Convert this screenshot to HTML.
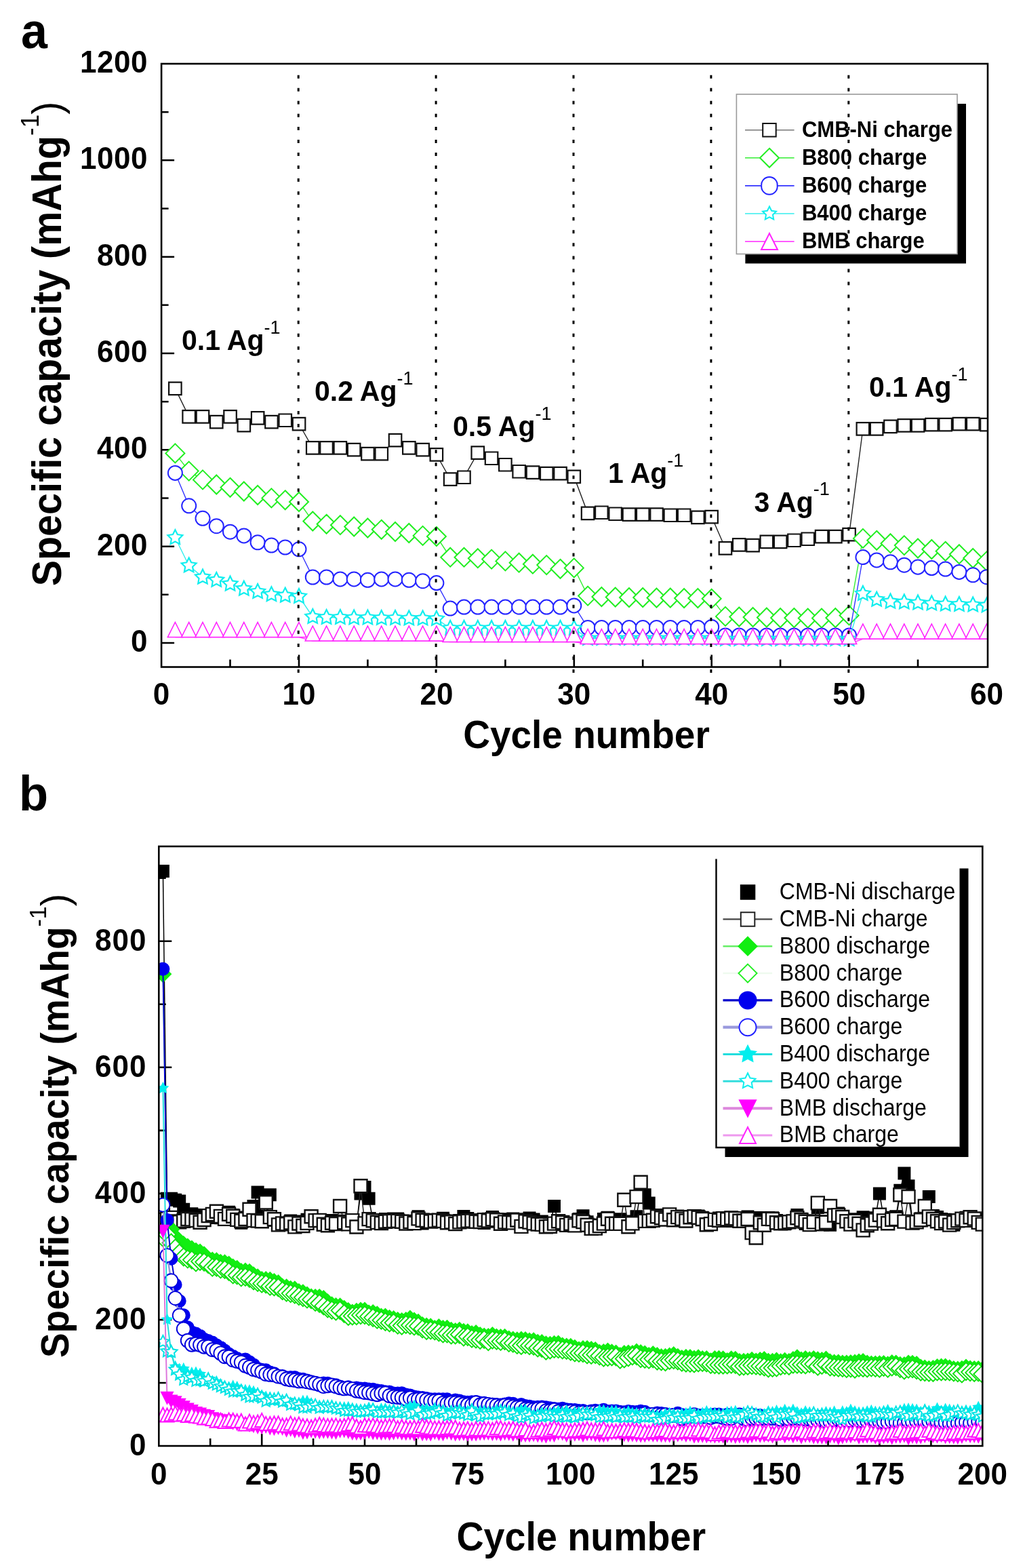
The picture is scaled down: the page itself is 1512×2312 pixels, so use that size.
<!DOCTYPE html>
<html><head><meta charset="utf-8"><title>Rate capability and cycling performance</title>
<style>html,body{margin:0;padding:0;background:#fff;width:1512px;height:2312px;overflow:hidden}svg{display:block}</style>
</head><body>
<svg width="1512" height="2312" viewBox="0 0 1512 2312">
<rect width="1512" height="2312" fill="#fff"/>
<text transform="translate(31 70.5) scale(1 1.05)" style="font-family:'Liberation Sans',Arial,Helvetica,sans-serif;font-weight:bold;font-size:70px">a</text>
<defs><clipPath id="ca"><rect x="238.1" y="94" width="1218.9" height="889.5"/></clipPath><clipPath id="cb"><rect x="234.3" y="1248" width="1215" height="884"/></clipPath></defs>
<path d="M238.1 948h19M238.1 876.8h10.5M238.1 805.7h19M238.1 734.5h10.5M238.1 663.3h19M238.1 592.2h10.5M238.1 521h19M238.1 449.8h10.5M238.1 378.7h19M238.1 307.5h10.5M238.1 236.3h19M238.1 165.2h10.5M339.5 983.5v-11M441 983.5v-18M542.4 983.5v-11M643.9 983.5v-18M745.4 983.5v-11M846.8 983.5v-18M948.2 983.5v-11M1049.7 983.5v-18M1151.1 983.5v-11M1252.6 983.5v-18M1354 983.5v-11" stroke="#000" stroke-width="2.6" fill="none"/>
<g clip-path="url(#ca)">
<path d="M258.4 572.9 278.7 614.4 299 614.4 319.3 622 339.5 614.4 359.8 627 380.1 616.4 400.4 622 420.7 619.8 441 625 461.3 660.5 481.6 660.5 501.9 660.5 522.2 663 542.4 669 562.7 669 583 649 603.3 660.5 623.6 663 643.9 670.5 664.2 706.6 684.5 703.7 704.8 667.6 725.1 675.8 745.4 685.2 765.6 695.2 785.9 696.6 806.2 698 826.5 698 846.8 702.9 867.1 756.9 887.4 755.8 907.7 757.8 928 758.6 948.2 758.6 968.5 758.6 988.8 759.7 1009.1 759.7 1029.4 762.9 1049.7 762 1070 808.5 1090.3 803.5 1110.6 804.1 1130.9 798.9 1151.1 798.9 1171.4 796.8 1191.7 794.8 1212 791 1232.3 791 1252.6 788.1 1272.9 632.4 1293.2 632.4 1313.5 628.9 1333.8 627.4 1354 627.4 1374.3 626 1394.6 626 1414.9 625.1 1435.2 625.1 1455.5 626" fill="none" stroke="#222" stroke-width="1.4"/>
<g fill="#fff" stroke="#111" stroke-width="2.2">
<path d="M249.1 563.6h18.5v18.5h-18.5z"/>
<path d="M269.4 605.1h18.5v18.5h-18.5z"/>
<path d="M289.7 605.1h18.5v18.5h-18.5z"/>
<path d="M310 612.8h18.5v18.5h-18.5z"/>
<path d="M330.3 605.1h18.5v18.5h-18.5z"/>
<path d="M350.6 617.8h18.5v18.5h-18.5z"/>
<path d="M370.9 607.1h18.5v18.5h-18.5z"/>
<path d="M391.2 612.8h18.5v18.5h-18.5z"/>
<path d="M411.5 610.5h18.5v18.5h-18.5z"/>
<path d="M431.8 615.8h18.5v18.5h-18.5z"/>
<path d="M452 651.2h18.5v18.5h-18.5z"/>
<path d="M472.3 651.2h18.5v18.5h-18.5z"/>
<path d="M492.6 651.2h18.5v18.5h-18.5z"/>
<path d="M512.9 653.8h18.5v18.5h-18.5z"/>
<path d="M533.2 659.8h18.5v18.5h-18.5z"/>
<path d="M553.5 659.8h18.5v18.5h-18.5z"/>
<path d="M573.8 639.8h18.5v18.5h-18.5z"/>
<path d="M594.1 651.2h18.5v18.5h-18.5z"/>
<path d="M614.4 653.8h18.5v18.5h-18.5z"/>
<path d="M634.6 661.2h18.5v18.5h-18.5z"/>
<path d="M654.9 697.4h18.5v18.5h-18.5z"/>
<path d="M675.2 694.5h18.5v18.5h-18.5z"/>
<path d="M695.5 658.4h18.5v18.5h-18.5z"/>
<path d="M715.8 666.5h18.5v18.5h-18.5z"/>
<path d="M736.1 676h18.5v18.5h-18.5z"/>
<path d="M756.4 686h18.5v18.5h-18.5z"/>
<path d="M776.7 687.4h18.5v18.5h-18.5z"/>
<path d="M797 688.8h18.5v18.5h-18.5z"/>
<path d="M817.3 688.8h18.5v18.5h-18.5z"/>
<path d="M837.5 693.6h18.5v18.5h-18.5z"/>
<path d="M857.8 747.6h18.5v18.5h-18.5z"/>
<path d="M878.1 746.5h18.5v18.5h-18.5z"/>
<path d="M898.4 748.5h18.5v18.5h-18.5z"/>
<path d="M918.7 749.4h18.5v18.5h-18.5z"/>
<path d="M939 749.4h18.5v18.5h-18.5z"/>
<path d="M959.3 749.4h18.5v18.5h-18.5z"/>
<path d="M979.6 750.5h18.5v18.5h-18.5z"/>
<path d="M999.9 750.5h18.5v18.5h-18.5z"/>
<path d="M1020.2 753.6h18.5v18.5h-18.5z"/>
<path d="M1040.4 752.8h18.5v18.5h-18.5z"/>
<path d="M1060.7 799.2h18.5v18.5h-18.5z"/>
<path d="M1081 794.2h18.5v18.5h-18.5z"/>
<path d="M1101.3 794.9h18.5v18.5h-18.5z"/>
<path d="M1121.6 789.6h18.5v18.5h-18.5z"/>
<path d="M1141.9 789.6h18.5v18.5h-18.5z"/>
<path d="M1162.2 787.5h18.5v18.5h-18.5z"/>
<path d="M1182.5 785.5h18.5v18.5h-18.5z"/>
<path d="M1202.8 781.8h18.5v18.5h-18.5z"/>
<path d="M1223.1 781.8h18.5v18.5h-18.5z"/>
<path d="M1243.3 778.9h18.5v18.5h-18.5z"/>
<path d="M1263.6 623.1h18.5v18.5h-18.5z"/>
<path d="M1283.9 623.1h18.5v18.5h-18.5z"/>
<path d="M1304.2 619.6h18.5v18.5h-18.5z"/>
<path d="M1324.5 618.1h18.5v18.5h-18.5z"/>
<path d="M1344.8 618.1h18.5v18.5h-18.5z"/>
<path d="M1365.1 616.8h18.5v18.5h-18.5z"/>
<path d="M1385.4 616.8h18.5v18.5h-18.5z"/>
<path d="M1405.7 615.9h18.5v18.5h-18.5z"/>
<path d="M1426 615.9h18.5v18.5h-18.5z"/>
<path d="M1446.2 616.8h18.5v18.5h-18.5z"/>
</g>
<path d="M258.4 668.4 278.7 694.6 299 707.4 319.3 714.5 339.5 718.8 359.8 724.5 380.1 730 400.4 734.4 420.7 737.3 441 740 461.3 768.5 481.6 772.8 501.9 774.2 522.2 776.5 542.4 778.5 562.7 780.8 583 784 603.3 786 623.6 789.9 643.9 791 664.2 821.7 684.5 821.7 704.8 823.2 725.1 824.6 745.4 827.4 765.6 829.7 785.9 831.7 806.2 833.1 826.5 838.8 846.8 837.4 867.1 878.6 887.4 880 907.7 880.5 928 881 948.2 881 968.5 881.5 988.8 881.5 1009.1 882 1029.4 882 1049.7 882.7 1070 908.9 1090.3 909.5 1110.6 910 1130.9 910.5 1151.1 911 1171.4 911 1191.7 911.5 1212 911.5 1232.3 911 1252.6 907.4 1272.9 793.9 1293.2 796.8 1313.5 801.2 1333.8 804.1 1354 808.5 1374.3 810 1394.6 812.8 1414.9 817.2 1435.2 823 1455.5 827.4" fill="none" stroke="#33ee33" stroke-width="1.4"/>
<g fill="#fff" stroke="#22ee22" stroke-width="2.0">
<path d="M258.4 654.4l14 14l-14 14l-14 -14z"/>
<path d="M278.7 680.6l14 14l-14 14l-14 -14z"/>
<path d="M299 693.4l14 14l-14 14l-14 -14z"/>
<path d="M319.3 700.5l14 14l-14 14l-14 -14z"/>
<path d="M339.5 704.8l14 14l-14 14l-14 -14z"/>
<path d="M359.8 710.5l14 14l-14 14l-14 -14z"/>
<path d="M380.1 716l14 14l-14 14l-14 -14z"/>
<path d="M400.4 720.4l14 14l-14 14l-14 -14z"/>
<path d="M420.7 723.3l14 14l-14 14l-14 -14z"/>
<path d="M441 726l14 14l-14 14l-14 -14z"/>
<path d="M461.3 754.5l14 14l-14 14l-14 -14z"/>
<path d="M481.6 758.8l14 14l-14 14l-14 -14z"/>
<path d="M501.9 760.2l14 14l-14 14l-14 -14z"/>
<path d="M522.2 762.5l14 14l-14 14l-14 -14z"/>
<path d="M542.4 764.5l14 14l-14 14l-14 -14z"/>
<path d="M562.7 766.8l14 14l-14 14l-14 -14z"/>
<path d="M583 770l14 14l-14 14l-14 -14z"/>
<path d="M603.3 772l14 14l-14 14l-14 -14z"/>
<path d="M623.6 775.9l14 14l-14 14l-14 -14z"/>
<path d="M643.9 777l14 14l-14 14l-14 -14z"/>
<path d="M664.2 807.7l14 14l-14 14l-14 -14z"/>
<path d="M684.5 807.7l14 14l-14 14l-14 -14z"/>
<path d="M704.8 809.2l14 14l-14 14l-14 -14z"/>
<path d="M725.1 810.6l14 14l-14 14l-14 -14z"/>
<path d="M745.4 813.4l14 14l-14 14l-14 -14z"/>
<path d="M765.6 815.7l14 14l-14 14l-14 -14z"/>
<path d="M785.9 817.7l14 14l-14 14l-14 -14z"/>
<path d="M806.2 819.1l14 14l-14 14l-14 -14z"/>
<path d="M826.5 824.8l14 14l-14 14l-14 -14z"/>
<path d="M846.8 823.4l14 14l-14 14l-14 -14z"/>
<path d="M867.1 864.6l14 14l-14 14l-14 -14z"/>
<path d="M887.4 866l14 14l-14 14l-14 -14z"/>
<path d="M907.7 866.5l14 14l-14 14l-14 -14z"/>
<path d="M928 867l14 14l-14 14l-14 -14z"/>
<path d="M948.2 867l14 14l-14 14l-14 -14z"/>
<path d="M968.5 867.5l14 14l-14 14l-14 -14z"/>
<path d="M988.8 867.5l14 14l-14 14l-14 -14z"/>
<path d="M1009.1 868l14 14l-14 14l-14 -14z"/>
<path d="M1029.4 868l14 14l-14 14l-14 -14z"/>
<path d="M1049.7 868.7l14 14l-14 14l-14 -14z"/>
<path d="M1070 894.9l14 14l-14 14l-14 -14z"/>
<path d="M1090.3 895.5l14 14l-14 14l-14 -14z"/>
<path d="M1110.6 896l14 14l-14 14l-14 -14z"/>
<path d="M1130.9 896.5l14 14l-14 14l-14 -14z"/>
<path d="M1151.1 897l14 14l-14 14l-14 -14z"/>
<path d="M1171.4 897l14 14l-14 14l-14 -14z"/>
<path d="M1191.7 897.5l14 14l-14 14l-14 -14z"/>
<path d="M1212 897.5l14 14l-14 14l-14 -14z"/>
<path d="M1232.3 897l14 14l-14 14l-14 -14z"/>
<path d="M1252.6 893.4l14 14l-14 14l-14 -14z"/>
<path d="M1272.9 779.9l14 14l-14 14l-14 -14z"/>
<path d="M1293.2 782.8l14 14l-14 14l-14 -14z"/>
<path d="M1313.5 787.2l14 14l-14 14l-14 -14z"/>
<path d="M1333.8 790.1l14 14l-14 14l-14 -14z"/>
<path d="M1354 794.5l14 14l-14 14l-14 -14z"/>
<path d="M1374.3 796l14 14l-14 14l-14 -14z"/>
<path d="M1394.6 798.8l14 14l-14 14l-14 -14z"/>
<path d="M1414.9 803.2l14 14l-14 14l-14 -14z"/>
<path d="M1435.2 809l14 14l-14 14l-14 -14z"/>
<path d="M1455.5 813.4l14 14l-14 14l-14 -14z"/>
</g>
<path d="M258.4 697.4 278.7 745.8 299 764.3 319.3 775.7 339.5 784.2 359.8 789.9 380.1 799.8 400.4 804 420.7 807 441 809.8 461.3 851 481.6 851 501.9 853.9 522.2 853.9 542.4 855.3 562.7 853.9 583 853.9 603.3 855.3 623.6 856.7 643.9 859.6 664.2 897.1 684.5 895.1 704.8 895.1 725.1 895.1 745.4 895.1 765.6 895.1 785.9 895.1 806.2 895.1 826.5 895.1 846.8 892.9 867.1 925.5 887.4 925.5 907.7 925.5 928 925.5 948.2 925.5 968.5 925.5 988.8 925.5 1009.1 925.5 1029.4 925.5 1049.7 924.5 1070 937 1090.3 937 1110.6 937 1130.9 937 1151.1 937 1171.4 937 1191.7 937 1212 937 1232.3 937 1252.6 937 1272.9 821.6 1293.2 825.9 1313.5 828.8 1333.8 833.2 1354 836.1 1374.3 837.6 1394.6 839 1414.9 843.4 1435.2 847.8 1455.5 850.7" fill="none" stroke="#3333ff" stroke-width="1.4"/>
<g fill="#fff" stroke="#2525ff" stroke-width="2.0">
<path d="M247.9 697.4a10.5 10.5 0 1 0 21 0a10.5 10.5 0 1 0 -21 0"/>
<path d="M268.2 745.8a10.5 10.5 0 1 0 21 0a10.5 10.5 0 1 0 -21 0"/>
<path d="M288.5 764.3a10.5 10.5 0 1 0 21 0a10.5 10.5 0 1 0 -21 0"/>
<path d="M308.8 775.7a10.5 10.5 0 1 0 21 0a10.5 10.5 0 1 0 -21 0"/>
<path d="M329 784.2a10.5 10.5 0 1 0 21 0a10.5 10.5 0 1 0 -21 0"/>
<path d="M349.3 789.9a10.5 10.5 0 1 0 21 0a10.5 10.5 0 1 0 -21 0"/>
<path d="M369.6 799.8a10.5 10.5 0 1 0 21 0a10.5 10.5 0 1 0 -21 0"/>
<path d="M389.9 804a10.5 10.5 0 1 0 21 0a10.5 10.5 0 1 0 -21 0"/>
<path d="M410.2 807a10.5 10.5 0 1 0 21 0a10.5 10.5 0 1 0 -21 0"/>
<path d="M430.5 809.8a10.5 10.5 0 1 0 21 0a10.5 10.5 0 1 0 -21 0"/>
<path d="M450.8 851a10.5 10.5 0 1 0 21 0a10.5 10.5 0 1 0 -21 0"/>
<path d="M471.1 851a10.5 10.5 0 1 0 21 0a10.5 10.5 0 1 0 -21 0"/>
<path d="M491.4 853.9a10.5 10.5 0 1 0 21 0a10.5 10.5 0 1 0 -21 0"/>
<path d="M511.7 853.9a10.5 10.5 0 1 0 21 0a10.5 10.5 0 1 0 -21 0"/>
<path d="M531.9 855.3a10.5 10.5 0 1 0 21 0a10.5 10.5 0 1 0 -21 0"/>
<path d="M552.2 853.9a10.5 10.5 0 1 0 21 0a10.5 10.5 0 1 0 -21 0"/>
<path d="M572.5 853.9a10.5 10.5 0 1 0 21 0a10.5 10.5 0 1 0 -21 0"/>
<path d="M592.8 855.3a10.5 10.5 0 1 0 21 0a10.5 10.5 0 1 0 -21 0"/>
<path d="M613.1 856.7a10.5 10.5 0 1 0 21 0a10.5 10.5 0 1 0 -21 0"/>
<path d="M633.4 859.6a10.5 10.5 0 1 0 21 0a10.5 10.5 0 1 0 -21 0"/>
<path d="M653.7 897.1a10.5 10.5 0 1 0 21 0a10.5 10.5 0 1 0 -21 0"/>
<path d="M674 895.1a10.5 10.5 0 1 0 21 0a10.5 10.5 0 1 0 -21 0"/>
<path d="M694.3 895.1a10.5 10.5 0 1 0 21 0a10.5 10.5 0 1 0 -21 0"/>
<path d="M714.6 895.1a10.5 10.5 0 1 0 21 0a10.5 10.5 0 1 0 -21 0"/>
<path d="M734.9 895.1a10.5 10.5 0 1 0 21 0a10.5 10.5 0 1 0 -21 0"/>
<path d="M755.1 895.1a10.5 10.5 0 1 0 21 0a10.5 10.5 0 1 0 -21 0"/>
<path d="M775.4 895.1a10.5 10.5 0 1 0 21 0a10.5 10.5 0 1 0 -21 0"/>
<path d="M795.7 895.1a10.5 10.5 0 1 0 21 0a10.5 10.5 0 1 0 -21 0"/>
<path d="M816 895.1a10.5 10.5 0 1 0 21 0a10.5 10.5 0 1 0 -21 0"/>
<path d="M836.3 892.9a10.5 10.5 0 1 0 21 0a10.5 10.5 0 1 0 -21 0"/>
<path d="M856.6 925.5a10.5 10.5 0 1 0 21 0a10.5 10.5 0 1 0 -21 0"/>
<path d="M876.9 925.5a10.5 10.5 0 1 0 21 0a10.5 10.5 0 1 0 -21 0"/>
<path d="M897.2 925.5a10.5 10.5 0 1 0 21 0a10.5 10.5 0 1 0 -21 0"/>
<path d="M917.5 925.5a10.5 10.5 0 1 0 21 0a10.5 10.5 0 1 0 -21 0"/>
<path d="M937.8 925.5a10.5 10.5 0 1 0 21 0a10.5 10.5 0 1 0 -21 0"/>
<path d="M958 925.5a10.5 10.5 0 1 0 21 0a10.5 10.5 0 1 0 -21 0"/>
<path d="M978.3 925.5a10.5 10.5 0 1 0 21 0a10.5 10.5 0 1 0 -21 0"/>
<path d="M998.6 925.5a10.5 10.5 0 1 0 21 0a10.5 10.5 0 1 0 -21 0"/>
<path d="M1018.9 925.5a10.5 10.5 0 1 0 21 0a10.5 10.5 0 1 0 -21 0"/>
<path d="M1039.2 924.5a10.5 10.5 0 1 0 21 0a10.5 10.5 0 1 0 -21 0"/>
<path d="M1059.5 937a10.5 10.5 0 1 0 21 0a10.5 10.5 0 1 0 -21 0"/>
<path d="M1079.8 937a10.5 10.5 0 1 0 21 0a10.5 10.5 0 1 0 -21 0"/>
<path d="M1100.1 937a10.5 10.5 0 1 0 21 0a10.5 10.5 0 1 0 -21 0"/>
<path d="M1120.4 937a10.5 10.5 0 1 0 21 0a10.5 10.5 0 1 0 -21 0"/>
<path d="M1140.6 937a10.5 10.5 0 1 0 21 0a10.5 10.5 0 1 0 -21 0"/>
<path d="M1160.9 937a10.5 10.5 0 1 0 21 0a10.5 10.5 0 1 0 -21 0"/>
<path d="M1181.2 937a10.5 10.5 0 1 0 21 0a10.5 10.5 0 1 0 -21 0"/>
<path d="M1201.5 937a10.5 10.5 0 1 0 21 0a10.5 10.5 0 1 0 -21 0"/>
<path d="M1221.8 937a10.5 10.5 0 1 0 21 0a10.5 10.5 0 1 0 -21 0"/>
<path d="M1242.1 937a10.5 10.5 0 1 0 21 0a10.5 10.5 0 1 0 -21 0"/>
<path d="M1262.4 821.6a10.5 10.5 0 1 0 21 0a10.5 10.5 0 1 0 -21 0"/>
<path d="M1282.7 825.9a10.5 10.5 0 1 0 21 0a10.5 10.5 0 1 0 -21 0"/>
<path d="M1303 828.8a10.5 10.5 0 1 0 21 0a10.5 10.5 0 1 0 -21 0"/>
<path d="M1323.3 833.2a10.5 10.5 0 1 0 21 0a10.5 10.5 0 1 0 -21 0"/>
<path d="M1343.5 836.1a10.5 10.5 0 1 0 21 0a10.5 10.5 0 1 0 -21 0"/>
<path d="M1363.8 837.6a10.5 10.5 0 1 0 21 0a10.5 10.5 0 1 0 -21 0"/>
<path d="M1384.1 839a10.5 10.5 0 1 0 21 0a10.5 10.5 0 1 0 -21 0"/>
<path d="M1404.4 843.4a10.5 10.5 0 1 0 21 0a10.5 10.5 0 1 0 -21 0"/>
<path d="M1424.7 847.8a10.5 10.5 0 1 0 21 0a10.5 10.5 0 1 0 -21 0"/>
<path d="M1445 850.7a10.5 10.5 0 1 0 21 0a10.5 10.5 0 1 0 -21 0"/>
</g>
<path d="M258.4 792.8 278.7 834 299 851.1 319.3 855.4 339.5 861.1 359.8 868.2 380.1 872.5 400.4 876.7 420.7 878.1 441 879.5 461.3 909.5 481.6 910.5 501.9 910.5 522.2 911 542.4 911 562.7 911.5 583 911.5 603.3 912 623.6 912 643.9 912.5 664.2 926.5 684.5 926.5 704.8 926.5 725.1 926.5 745.4 926.5 765.6 926.5 785.9 926.5 806.2 926.5 826.5 926.5 846.8 926.5 867.1 941.5 887.4 941.5 907.7 941.5 928 941.5 948.2 941.5 968.5 941.5 988.8 941.5 1009.1 941.5 1029.4 941.5 1049.7 941.5 1070 942.5 1090.3 942.5 1110.6 942.5 1130.9 942.5 1151.1 942.5 1171.4 942.5 1191.7 942.5 1212 942.5 1232.3 942.5 1252.6 942.5 1272.9 875.5 1293.2 884.2 1313.5 887.1 1333.8 888 1354 889 1374.3 890 1394.6 891 1414.9 891.5 1435.2 892 1455.5 892.9" fill="none" stroke="#33eeee" stroke-width="1.4"/>
<g fill="#fff" stroke="#11eeee" stroke-width="2.2">
<path d="M258.4 781.3L261.8 788.1L269.3 789.2L263.9 794.6L265.1 802.1L258.4 798.5L251.6 802.1L252.9 794.6L247.5 789.2L255 788.1z"/>
<path d="M278.7 822.5L282.1 829.3L289.6 830.4L284.1 835.8L285.4 843.3L278.7 839.8L271.9 843.3L273.2 835.8L267.7 830.4L275.3 829.3z"/>
<path d="M299 839.6L302.3 846.4L309.9 847.5L304.4 852.9L305.7 860.4L299 856.9L292.2 860.4L293.5 852.9L288 847.5L295.6 846.4z"/>
<path d="M319.3 843.9L322.6 850.7L330.2 851.8L324.7 857.2L326 864.7L319.3 861.1L312.5 864.7L313.8 857.2L308.3 851.8L315.9 850.7z"/>
<path d="M339.5 849.6L342.9 856.4L350.5 857.5L345 862.9L346.3 870.4L339.5 866.9L332.8 870.4L334.1 862.9L328.6 857.5L336.2 856.4z"/>
<path d="M359.8 856.7L363.2 863.5L370.8 864.6L365.3 870L366.6 877.5L359.8 874L353.1 877.5L354.4 870L348.9 864.6L356.5 863.5z"/>
<path d="M380.1 861L383.5 867.8L391.1 868.9L385.6 874.3L386.9 881.8L380.1 878.2L373.4 881.8L374.7 874.3L369.2 868.9L376.8 867.8z"/>
<path d="M400.4 865.2L403.8 872L411.4 873.1L405.9 878.5L407.2 886L400.4 882.5L393.7 886L395 878.5L389.5 873.1L397 872z"/>
<path d="M420.7 866.6L424.1 873.4L431.6 874.5L426.2 879.9L427.5 887.4L420.7 883.9L414 887.4L415.2 879.9L409.8 874.5L417.3 873.4z"/>
<path d="M441 868L444.4 874.8L451.9 875.9L446.5 881.3L447.8 888.8L441 885.2L434.2 888.8L435.5 881.3L430.1 875.9L437.6 874.8z"/>
<path d="M461.3 898L464.7 904.8L472.2 905.9L466.8 911.3L468 918.8L461.3 915.2L454.5 918.8L455.8 911.3L450.4 905.9L457.9 904.8z"/>
<path d="M481.6 899L485 905.8L492.5 906.9L487 912.3L488.3 919.8L481.6 916.2L474.8 919.8L476.1 912.3L470.6 906.9L478.2 905.8z"/>
<path d="M501.9 899L505.2 905.8L512.8 906.9L507.3 912.3L508.6 919.8L501.9 916.2L495.1 919.8L496.4 912.3L490.9 906.9L498.5 905.8z"/>
<path d="M522.2 899.5L525.5 906.3L533.1 907.4L527.6 912.8L528.9 920.3L522.2 916.8L515.4 920.3L516.7 912.8L511.2 907.4L518.8 906.3z"/>
<path d="M542.4 899.5L545.8 906.3L553.4 907.4L547.9 912.8L549.2 920.3L542.4 916.8L535.7 920.3L537 912.8L531.5 907.4L539.1 906.3z"/>
<path d="M562.7 900L566.1 906.8L573.7 907.9L568.2 913.3L569.5 920.8L562.7 917.2L556 920.8L557.3 913.3L551.8 907.9L559.4 906.8z"/>
<path d="M583 900L586.4 906.8L594 907.9L588.5 913.3L589.8 920.8L583 917.2L576.3 920.8L577.6 913.3L572.1 907.9L579.7 906.8z"/>
<path d="M603.3 900.5L606.7 907.3L614.3 908.4L608.8 913.8L610.1 921.3L603.3 917.8L596.6 921.3L597.9 913.8L592.4 908.4L599.9 907.3z"/>
<path d="M623.6 900.5L627 907.3L634.5 908.4L629.1 913.8L630.4 921.3L623.6 917.8L616.9 921.3L618.1 913.8L612.7 908.4L620.2 907.3z"/>
<path d="M643.9 901L647.3 907.8L654.8 908.9L649.4 914.3L650.7 921.8L643.9 918.2L637.1 921.8L638.4 914.3L633 908.9L640.5 907.8z"/>
<path d="M664.2 915L667.6 921.8L675.1 922.9L669.7 928.3L670.9 935.8L664.2 932.2L657.4 935.8L658.7 928.3L653.3 922.9L660.8 921.8z"/>
<path d="M684.5 915L687.9 921.8L695.4 922.9L689.9 928.3L691.2 935.8L684.5 932.2L677.7 935.8L679 928.3L673.5 922.9L681.1 921.8z"/>
<path d="M704.8 915L708.1 921.8L715.7 922.9L710.2 928.3L711.5 935.8L704.8 932.2L698 935.8L699.3 928.3L693.8 922.9L701.4 921.8z"/>
<path d="M725.1 915L728.4 921.8L736 922.9L730.5 928.3L731.8 935.8L725.1 932.2L718.3 935.8L719.6 928.3L714.1 922.9L721.7 921.8z"/>
<path d="M745.4 915L748.7 921.8L756.3 922.9L750.8 928.3L752.1 935.8L745.4 932.2L738.6 935.8L739.9 928.3L734.4 922.9L742 921.8z"/>
<path d="M765.6 915L769 921.8L776.6 922.9L771.1 928.3L772.4 935.8L765.6 932.2L758.9 935.8L760.2 928.3L754.7 922.9L762.3 921.8z"/>
<path d="M785.9 915L789.3 921.8L796.9 922.9L791.4 928.3L792.7 935.8L785.9 932.2L779.2 935.8L780.5 928.3L775 922.9L782.6 921.8z"/>
<path d="M806.2 915L809.6 921.8L817.2 922.9L811.7 928.3L813 935.8L806.2 932.2L799.5 935.8L800.8 928.3L795.3 922.9L802.8 921.8z"/>
<path d="M826.5 915L829.9 921.8L837.4 922.9L832 928.3L833.3 935.8L826.5 932.2L819.8 935.8L821 928.3L815.6 922.9L823.1 921.8z"/>
<path d="M846.8 915L850.2 921.8L857.7 922.9L852.3 928.3L853.6 935.8L846.8 932.2L840 935.8L841.3 928.3L835.9 922.9L843.4 921.8z"/>
<path d="M867.1 930L870.5 936.8L878 937.9L872.6 943.3L873.8 950.8L867.1 947.2L860.3 950.8L861.6 943.3L856.2 937.9L863.7 936.8z"/>
<path d="M887.4 930L890.8 936.8L898.3 937.9L892.8 943.3L894.1 950.8L887.4 947.2L880.6 950.8L881.9 943.3L876.4 937.9L884 936.8z"/>
<path d="M907.7 930L911 936.8L918.6 937.9L913.1 943.3L914.4 950.8L907.7 947.2L900.9 950.8L902.2 943.3L896.7 937.9L904.3 936.8z"/>
<path d="M928 930L931.3 936.8L938.9 937.9L933.4 943.3L934.7 950.8L928 947.2L921.2 950.8L922.5 943.3L917 937.9L924.6 936.8z"/>
<path d="M948.2 930L951.6 936.8L959.2 937.9L953.7 943.3L955 950.8L948.2 947.2L941.5 950.8L942.8 943.3L937.3 937.9L944.9 936.8z"/>
<path d="M968.5 930L971.9 936.8L979.5 937.9L974 943.3L975.3 950.8L968.5 947.2L961.8 950.8L963.1 943.3L957.6 937.9L965.2 936.8z"/>
<path d="M988.8 930L992.2 936.8L999.8 937.9L994.3 943.3L995.6 950.8L988.8 947.2L982.1 950.8L983.4 943.3L977.9 937.9L985.5 936.8z"/>
<path d="M1009.1 930L1012.5 936.8L1020.1 937.9L1014.6 943.3L1015.9 950.8L1009.1 947.2L1002.4 950.8L1003.7 943.3L998.2 937.9L1005.7 936.8z"/>
<path d="M1029.4 930L1032.8 936.8L1040.3 937.9L1034.9 943.3L1036.2 950.8L1029.4 947.2L1022.7 950.8L1023.9 943.3L1018.5 937.9L1026 936.8z"/>
<path d="M1049.7 930L1053.1 936.8L1060.6 937.9L1055.2 943.3L1056.5 950.8L1049.7 947.2L1042.9 950.8L1044.2 943.3L1038.8 937.9L1046.3 936.8z"/>
<path d="M1070 931L1073.4 937.8L1080.9 938.9L1075.5 944.3L1076.7 951.8L1070 948.2L1063.2 951.8L1064.5 944.3L1059.1 938.9L1066.6 937.8z"/>
<path d="M1090.3 931L1093.7 937.8L1101.2 938.9L1095.7 944.3L1097 951.8L1090.3 948.2L1083.5 951.8L1084.8 944.3L1079.3 938.9L1086.9 937.8z"/>
<path d="M1110.6 931L1113.9 937.8L1121.5 938.9L1116 944.3L1117.3 951.8L1110.6 948.2L1103.8 951.8L1105.1 944.3L1099.6 938.9L1107.2 937.8z"/>
<path d="M1130.9 931L1134.2 937.8L1141.8 938.9L1136.3 944.3L1137.6 951.8L1130.9 948.2L1124.1 951.8L1125.4 944.3L1119.9 938.9L1127.5 937.8z"/>
<path d="M1151.1 931L1154.5 937.8L1162.1 938.9L1156.6 944.3L1157.9 951.8L1151.1 948.2L1144.4 951.8L1145.7 944.3L1140.2 938.9L1147.8 937.8z"/>
<path d="M1171.4 931L1174.8 937.8L1182.4 938.9L1176.9 944.3L1178.2 951.8L1171.4 948.2L1164.7 951.8L1166 944.3L1160.5 938.9L1168.1 937.8z"/>
<path d="M1191.7 931L1195.1 937.8L1202.7 938.9L1197.2 944.3L1198.5 951.8L1191.7 948.2L1185 951.8L1186.3 944.3L1180.8 938.9L1188.4 937.8z"/>
<path d="M1212 931L1215.4 937.8L1223 938.9L1217.5 944.3L1218.8 951.8L1212 948.2L1205.3 951.8L1206.6 944.3L1201.1 938.9L1208.6 937.8z"/>
<path d="M1232.3 931L1235.7 937.8L1243.2 938.9L1237.8 944.3L1239.1 951.8L1232.3 948.2L1225.6 951.8L1226.8 944.3L1221.4 938.9L1228.9 937.8z"/>
<path d="M1252.6 931L1256 937.8L1263.5 938.9L1258.1 944.3L1259.4 951.8L1252.6 948.2L1245.8 951.8L1247.1 944.3L1241.7 938.9L1249.2 937.8z"/>
<path d="M1272.9 864L1276.3 870.8L1283.8 871.9L1278.4 877.3L1279.6 884.8L1272.9 881.2L1266.1 884.8L1267.4 877.3L1262 871.9L1269.5 870.8z"/>
<path d="M1293.2 872.7L1296.6 879.5L1304.1 880.6L1298.6 886L1299.9 893.5L1293.2 890L1286.4 893.5L1287.7 886L1282.2 880.6L1289.8 879.5z"/>
<path d="M1313.5 875.6L1316.8 882.4L1324.4 883.5L1318.9 888.9L1320.2 896.4L1313.5 892.9L1306.7 896.4L1308 888.9L1302.5 883.5L1310.1 882.4z"/>
<path d="M1333.8 876.5L1337.1 883.3L1344.7 884.4L1339.2 889.8L1340.5 897.3L1333.8 893.8L1327 897.3L1328.3 889.8L1322.8 884.4L1330.4 883.3z"/>
<path d="M1354 877.5L1357.4 884.3L1365 885.4L1359.5 890.8L1360.8 898.3L1354 894.8L1347.3 898.3L1348.6 890.8L1343.1 885.4L1350.7 884.3z"/>
<path d="M1374.3 878.5L1377.7 885.3L1385.3 886.4L1379.8 891.8L1381.1 899.3L1374.3 895.8L1367.6 899.3L1368.9 891.8L1363.4 886.4L1371 885.3z"/>
<path d="M1394.6 879.5L1398 886.3L1405.6 887.4L1400.1 892.8L1401.4 900.3L1394.6 896.8L1387.9 900.3L1389.2 892.8L1383.7 887.4L1391.3 886.3z"/>
<path d="M1414.9 880L1418.3 886.8L1425.9 887.9L1420.4 893.3L1421.7 900.8L1414.9 897.2L1408.2 900.8L1409.5 893.3L1404 887.9L1411.5 886.8z"/>
<path d="M1435.2 880.5L1438.6 887.3L1446.1 888.4L1440.7 893.8L1442 901.3L1435.2 897.8L1428.5 901.3L1429.7 893.8L1424.3 888.4L1431.8 887.3z"/>
<path d="M1455.5 881.4L1458.9 888.2L1466.4 889.3L1461 894.7L1462.3 902.2L1455.5 898.6L1448.7 902.2L1450 894.7L1444.6 889.3L1452.1 888.2z"/>
</g>
<path d="M258.4 939.5 278.7 939.5 299 939.5 319.3 939.5 339.5 939.5 359.8 939.5 380.1 939.5 400.4 939.5 420.7 939.5 441 939.5 461.3 945 481.6 945 501.9 945 522.2 945 542.4 945 562.7 945 583 945 603.3 945 623.6 945 643.9 945 664.2 946.5 684.5 946.5 704.8 946.5 725.1 946.5 745.4 946.5 765.6 946.5 785.9 946.5 806.2 946.5 826.5 946.5 846.8 946.5 867.1 949.5 887.4 949.5 907.7 949.5 928 949.5 948.2 949.5 968.5 949.5 988.8 949.5 1009.1 949.5 1029.4 949.5 1049.7 949.5 1070 949.5 1090.3 949.5 1110.6 949.5 1130.9 949.5 1151.1 949.5 1171.4 949.5 1191.7 949.5 1212 949.5 1232.3 949.5 1252.6 949.5 1272.9 942 1293.2 942 1313.5 942 1333.8 942 1354 942 1374.3 942 1394.6 942 1414.9 942 1435.2 942 1455.5 942" fill="none" stroke="#ff44ff" stroke-width="1.6"/>
<g fill="#fff" stroke="#ff22ff" stroke-width="1.6">
<path d="M258.4 917.5l11 22h-22z"/>
<path d="M278.7 917.5l11 22h-22z"/>
<path d="M299 917.5l11 22h-22z"/>
<path d="M319.3 917.5l11 22h-22z"/>
<path d="M339.5 917.5l11 22h-22z"/>
<path d="M359.8 917.5l11 22h-22z"/>
<path d="M380.1 917.5l11 22h-22z"/>
<path d="M400.4 917.5l11 22h-22z"/>
<path d="M420.7 917.5l11 22h-22z"/>
<path d="M441 917.5l11 22h-22z"/>
<path d="M461.3 923l11 22h-22z"/>
<path d="M481.6 923l11 22h-22z"/>
<path d="M501.9 923l11 22h-22z"/>
<path d="M522.2 923l11 22h-22z"/>
<path d="M542.4 923l11 22h-22z"/>
<path d="M562.7 923l11 22h-22z"/>
<path d="M583 923l11 22h-22z"/>
<path d="M603.3 923l11 22h-22z"/>
<path d="M623.6 923l11 22h-22z"/>
<path d="M643.9 923l11 22h-22z"/>
<path d="M664.2 924.5l11 22h-22z"/>
<path d="M684.5 924.5l11 22h-22z"/>
<path d="M704.8 924.5l11 22h-22z"/>
<path d="M725.1 924.5l11 22h-22z"/>
<path d="M745.4 924.5l11 22h-22z"/>
<path d="M765.6 924.5l11 22h-22z"/>
<path d="M785.9 924.5l11 22h-22z"/>
<path d="M806.2 924.5l11 22h-22z"/>
<path d="M826.5 924.5l11 22h-22z"/>
<path d="M846.8 924.5l11 22h-22z"/>
<path d="M867.1 927.5l11 22h-22z"/>
<path d="M887.4 927.5l11 22h-22z"/>
<path d="M907.7 927.5l11 22h-22z"/>
<path d="M928 927.5l11 22h-22z"/>
<path d="M948.2 927.5l11 22h-22z"/>
<path d="M968.5 927.5l11 22h-22z"/>
<path d="M988.8 927.5l11 22h-22z"/>
<path d="M1009.1 927.5l11 22h-22z"/>
<path d="M1029.4 927.5l11 22h-22z"/>
<path d="M1049.7 927.5l11 22h-22z"/>
<path d="M1070 927.5l11 22h-22z"/>
<path d="M1090.3 927.5l11 22h-22z"/>
<path d="M1110.6 927.5l11 22h-22z"/>
<path d="M1130.9 927.5l11 22h-22z"/>
<path d="M1151.1 927.5l11 22h-22z"/>
<path d="M1171.4 927.5l11 22h-22z"/>
<path d="M1191.7 927.5l11 22h-22z"/>
<path d="M1212 927.5l11 22h-22z"/>
<path d="M1232.3 927.5l11 22h-22z"/>
<path d="M1252.6 927.5l11 22h-22z"/>
<path d="M1272.9 920l11 22h-22z"/>
<path d="M1293.2 920l11 22h-22z"/>
<path d="M1313.5 920l11 22h-22z"/>
<path d="M1333.8 920l11 22h-22z"/>
<path d="M1354 920l11 22h-22z"/>
<path d="M1374.3 920l11 22h-22z"/>
<path d="M1394.6 920l11 22h-22z"/>
<path d="M1414.9 920l11 22h-22z"/>
<path d="M1435.2 920l11 22h-22z"/>
<path d="M1455.5 920l11 22h-22z"/>
</g>
</g>
<rect x="238.1" y="94" width="1218.9" height="889.5" fill="none" stroke="#000" stroke-width="2.6"/>
<text transform="translate(218 961) scale(1 1.05)" text-anchor="end" style="font-family:'Liberation Sans',Arial,Helvetica,sans-serif;font-weight:bold;font-size:44px;letter-spacing:0.5px">0</text>
<text transform="translate(218 818.7) scale(1 1.05)" text-anchor="end" style="font-family:'Liberation Sans',Arial,Helvetica,sans-serif;font-weight:bold;font-size:44px;letter-spacing:0.5px">200</text>
<text transform="translate(218 676.3) scale(1 1.05)" text-anchor="end" style="font-family:'Liberation Sans',Arial,Helvetica,sans-serif;font-weight:bold;font-size:44px;letter-spacing:0.5px">400</text>
<text transform="translate(218 534) scale(1 1.05)" text-anchor="end" style="font-family:'Liberation Sans',Arial,Helvetica,sans-serif;font-weight:bold;font-size:44px;letter-spacing:0.5px">600</text>
<text transform="translate(218 391.7) scale(1 1.05)" text-anchor="end" style="font-family:'Liberation Sans',Arial,Helvetica,sans-serif;font-weight:bold;font-size:44px;letter-spacing:0.5px">800</text>
<text transform="translate(218 249.3) scale(1 1.05)" text-anchor="end" style="font-family:'Liberation Sans',Arial,Helvetica,sans-serif;font-weight:bold;font-size:44px;letter-spacing:0.5px">1000</text>
<text transform="translate(218 107) scale(1 1.05)" text-anchor="end" style="font-family:'Liberation Sans',Arial,Helvetica,sans-serif;font-weight:bold;font-size:44px;letter-spacing:0.5px">1200</text>
<text transform="translate(238.1 1039.3) scale(1 1.05)" text-anchor="middle" style="font-family:'Liberation Sans',Arial,Helvetica,sans-serif;font-weight:bold;font-size:44px">0</text>
<text transform="translate(441 1039.3) scale(1 1.05)" text-anchor="middle" style="font-family:'Liberation Sans',Arial,Helvetica,sans-serif;font-weight:bold;font-size:44px">10</text>
<text transform="translate(643.9 1039.3) scale(1 1.05)" text-anchor="middle" style="font-family:'Liberation Sans',Arial,Helvetica,sans-serif;font-weight:bold;font-size:44px">20</text>
<text transform="translate(846.8 1039.3) scale(1 1.05)" text-anchor="middle" style="font-family:'Liberation Sans',Arial,Helvetica,sans-serif;font-weight:bold;font-size:44px">30</text>
<text transform="translate(1049.7 1039.3) scale(1 1.05)" text-anchor="middle" style="font-family:'Liberation Sans',Arial,Helvetica,sans-serif;font-weight:bold;font-size:44px">40</text>
<text transform="translate(1252.6 1039.3) scale(1 1.05)" text-anchor="middle" style="font-family:'Liberation Sans',Arial,Helvetica,sans-serif;font-weight:bold;font-size:44px">50</text>
<text transform="translate(1455.5 1039.3) scale(1 1.05)" text-anchor="middle" style="font-family:'Liberation Sans',Arial,Helvetica,sans-serif;font-weight:bold;font-size:44px">60</text>
<text transform="translate(865 1102.5) scale(1 1.05)" text-anchor="middle" style="font-family:'Liberation Sans',Arial,Helvetica,sans-serif;font-weight:bold;font-size:55px">Cycle number</text>
<text transform="translate(89.7 507) rotate(-90) scale(1 1.05)" text-anchor="middle" style="font-family:'Liberation Sans',Arial,Helvetica,sans-serif;font-weight:bold;font-size:57.5px">Specific capacity (mAhg<tspan dy="-31" style="font-size:35px;font-weight:normal">-1</tspan><tspan dy="31" style="font-weight:normal">)</tspan></text>
<text transform="translate(268 516) scale(1 1.05)" style="font-family:'Liberation Sans',Arial,Helvetica,sans-serif;font-weight:bold;font-size:41px">0.1 Ag<tspan dy="-23" style="font-size:27px;font-weight:normal">-1</tspan></text>
<text transform="translate(464 590.8) scale(1 1.05)" style="font-family:'Liberation Sans',Arial,Helvetica,sans-serif;font-weight:bold;font-size:41px">0.2 Ag<tspan dy="-23" style="font-size:27px;font-weight:normal">-1</tspan></text>
<text transform="translate(668 643.1) scale(1 1.05)" style="font-family:'Liberation Sans',Arial,Helvetica,sans-serif;font-weight:bold;font-size:41px">0.5 Ag<tspan dy="-23" style="font-size:27px;font-weight:normal">-1</tspan></text>
<text transform="translate(897 712.3) scale(1 1.05)" style="font-family:'Liberation Sans',Arial,Helvetica,sans-serif;font-weight:bold;font-size:41px">1 Ag<tspan dy="-23" style="font-size:27px;font-weight:normal">-1</tspan></text>
<text transform="translate(1112.5 754.6) scale(1 1.05)" style="font-family:'Liberation Sans',Arial,Helvetica,sans-serif;font-weight:bold;font-size:41px">3 Ag<tspan dy="-23" style="font-size:27px;font-weight:normal">-1</tspan></text>
<text transform="translate(1282 585.3) scale(1 1.05)" style="font-family:'Liberation Sans',Arial,Helvetica,sans-serif;font-weight:bold;font-size:41px">0.1 Ag<tspan dy="-23" style="font-size:27px;font-weight:normal">-1</tspan></text>
<rect x="1099.4" y="153" width="325.6" height="235.5" fill="#000"/>
<rect x="1086.4" y="139" width="325.6" height="235.5" fill="#fff" stroke="#999" stroke-width="1.6"/>
<path d="M1099 191.7H1171.6" stroke="#777" stroke-width="1.6"/>
<path d="M1125.2 181.9h19.5v19.5h-19.5z" fill="#fff" stroke="#111" stroke-width="2"/>
<text transform="translate(1183 201.7) scale(1 1.05)" style="font-family:'Liberation Sans',Arial,Helvetica,sans-serif;font-weight:bold;font-size:31px">CMB-Ni charge</text>
<path d="M1099 232.8H1171.6" stroke="#33ee33" stroke-width="1.6"/>
<path d="M1135 218.8l14 14l-14 14l-14 -14z" fill="#fff" stroke="#22ee22" stroke-width="2"/>
<text transform="translate(1183 242.8) scale(1 1.05)" style="font-family:'Liberation Sans',Arial,Helvetica,sans-serif;font-weight:bold;font-size:31px">B800 charge</text>
<path d="M1099 273.9H1171.6" stroke="#3333ff" stroke-width="1.6"/>
<path d="M1123.2 273.9a11.8 11.8 0 1 0 23.5 0a11.8 11.8 0 1 0 -23.5 0" fill="#fff" stroke="#2222ff" stroke-width="2"/>
<text transform="translate(1183 283.9) scale(1 1.05)" style="font-family:'Liberation Sans',Arial,Helvetica,sans-serif;font-weight:bold;font-size:31px">B600 charge</text>
<path d="M1099 315H1171.6" stroke="#33eeee" stroke-width="1.6"/>
<path d="M1135 304.5L1138.1 310.8L1145 311.8L1140 316.6L1141.2 323.5L1135 320.2L1128.8 323.5L1130 316.6L1125 311.8L1131.9 310.8z" fill="#fff" stroke="#11eeee" stroke-width="2"/>
<text transform="translate(1183 325) scale(1 1.05)" style="font-family:'Liberation Sans',Arial,Helvetica,sans-serif;font-weight:bold;font-size:31px">B400 charge</text>
<path d="M1099 356.1H1171.6" stroke="#ff44ff" stroke-width="1.6"/>
<path d="M1135 344.1l12 24h-24z" fill="#fff" stroke="#ff22ff" stroke-width="2"/>
<text transform="translate(1183 366.1) scale(1 1.05)" style="font-family:'Liberation Sans',Arial,Helvetica,sans-serif;font-weight:bold;font-size:31px">BMB charge</text>
<line x1="440.2" y1="110.7" x2="440.2" y2="994" stroke="#000" stroke-width="3" stroke-dasharray="5 14.05"/>
<line x1="643.1" y1="110.7" x2="643.1" y2="994" stroke="#000" stroke-width="3" stroke-dasharray="5 14.05"/>
<line x1="846" y1="110.7" x2="846" y2="994" stroke="#000" stroke-width="3" stroke-dasharray="5 14.05"/>
<line x1="1048.9" y1="110.7" x2="1048.9" y2="994" stroke="#000" stroke-width="3" stroke-dasharray="5 14.05"/>
<line x1="1251.8" y1="110.7" x2="1251.8" y2="994" stroke="#000" stroke-width="3" stroke-dasharray="5 14.05"/>
<text transform="translate(28 1194.5) scale(1 1.02)" style="font-family:'Liberation Sans',Arial,Helvetica,sans-serif;font-weight:bold;font-size:70.5px">b</text>
<path d="M234.3 2039h10.5M234.3 1946h19M234.3 1852.9h10.5M234.3 1759.9h19M234.3 1666.9h10.5M234.3 1573.8h19M234.3 1480.8h10.5M234.3 1387.8h19M234.3 1294.8h10.5M310.2 2132v-11M386.2 2132v-18M462.1 2132v-11M538 2132v-18M614 2132v-11M689.9 2132v-18M765.9 2132v-11M841.8 2132v-18M917.7 2132v-11M993.7 2132v-18M1069.6 2132v-11M1145.5 2132v-18M1221.5 2132v-11M1297.4 2132v-18M1373.4 2132v-11" stroke="#000" stroke-width="2.6" fill="none"/>
<g clip-path="url(#cb)">
<path d="M240.4 1284.5 246.5 1767.3 252.5 1767.3 258.6 1769.2 264.7 1771.1 270.8 1783.2 276.8 1796.2 282.9 1789.8 289 1796.7 295.1 1798 301.1 1791.6 307.2 1794.7 313.3 1795.4 319.4 1791 325.4 1795.8 331.5 1793.3 337.6 1787.2 343.7 1791.6 349.7 1794.9 355.8 1803.2 361.9 1796.4 368 1797.5 374 1778.5 380.1 1758 386.2 1795.2 392.2 1793 398.3 1761.8 404.4 1799.2 410.5 1804.7 416.6 1803.9 422.6 1804.5 428.7 1800.1 434.8 1805.4 440.9 1801.1 446.9 1802.1 453 1798.2 459.1 1793 465.1 1800.5 471.2 1800.4 477.3 1800.7 483.4 1799.6 489.5 1799.5 495.5 1800.7 501.6 1800.2 507.7 1800.5 513.8 1804.5 519.8 1801.8 525.9 1806.6 532 1759.9 538 1750.6 544.1 1767.3 550.2 1800 556.3 1798.7 562.4 1801.8 568.4 1797.6 574.5 1801.5 580.6 1797 586.7 1797.1 592.7 1800.5 598.8 1804 604.9 1801.3 611 1801.3 617 1793.8 623.1 1804.1 629.2 1800 635.2 1799.6 641.3 1800.1 647.4 1798.8 653.5 1796.2 659.5 1799.9 665.6 1802.6 671.7 1802.9 677.8 1799.4 683.9 1793.6 689.9 1796.4 696 1798.8 702.1 1800.6 708.2 1801.2 714.2 1803.5 720.3 1797.3 726.4 1794.6 732.5 1800.9 738.5 1800.2 744.6 1797.8 750.7 1798.7 756.8 1797.1 762.8 1802.3 768.9 1809.3 775 1800.7 781 1795.9 787.1 1798 793.2 1802.8 799.3 1801 805.4 1806.4 811.4 1806 817.5 1778.5 823.6 1802.2 829.7 1805.7 835.7 1806.7 841.8 1804 847.9 1804.9 854 1797.4 860 1792.7 866.1 1801.7 872.2 1811.3 878.2 1808.7 884.3 1805.9 890.4 1797.6 896.5 1795.3 902.5 1804 908.6 1800.1 914.7 1797.8 920.8 1803.8 926.9 1808.8 932.9 1801 939 1793.8 945.1 1755.2 951.2 1761.8 957.2 1773.9 963.3 1799.5 969.4 1793.8 975.5 1791.6 981.5 1794.7 987.6 1791.5 993.7 1799.2 999.8 1793.1 1005.8 1795.8 1011.9 1800.7 1018 1793.7 1024 1793 1030.1 1793 1036.2 1795.2 1042.3 1800.8 1048.4 1797.4 1054.4 1799.7 1060.5 1796 1066.6 1797.2 1072.7 1800.4 1078.7 1794.9 1084.8 1799.2 1090.9 1800.2 1097 1796.6 1103 1794.1 1109.1 1799 1115.2 1799.1 1121.2 1795.5 1127.3 1799.1 1133.4 1795.6 1139.5 1795.8 1145.5 1799.6 1151.6 1803.6 1157.7 1804.8 1163.8 1801.3 1169.9 1800.1 1175.9 1791.5 1182 1797.2 1188.1 1804.4 1194.2 1805.3 1200.2 1800 1206.3 1780.4 1212.4 1804.3 1218.5 1801.1 1224.5 1806.2 1230.6 1792.4 1236.7 1789 1242.8 1795.5 1248.8 1798.3 1254.9 1801.4 1261 1797.7 1267 1800.1 1273.1 1794.8 1279.2 1806.6 1285.3 1804.3 1291.3 1795.7 1297.4 1759.9 1303.5 1795.3 1309.6 1799.2 1315.7 1795.5 1321.7 1793.8 1327.8 1755.2 1333.9 1730.1 1340 1748.7 1346 1800.7 1352.1 1801.5 1358.2 1796.8 1364.2 1792.6 1370.3 1764.6 1376.4 1792.4 1382.5 1794.5 1388.5 1797.6 1394.6 1798.3 1400.7 1800.4 1406.8 1806.3 1412.8 1799.8 1418.9 1797.3 1425 1795.2 1431.1 1796.4 1437.2 1798.8 1443.2 1801.3 1449.3 1798" fill="none" stroke="#000" stroke-width="1.5"/>
<path d="M230.9 1275h19v19h-19zM237 1757.8h19v19h-19zM243 1757.8h19v19h-19zM249.1 1759.7h19v19h-19zM255.2 1761.6h19v19h-19zM261.2 1773.7h19v19h-19zM267.3 1786.7h19v19h-19zM273.4 1780.3h19v19h-19zM279.5 1787.2h19v19h-19zM285.6 1788.5h19v19h-19zM291.6 1782.1h19v19h-19zM297.7 1785.2h19v19h-19zM303.8 1785.9h19v19h-19zM309.9 1781.5h19v19h-19zM315.9 1786.3h19v19h-19zM322 1783.8h19v19h-19zM328.1 1777.7h19v19h-19zM334.2 1782.1h19v19h-19zM340.2 1785.4h19v19h-19zM346.3 1793.7h19v19h-19zM352.4 1786.9h19v19h-19zM358.5 1788h19v19h-19zM364.5 1769h19v19h-19zM370.6 1748.5h19v19h-19zM376.7 1785.7h19v19h-19zM382.8 1783.5h19v19h-19zM388.8 1752.3h19v19h-19zM394.9 1789.7h19v19h-19zM401 1795.2h19v19h-19zM407.1 1794.4h19v19h-19zM413.1 1795h19v19h-19zM419.2 1790.6h19v19h-19zM425.3 1795.9h19v19h-19zM431.4 1791.6h19v19h-19zM437.4 1792.6h19v19h-19zM443.5 1788.7h19v19h-19zM449.6 1783.5h19v19h-19zM455.6 1791h19v19h-19zM461.7 1790.9h19v19h-19zM467.8 1791.2h19v19h-19zM473.9 1790.1h19v19h-19zM480 1790h19v19h-19zM486 1791.2h19v19h-19zM492.1 1790.7h19v19h-19zM498.2 1791h19v19h-19zM504.2 1795h19v19h-19zM510.3 1792.3h19v19h-19zM516.4 1797.1h19v19h-19zM522.5 1750.4h19v19h-19zM528.5 1741.1h19v19h-19zM534.6 1757.8h19v19h-19zM540.7 1790.5h19v19h-19zM546.8 1789.2h19v19h-19zM552.9 1792.3h19v19h-19zM558.9 1788.1h19v19h-19zM565 1792h19v19h-19zM571.1 1787.5h19v19h-19zM577.2 1787.6h19v19h-19zM583.2 1791h19v19h-19zM589.3 1794.5h19v19h-19zM595.4 1791.8h19v19h-19zM601.5 1791.8h19v19h-19zM607.5 1784.3h19v19h-19zM613.6 1794.6h19v19h-19zM619.7 1790.5h19v19h-19zM625.8 1790.1h19v19h-19zM631.8 1790.6h19v19h-19zM637.9 1789.3h19v19h-19zM644 1786.7h19v19h-19zM650 1790.4h19v19h-19zM656.1 1793.1h19v19h-19zM662.2 1793.4h19v19h-19zM668.3 1789.9h19v19h-19zM674.4 1784.1h19v19h-19zM680.4 1786.9h19v19h-19zM686.5 1789.3h19v19h-19zM692.6 1791.1h19v19h-19zM698.7 1791.7h19v19h-19zM704.7 1794h19v19h-19zM710.8 1787.8h19v19h-19zM716.9 1785.1h19v19h-19zM723 1791.4h19v19h-19zM729 1790.7h19v19h-19zM735.1 1788.3h19v19h-19zM741.2 1789.2h19v19h-19zM747.2 1787.6h19v19h-19zM753.3 1792.8h19v19h-19zM759.4 1799.8h19v19h-19zM765.5 1791.2h19v19h-19zM771.5 1786.4h19v19h-19zM777.6 1788.5h19v19h-19zM783.7 1793.3h19v19h-19zM789.8 1791.5h19v19h-19zM795.9 1796.9h19v19h-19zM801.9 1796.5h19v19h-19zM808 1769h19v19h-19zM814.1 1792.7h19v19h-19zM820.2 1796.2h19v19h-19zM826.2 1797.2h19v19h-19zM832.3 1794.5h19v19h-19zM838.4 1795.4h19v19h-19zM844.5 1787.9h19v19h-19zM850.5 1783.2h19v19h-19zM856.6 1792.2h19v19h-19zM862.7 1801.8h19v19h-19zM868.8 1799.2h19v19h-19zM874.8 1796.4h19v19h-19zM880.9 1788.1h19v19h-19zM887 1785.8h19v19h-19zM893 1794.5h19v19h-19zM899.1 1790.6h19v19h-19zM905.2 1788.3h19v19h-19zM911.3 1794.3h19v19h-19zM917.4 1799.3h19v19h-19zM923.4 1791.5h19v19h-19zM929.5 1784.3h19v19h-19zM935.6 1745.7h19v19h-19zM941.7 1752.3h19v19h-19zM947.7 1764.4h19v19h-19zM953.8 1790h19v19h-19zM959.9 1784.3h19v19h-19zM966 1782.1h19v19h-19zM972 1785.2h19v19h-19zM978.1 1782h19v19h-19zM984.2 1789.7h19v19h-19zM990.2 1783.6h19v19h-19zM996.3 1786.3h19v19h-19zM1002.4 1791.2h19v19h-19zM1008.5 1784.2h19v19h-19zM1014.5 1783.5h19v19h-19zM1020.6 1783.5h19v19h-19zM1026.7 1785.7h19v19h-19zM1032.8 1791.3h19v19h-19zM1038.9 1787.9h19v19h-19zM1044.9 1790.2h19v19h-19zM1051 1786.5h19v19h-19zM1057.1 1787.7h19v19h-19zM1063.2 1790.9h19v19h-19zM1069.2 1785.4h19v19h-19zM1075.3 1789.7h19v19h-19zM1081.4 1790.7h19v19h-19zM1087.5 1787.1h19v19h-19zM1093.5 1784.6h19v19h-19zM1099.6 1789.5h19v19h-19zM1105.7 1789.6h19v19h-19zM1111.8 1786h19v19h-19zM1117.8 1789.6h19v19h-19zM1123.9 1786.1h19v19h-19zM1130 1786.3h19v19h-19zM1136 1790.1h19v19h-19zM1142.1 1794.1h19v19h-19zM1148.2 1795.3h19v19h-19zM1154.3 1791.8h19v19h-19zM1160.4 1790.6h19v19h-19zM1166.4 1782h19v19h-19zM1172.5 1787.7h19v19h-19zM1178.6 1794.9h19v19h-19zM1184.7 1795.8h19v19h-19zM1190.7 1790.5h19v19h-19zM1196.8 1770.9h19v19h-19zM1202.9 1794.8h19v19h-19zM1209 1791.6h19v19h-19zM1215 1796.7h19v19h-19zM1221.1 1782.9h19v19h-19zM1227.2 1779.5h19v19h-19zM1233.2 1786h19v19h-19zM1239.3 1788.8h19v19h-19zM1245.4 1791.9h19v19h-19zM1251.5 1788.2h19v19h-19zM1257.5 1790.6h19v19h-19zM1263.6 1785.3h19v19h-19zM1269.7 1797.1h19v19h-19zM1275.8 1794.8h19v19h-19zM1281.8 1786.2h19v19h-19zM1287.9 1750.4h19v19h-19zM1294 1785.8h19v19h-19zM1300.1 1789.7h19v19h-19zM1306.2 1786h19v19h-19zM1312.2 1784.3h19v19h-19zM1318.3 1745.7h19v19h-19zM1324.4 1720.6h19v19h-19zM1330.5 1739.2h19v19h-19zM1336.5 1791.2h19v19h-19zM1342.6 1792h19v19h-19zM1348.7 1787.3h19v19h-19zM1354.8 1783.1h19v19h-19zM1360.8 1755.1h19v19h-19zM1366.9 1782.9h19v19h-19zM1373 1785h19v19h-19zM1379 1788.1h19v19h-19zM1385.1 1788.8h19v19h-19zM1391.2 1790.9h19v19h-19zM1397.3 1796.8h19v19h-19zM1403.3 1790.3h19v19h-19zM1409.4 1787.8h19v19h-19zM1415.5 1785.7h19v19h-19zM1421.6 1786.9h19v19h-19zM1427.7 1789.3h19v19h-19zM1433.7 1791.8h19v19h-19zM1439.8 1788.5h19v19h-19z" fill="#000"/>
<path d="M240.4 1779.4 246.5 1797.1 252.5 1795.4 258.6 1800.9 264.7 1801.8 270.8 1800.3 276.8 1797.5 282.9 1797.9 289 1799.5 295.1 1802.3 301.1 1798.5 307.2 1792.6 313.3 1790.4 319.4 1786.3 325.4 1793.4 331.5 1797.4 337.6 1790.3 343.7 1793.2 349.7 1798.4 355.8 1800.2 361.9 1797.5 368 1783.2 374 1799.4 380.1 1800 386.2 1800.8 392.2 1772.9 398.3 1794.6 404.4 1797.7 410.5 1805.9 416.6 1803.9 422.6 1804.7 428.7 1802.9 434.8 1808.9 440.9 1804 446.9 1807.5 453 1803.4 459.1 1793.8 465.1 1799.6 471.2 1799.4 477.3 1805.2 483.4 1806.7 489.5 1803.3 495.5 1804.6 501.6 1778.5 507.7 1802.7 513.8 1804.9 519.8 1799.6 525.9 1809 532 1748.7 538 1803.9 544.1 1797.6 550.2 1799.8 556.3 1802.4 562.4 1803.6 568.4 1801.2 574.5 1800.7 580.6 1800.4 586.7 1800.2 592.7 1801.3 598.8 1804 604.9 1801.4 611 1803.6 617 1796.9 623.1 1799.3 629.2 1799.4 635.2 1801.1 641.3 1800.1 647.4 1799.3 653.5 1800.5 659.5 1802.7 665.6 1801.9 671.7 1804.6 677.8 1801.9 683.9 1801.1 689.9 1800.3 696 1800 702.1 1801.2 708.2 1801.5 714.2 1798.6 720.3 1799.9 726.4 1797.7 732.5 1798.7 738.5 1804.2 744.6 1801.9 750.7 1802.2 756.8 1802.9 762.8 1799 768.9 1808.4 775 1800.7 781 1802.1 787.1 1803.9 793.2 1805 799.3 1805.4 805.4 1808.8 811.4 1808.2 817.5 1804.1 823.6 1800.8 829.7 1802.5 835.7 1806.4 841.8 1804.3 847.9 1806.9 854 1799.7 860 1801.6 866.1 1806.3 872.2 1811.4 878.2 1811.1 884.3 1807.6 890.4 1804.1 896.5 1797.3 902.5 1804.3 908.6 1804.4 914.7 1804.4 920.8 1769.2 926.9 1808.8 932.9 1803.9 939 1764.6 945.1 1743.2 951.2 1800.4 957.2 1800.4 963.3 1799.3 969.4 1793.7 975.5 1795.7 981.5 1798 987.6 1790.9 993.7 1798.8 999.8 1794.6 1005.8 1797.1 1011.9 1800 1018 1794.7 1024 1793.8 1030.1 1795.2 1036.2 1797.5 1042.3 1805.7 1048.4 1804.6 1054.4 1798.4 1060.5 1799.2 1066.6 1796.6 1072.7 1797.8 1078.7 1796 1084.8 1796.6 1090.9 1800.3 1097 1800.3 1103 1797.5 1109.1 1817.6 1115.2 1825 1121.2 1802.8 1127.3 1806.2 1133.4 1797.4 1139.5 1797.6 1145.5 1802.7 1151.6 1803.8 1157.7 1802.9 1163.8 1801.7 1169.9 1800.9 1175.9 1795.7 1182 1798.8 1188.1 1801.3 1194.2 1805.6 1200.2 1801.9 1206.3 1773.9 1212.4 1804.8 1218.5 1802.3 1224.5 1778.5 1230.6 1792 1236.7 1791.6 1242.8 1794.5 1248.8 1800.8 1254.9 1805.1 1261 1800.4 1267 1804.2 1273.1 1813.9 1279.2 1806.7 1285.3 1804.1 1291.3 1799.1 1297.4 1791.2 1303.5 1799.9 1309.6 1803.7 1315.7 1798.2 1321.7 1797.4 1327.8 1761.8 1333.9 1801.1 1340 1764.6 1346 1803.1 1352.1 1801.9 1358.2 1798.7 1364.2 1778.5 1370.3 1793.9 1376.4 1797.5 1382.5 1800.8 1388.5 1803.6 1394.6 1801 1400.7 1806.1 1406.8 1802.6 1412.8 1799.7 1418.9 1797.1 1425 1799.4 1431.1 1794.8 1437.2 1797 1443.2 1802.4 1449.3 1805.1" fill="none" stroke="#222" stroke-width="1.5"/>
<g fill="#fff" stroke="#111" stroke-width="2.4">
<path d="M230.9 1769.9h19v19h-19z"/>
<path d="M237 1787.6h19v19h-19z"/>
<path d="M243 1785.9h19v19h-19z"/>
<path d="M249.1 1791.4h19v19h-19z"/>
<path d="M255.2 1792.3h19v19h-19z"/>
<path d="M261.2 1790.8h19v19h-19z"/>
<path d="M267.3 1788h19v19h-19z"/>
<path d="M273.4 1788.4h19v19h-19z"/>
<path d="M279.5 1790h19v19h-19z"/>
<path d="M285.6 1792.8h19v19h-19z"/>
<path d="M291.6 1789h19v19h-19z"/>
<path d="M297.7 1783.1h19v19h-19z"/>
<path d="M303.8 1780.9h19v19h-19z"/>
<path d="M309.9 1776.8h19v19h-19z"/>
<path d="M315.9 1783.9h19v19h-19z"/>
<path d="M322 1787.9h19v19h-19z"/>
<path d="M328.1 1780.8h19v19h-19z"/>
<path d="M334.2 1783.7h19v19h-19z"/>
<path d="M340.2 1788.9h19v19h-19z"/>
<path d="M346.3 1790.7h19v19h-19z"/>
<path d="M352.4 1788h19v19h-19z"/>
<path d="M358.5 1773.7h19v19h-19z"/>
<path d="M364.5 1789.9h19v19h-19z"/>
<path d="M370.6 1790.5h19v19h-19z"/>
<path d="M376.7 1791.3h19v19h-19z"/>
<path d="M382.8 1763.4h19v19h-19z"/>
<path d="M388.8 1785.1h19v19h-19z"/>
<path d="M394.9 1788.2h19v19h-19z"/>
<path d="M401 1796.4h19v19h-19z"/>
<path d="M407.1 1794.4h19v19h-19z"/>
<path d="M413.1 1795.2h19v19h-19z"/>
<path d="M419.2 1793.4h19v19h-19z"/>
<path d="M425.3 1799.4h19v19h-19z"/>
<path d="M431.4 1794.5h19v19h-19z"/>
<path d="M437.4 1798h19v19h-19z"/>
<path d="M443.5 1793.9h19v19h-19z"/>
<path d="M449.6 1784.3h19v19h-19z"/>
<path d="M455.6 1790.1h19v19h-19z"/>
<path d="M461.7 1789.9h19v19h-19z"/>
<path d="M467.8 1795.7h19v19h-19z"/>
<path d="M473.9 1797.2h19v19h-19z"/>
<path d="M480 1793.8h19v19h-19z"/>
<path d="M486 1795.1h19v19h-19z"/>
<path d="M492.1 1769h19v19h-19z"/>
<path d="M498.2 1793.2h19v19h-19z"/>
<path d="M504.2 1795.4h19v19h-19z"/>
<path d="M510.3 1790.1h19v19h-19z"/>
<path d="M516.4 1799.5h19v19h-19z"/>
<path d="M522.5 1739.2h19v19h-19z"/>
<path d="M528.5 1794.4h19v19h-19z"/>
<path d="M534.6 1788.1h19v19h-19z"/>
<path d="M540.7 1790.3h19v19h-19z"/>
<path d="M546.8 1792.9h19v19h-19z"/>
<path d="M552.9 1794.1h19v19h-19z"/>
<path d="M558.9 1791.7h19v19h-19z"/>
<path d="M565 1791.2h19v19h-19z"/>
<path d="M571.1 1790.9h19v19h-19z"/>
<path d="M577.2 1790.7h19v19h-19z"/>
<path d="M583.2 1791.8h19v19h-19z"/>
<path d="M589.3 1794.5h19v19h-19z"/>
<path d="M595.4 1791.9h19v19h-19z"/>
<path d="M601.5 1794.1h19v19h-19z"/>
<path d="M607.5 1787.4h19v19h-19z"/>
<path d="M613.6 1789.8h19v19h-19z"/>
<path d="M619.7 1789.9h19v19h-19z"/>
<path d="M625.8 1791.6h19v19h-19z"/>
<path d="M631.8 1790.6h19v19h-19z"/>
<path d="M637.9 1789.8h19v19h-19z"/>
<path d="M644 1791h19v19h-19z"/>
<path d="M650 1793.2h19v19h-19z"/>
<path d="M656.1 1792.4h19v19h-19z"/>
<path d="M662.2 1795.1h19v19h-19z"/>
<path d="M668.3 1792.4h19v19h-19z"/>
<path d="M674.4 1791.6h19v19h-19z"/>
<path d="M680.4 1790.8h19v19h-19z"/>
<path d="M686.5 1790.5h19v19h-19z"/>
<path d="M692.6 1791.7h19v19h-19z"/>
<path d="M698.7 1792h19v19h-19z"/>
<path d="M704.7 1789.1h19v19h-19z"/>
<path d="M710.8 1790.4h19v19h-19z"/>
<path d="M716.9 1788.2h19v19h-19z"/>
<path d="M723 1789.2h19v19h-19z"/>
<path d="M729 1794.7h19v19h-19z"/>
<path d="M735.1 1792.4h19v19h-19z"/>
<path d="M741.2 1792.7h19v19h-19z"/>
<path d="M747.2 1793.4h19v19h-19z"/>
<path d="M753.3 1789.5h19v19h-19z"/>
<path d="M759.4 1798.9h19v19h-19z"/>
<path d="M765.5 1791.2h19v19h-19z"/>
<path d="M771.5 1792.6h19v19h-19z"/>
<path d="M777.6 1794.4h19v19h-19z"/>
<path d="M783.7 1795.5h19v19h-19z"/>
<path d="M789.8 1795.9h19v19h-19z"/>
<path d="M795.9 1799.3h19v19h-19z"/>
<path d="M801.9 1798.7h19v19h-19z"/>
<path d="M808 1794.6h19v19h-19z"/>
<path d="M814.1 1791.3h19v19h-19z"/>
<path d="M820.2 1793h19v19h-19z"/>
<path d="M826.2 1796.9h19v19h-19z"/>
<path d="M832.3 1794.8h19v19h-19z"/>
<path d="M838.4 1797.4h19v19h-19z"/>
<path d="M844.5 1790.2h19v19h-19z"/>
<path d="M850.5 1792.1h19v19h-19z"/>
<path d="M856.6 1796.8h19v19h-19z"/>
<path d="M862.7 1801.9h19v19h-19z"/>
<path d="M868.8 1801.6h19v19h-19z"/>
<path d="M874.8 1798.1h19v19h-19z"/>
<path d="M880.9 1794.6h19v19h-19z"/>
<path d="M887 1787.8h19v19h-19z"/>
<path d="M893 1794.8h19v19h-19z"/>
<path d="M899.1 1794.9h19v19h-19z"/>
<path d="M905.2 1794.9h19v19h-19z"/>
<path d="M911.3 1759.7h19v19h-19z"/>
<path d="M917.4 1799.3h19v19h-19z"/>
<path d="M923.4 1794.4h19v19h-19z"/>
<path d="M929.5 1755.1h19v19h-19z"/>
<path d="M935.6 1733.7h19v19h-19z"/>
<path d="M941.7 1790.9h19v19h-19z"/>
<path d="M947.7 1790.9h19v19h-19z"/>
<path d="M953.8 1789.8h19v19h-19z"/>
<path d="M959.9 1784.2h19v19h-19z"/>
<path d="M966 1786.2h19v19h-19z"/>
<path d="M972 1788.5h19v19h-19z"/>
<path d="M978.1 1781.4h19v19h-19z"/>
<path d="M984.2 1789.3h19v19h-19z"/>
<path d="M990.2 1785.1h19v19h-19z"/>
<path d="M996.3 1787.6h19v19h-19z"/>
<path d="M1002.4 1790.5h19v19h-19z"/>
<path d="M1008.5 1785.2h19v19h-19z"/>
<path d="M1014.5 1784.3h19v19h-19z"/>
<path d="M1020.6 1785.7h19v19h-19z"/>
<path d="M1026.7 1788h19v19h-19z"/>
<path d="M1032.8 1796.2h19v19h-19z"/>
<path d="M1038.9 1795.1h19v19h-19z"/>
<path d="M1044.9 1788.9h19v19h-19z"/>
<path d="M1051 1789.7h19v19h-19z"/>
<path d="M1057.1 1787.1h19v19h-19z"/>
<path d="M1063.2 1788.3h19v19h-19z"/>
<path d="M1069.2 1786.5h19v19h-19z"/>
<path d="M1075.3 1787.1h19v19h-19z"/>
<path d="M1081.4 1790.8h19v19h-19z"/>
<path d="M1087.5 1790.8h19v19h-19z"/>
<path d="M1093.5 1788h19v19h-19z"/>
<path d="M1099.6 1808.1h19v19h-19z"/>
<path d="M1105.7 1815.5h19v19h-19z"/>
<path d="M1111.8 1793.3h19v19h-19z"/>
<path d="M1117.8 1796.7h19v19h-19z"/>
<path d="M1123.9 1787.9h19v19h-19z"/>
<path d="M1130 1788.1h19v19h-19z"/>
<path d="M1136 1793.2h19v19h-19z"/>
<path d="M1142.1 1794.3h19v19h-19z"/>
<path d="M1148.2 1793.4h19v19h-19z"/>
<path d="M1154.3 1792.2h19v19h-19z"/>
<path d="M1160.4 1791.4h19v19h-19z"/>
<path d="M1166.4 1786.2h19v19h-19z"/>
<path d="M1172.5 1789.3h19v19h-19z"/>
<path d="M1178.6 1791.8h19v19h-19z"/>
<path d="M1184.7 1796.1h19v19h-19z"/>
<path d="M1190.7 1792.4h19v19h-19z"/>
<path d="M1196.8 1764.4h19v19h-19z"/>
<path d="M1202.9 1795.3h19v19h-19z"/>
<path d="M1209 1792.8h19v19h-19z"/>
<path d="M1215 1769h19v19h-19z"/>
<path d="M1221.1 1782.5h19v19h-19z"/>
<path d="M1227.2 1782.1h19v19h-19z"/>
<path d="M1233.2 1785h19v19h-19z"/>
<path d="M1239.3 1791.3h19v19h-19z"/>
<path d="M1245.4 1795.6h19v19h-19z"/>
<path d="M1251.5 1790.9h19v19h-19z"/>
<path d="M1257.5 1794.7h19v19h-19z"/>
<path d="M1263.6 1804.4h19v19h-19z"/>
<path d="M1269.7 1797.2h19v19h-19z"/>
<path d="M1275.8 1794.6h19v19h-19z"/>
<path d="M1281.8 1789.6h19v19h-19z"/>
<path d="M1287.9 1781.7h19v19h-19z"/>
<path d="M1294 1790.4h19v19h-19z"/>
<path d="M1300.1 1794.2h19v19h-19z"/>
<path d="M1306.2 1788.7h19v19h-19z"/>
<path d="M1312.2 1787.9h19v19h-19z"/>
<path d="M1318.3 1752.3h19v19h-19z"/>
<path d="M1324.4 1791.6h19v19h-19z"/>
<path d="M1330.5 1755.1h19v19h-19z"/>
<path d="M1336.5 1793.6h19v19h-19z"/>
<path d="M1342.6 1792.4h19v19h-19z"/>
<path d="M1348.7 1789.2h19v19h-19z"/>
<path d="M1354.8 1769h19v19h-19z"/>
<path d="M1360.8 1784.4h19v19h-19z"/>
<path d="M1366.9 1788h19v19h-19z"/>
<path d="M1373 1791.3h19v19h-19z"/>
<path d="M1379 1794.1h19v19h-19z"/>
<path d="M1385.1 1791.5h19v19h-19z"/>
<path d="M1391.2 1796.6h19v19h-19z"/>
<path d="M1397.3 1793.1h19v19h-19z"/>
<path d="M1403.3 1790.2h19v19h-19z"/>
<path d="M1409.4 1787.6h19v19h-19z"/>
<path d="M1415.5 1789.9h19v19h-19z"/>
<path d="M1421.6 1785.3h19v19h-19z"/>
<path d="M1427.7 1787.5h19v19h-19z"/>
<path d="M1433.7 1792.9h19v19h-19z"/>
<path d="M1439.8 1795.6h19v19h-19z"/>
</g>
<path d="M240.4 1436.2 246.5 1811.1 252.5 1812.4 258.6 1824.1 264.7 1831.6 270.8 1835 276.8 1838.5 282.9 1841.6 289 1844.7 295.1 1846.5 301.1 1850.3 307.2 1856.7 313.3 1858.5 319.4 1859.3 325.4 1861.7 331.5 1862.3 337.6 1864.5 343.7 1868.6 349.7 1870.7 355.8 1875 361.9 1874.4 368 1875.8 374 1880.2 380.1 1883.3 386.2 1887 392.2 1887.1 398.3 1887.7 404.4 1890 410.5 1892 416.6 1897.4 422.6 1898.2 428.7 1900.8 434.8 1901.3 440.9 1905 446.9 1906.2 453 1909.4 459.1 1912.5 465.1 1913.1 471.2 1913.1 477.3 1915 483.4 1920.3 489.5 1924.2 495.5 1925.9 501.6 1926.2 507.7 1929.8 513.8 1933 519.8 1935.4 525.9 1933.8 532 1932.5 538 1932.6 544.1 1936.6 550.2 1936.1 556.3 1938.2 562.4 1941.5 568.4 1941.5 574.5 1943.7 580.6 1944.9 586.7 1946.9 592.7 1948 598.8 1947.1 604.9 1944.6 611 1947.4 617 1949.8 623.1 1954 629.2 1955.6 635.2 1956.2 641.3 1959 647.4 1956.9 653.5 1959 659.5 1958.8 665.6 1961.8 671.7 1962.9 677.8 1961.7 683.9 1963.8 689.9 1964.3 696 1966.9 702.1 1966.1 708.2 1969 714.2 1970.4 720.3 1970.9 726.4 1968.9 732.5 1971.5 738.5 1972 744.6 1971.8 750.7 1974.5 756.8 1975.6 762.8 1976.3 768.9 1975.6 775 1976.1 781 1977.5 787.1 1977.3 793.2 1979.8 799.3 1980 805.4 1982.2 811.4 1982.7 817.5 1981.7 823.6 1981.6 829.7 1984.6 835.7 1985.5 841.8 1985.8 847.9 1987.7 854 1990.5 860 1989 866.1 1988.9 872.2 1989.9 878.2 1990.9 884.3 1994.7 890.4 1994 896.5 1992.6 902.5 1994.2 908.6 1995.6 914.7 1999 920.8 1995.9 926.9 1995.6 932.9 1995.9 939 1993.6 945.1 1995 951.2 1996.6 957.2 1999 963.3 1996.9 969.4 1998.9 975.5 2001 981.5 2000.8 987.6 1999.4 993.7 1998.1 999.8 2000.7 1005.8 2003 1011.9 2001.8 1018 2001.9 1024 2003.4 1030.1 2002.2 1036.2 2004.1 1042.3 2004 1048.4 2007.2 1054.4 2004 1060.5 2003.8 1066.6 2004.3 1072.7 2006.9 1078.7 2004.3 1084.8 2004.7 1090.9 2008 1097 2007.8 1103 2007.5 1109.1 2005.8 1115.2 2007.6 1121.2 2006.1 1127.3 2004.9 1133.4 2007.8 1139.5 2007.8 1145.5 2006.5 1151.6 2008.2 1157.7 2006.8 1163.8 2008.1 1169.9 2005 1175.9 2002.2 1182 2005.6 1188.1 2004.1 1194.2 2005.2 1200.2 2004.1 1206.3 2005.2 1212.4 2006.1 1218.5 2004.5 1224.5 2008.6 1230.6 2009.4 1236.7 2009.6 1242.8 2010.6 1248.8 2010.6 1254.9 2010 1261 2009.5 1267 2008.4 1273.1 2007.9 1279.2 2010.6 1285.3 2011.4 1291.3 2011.4 1297.4 2011.3 1303.5 2011 1309.6 2012.3 1315.7 2009.9 1321.7 2010.5 1327.8 2012.8 1333.9 2013.1 1340 2010.5 1346 2010.7 1352.1 2012 1358.2 2016.6 1364.2 2017.5 1370.3 2018.8 1376.4 2018.1 1382.5 2016 1388.5 2015.5 1394.6 2015.6 1400.7 2017.3 1406.8 2019 1412.8 2019.6 1418.9 2018.7 1425 2016.4 1431.1 2018.5 1437.2 2019 1443.2 2019 1449.3 2019.8" fill="none" stroke="#55ee55" stroke-width="1.5"/>
<path d="M240.4 1423.2l13 13l-13 13l-13 -13zM246.5 1798.1l13 13l-13 13l-13 -13zM252.5 1799.4l13 13l-13 13l-13 -13zM258.6 1811.1l13 13l-13 13l-13 -13zM264.7 1818.6l13 13l-13 13l-13 -13zM270.8 1822l13 13l-13 13l-13 -13zM276.8 1825.5l13 13l-13 13l-13 -13zM282.9 1828.6l13 13l-13 13l-13 -13zM289 1831.7l13 13l-13 13l-13 -13zM295.1 1833.5l13 13l-13 13l-13 -13zM301.1 1837.3l13 13l-13 13l-13 -13zM307.2 1843.7l13 13l-13 13l-13 -13zM313.3 1845.5l13 13l-13 13l-13 -13zM319.4 1846.3l13 13l-13 13l-13 -13zM325.4 1848.7l13 13l-13 13l-13 -13zM331.5 1849.3l13 13l-13 13l-13 -13zM337.6 1851.5l13 13l-13 13l-13 -13zM343.7 1855.6l13 13l-13 13l-13 -13zM349.7 1857.7l13 13l-13 13l-13 -13zM355.8 1862l13 13l-13 13l-13 -13zM361.9 1861.4l13 13l-13 13l-13 -13zM368 1862.8l13 13l-13 13l-13 -13zM374 1867.2l13 13l-13 13l-13 -13zM380.1 1870.3l13 13l-13 13l-13 -13zM386.2 1874l13 13l-13 13l-13 -13zM392.2 1874.1l13 13l-13 13l-13 -13zM398.3 1874.7l13 13l-13 13l-13 -13zM404.4 1877l13 13l-13 13l-13 -13zM410.5 1879l13 13l-13 13l-13 -13zM416.6 1884.4l13 13l-13 13l-13 -13zM422.6 1885.2l13 13l-13 13l-13 -13zM428.7 1887.8l13 13l-13 13l-13 -13zM434.8 1888.3l13 13l-13 13l-13 -13zM440.9 1892l13 13l-13 13l-13 -13zM446.9 1893.2l13 13l-13 13l-13 -13zM453 1896.4l13 13l-13 13l-13 -13zM459.1 1899.5l13 13l-13 13l-13 -13zM465.1 1900.1l13 13l-13 13l-13 -13zM471.2 1900.1l13 13l-13 13l-13 -13zM477.3 1902l13 13l-13 13l-13 -13zM483.4 1907.3l13 13l-13 13l-13 -13zM489.5 1911.2l13 13l-13 13l-13 -13zM495.5 1912.9l13 13l-13 13l-13 -13zM501.6 1913.2l13 13l-13 13l-13 -13zM507.7 1916.8l13 13l-13 13l-13 -13zM513.8 1920l13 13l-13 13l-13 -13zM519.8 1922.4l13 13l-13 13l-13 -13zM525.9 1920.8l13 13l-13 13l-13 -13zM532 1919.5l13 13l-13 13l-13 -13zM538 1919.6l13 13l-13 13l-13 -13zM544.1 1923.6l13 13l-13 13l-13 -13zM550.2 1923.1l13 13l-13 13l-13 -13zM556.3 1925.2l13 13l-13 13l-13 -13zM562.4 1928.5l13 13l-13 13l-13 -13zM568.4 1928.5l13 13l-13 13l-13 -13zM574.5 1930.7l13 13l-13 13l-13 -13zM580.6 1931.9l13 13l-13 13l-13 -13zM586.7 1933.9l13 13l-13 13l-13 -13zM592.7 1935l13 13l-13 13l-13 -13zM598.8 1934.1l13 13l-13 13l-13 -13zM604.9 1931.6l13 13l-13 13l-13 -13zM611 1934.4l13 13l-13 13l-13 -13zM617 1936.8l13 13l-13 13l-13 -13zM623.1 1941l13 13l-13 13l-13 -13zM629.2 1942.6l13 13l-13 13l-13 -13zM635.2 1943.2l13 13l-13 13l-13 -13zM641.3 1946l13 13l-13 13l-13 -13zM647.4 1943.9l13 13l-13 13l-13 -13zM653.5 1946l13 13l-13 13l-13 -13zM659.5 1945.8l13 13l-13 13l-13 -13zM665.6 1948.8l13 13l-13 13l-13 -13zM671.7 1949.9l13 13l-13 13l-13 -13zM677.8 1948.7l13 13l-13 13l-13 -13zM683.9 1950.8l13 13l-13 13l-13 -13zM689.9 1951.3l13 13l-13 13l-13 -13zM696 1953.9l13 13l-13 13l-13 -13zM702.1 1953.1l13 13l-13 13l-13 -13zM708.2 1956l13 13l-13 13l-13 -13zM714.2 1957.4l13 13l-13 13l-13 -13zM720.3 1957.9l13 13l-13 13l-13 -13zM726.4 1955.9l13 13l-13 13l-13 -13zM732.5 1958.5l13 13l-13 13l-13 -13zM738.5 1959l13 13l-13 13l-13 -13zM744.6 1958.8l13 13l-13 13l-13 -13zM750.7 1961.5l13 13l-13 13l-13 -13zM756.8 1962.6l13 13l-13 13l-13 -13zM762.8 1963.3l13 13l-13 13l-13 -13zM768.9 1962.6l13 13l-13 13l-13 -13zM775 1963.1l13 13l-13 13l-13 -13zM781 1964.5l13 13l-13 13l-13 -13zM787.1 1964.3l13 13l-13 13l-13 -13zM793.2 1966.8l13 13l-13 13l-13 -13zM799.3 1967l13 13l-13 13l-13 -13zM805.4 1969.2l13 13l-13 13l-13 -13zM811.4 1969.7l13 13l-13 13l-13 -13zM817.5 1968.7l13 13l-13 13l-13 -13zM823.6 1968.6l13 13l-13 13l-13 -13zM829.7 1971.6l13 13l-13 13l-13 -13zM835.7 1972.5l13 13l-13 13l-13 -13zM841.8 1972.8l13 13l-13 13l-13 -13zM847.9 1974.7l13 13l-13 13l-13 -13zM854 1977.5l13 13l-13 13l-13 -13zM860 1976l13 13l-13 13l-13 -13zM866.1 1975.9l13 13l-13 13l-13 -13zM872.2 1976.9l13 13l-13 13l-13 -13zM878.2 1977.9l13 13l-13 13l-13 -13zM884.3 1981.7l13 13l-13 13l-13 -13zM890.4 1981l13 13l-13 13l-13 -13zM896.5 1979.6l13 13l-13 13l-13 -13zM902.5 1981.2l13 13l-13 13l-13 -13zM908.6 1982.6l13 13l-13 13l-13 -13zM914.7 1986l13 13l-13 13l-13 -13zM920.8 1982.9l13 13l-13 13l-13 -13zM926.9 1982.6l13 13l-13 13l-13 -13zM932.9 1982.9l13 13l-13 13l-13 -13zM939 1980.6l13 13l-13 13l-13 -13zM945.1 1982l13 13l-13 13l-13 -13zM951.2 1983.6l13 13l-13 13l-13 -13zM957.2 1986l13 13l-13 13l-13 -13zM963.3 1983.9l13 13l-13 13l-13 -13zM969.4 1985.9l13 13l-13 13l-13 -13zM975.5 1988l13 13l-13 13l-13 -13zM981.5 1987.8l13 13l-13 13l-13 -13zM987.6 1986.4l13 13l-13 13l-13 -13zM993.7 1985.1l13 13l-13 13l-13 -13zM999.8 1987.7l13 13l-13 13l-13 -13zM1005.8 1990l13 13l-13 13l-13 -13zM1011.9 1988.8l13 13l-13 13l-13 -13zM1018 1988.9l13 13l-13 13l-13 -13zM1024 1990.4l13 13l-13 13l-13 -13zM1030.1 1989.2l13 13l-13 13l-13 -13zM1036.2 1991.1l13 13l-13 13l-13 -13zM1042.3 1991l13 13l-13 13l-13 -13zM1048.4 1994.2l13 13l-13 13l-13 -13zM1054.4 1991l13 13l-13 13l-13 -13zM1060.5 1990.8l13 13l-13 13l-13 -13zM1066.6 1991.3l13 13l-13 13l-13 -13zM1072.7 1993.9l13 13l-13 13l-13 -13zM1078.7 1991.3l13 13l-13 13l-13 -13zM1084.8 1991.7l13 13l-13 13l-13 -13zM1090.9 1995l13 13l-13 13l-13 -13zM1097 1994.8l13 13l-13 13l-13 -13zM1103 1994.5l13 13l-13 13l-13 -13zM1109.1 1992.8l13 13l-13 13l-13 -13zM1115.2 1994.6l13 13l-13 13l-13 -13zM1121.2 1993.1l13 13l-13 13l-13 -13zM1127.3 1991.9l13 13l-13 13l-13 -13zM1133.4 1994.8l13 13l-13 13l-13 -13zM1139.5 1994.8l13 13l-13 13l-13 -13zM1145.5 1993.5l13 13l-13 13l-13 -13zM1151.6 1995.2l13 13l-13 13l-13 -13zM1157.7 1993.8l13 13l-13 13l-13 -13zM1163.8 1995.1l13 13l-13 13l-13 -13zM1169.9 1992l13 13l-13 13l-13 -13zM1175.9 1989.2l13 13l-13 13l-13 -13zM1182 1992.6l13 13l-13 13l-13 -13zM1188.1 1991.1l13 13l-13 13l-13 -13zM1194.2 1992.2l13 13l-13 13l-13 -13zM1200.2 1991.1l13 13l-13 13l-13 -13zM1206.3 1992.2l13 13l-13 13l-13 -13zM1212.4 1993.1l13 13l-13 13l-13 -13zM1218.5 1991.5l13 13l-13 13l-13 -13zM1224.5 1995.6l13 13l-13 13l-13 -13zM1230.6 1996.4l13 13l-13 13l-13 -13zM1236.7 1996.6l13 13l-13 13l-13 -13zM1242.8 1997.6l13 13l-13 13l-13 -13zM1248.8 1997.6l13 13l-13 13l-13 -13zM1254.9 1997l13 13l-13 13l-13 -13zM1261 1996.5l13 13l-13 13l-13 -13zM1267 1995.4l13 13l-13 13l-13 -13zM1273.1 1994.9l13 13l-13 13l-13 -13zM1279.2 1997.6l13 13l-13 13l-13 -13zM1285.3 1998.4l13 13l-13 13l-13 -13zM1291.3 1998.4l13 13l-13 13l-13 -13zM1297.4 1998.3l13 13l-13 13l-13 -13zM1303.5 1998l13 13l-13 13l-13 -13zM1309.6 1999.3l13 13l-13 13l-13 -13zM1315.7 1996.9l13 13l-13 13l-13 -13zM1321.7 1997.5l13 13l-13 13l-13 -13zM1327.8 1999.8l13 13l-13 13l-13 -13zM1333.9 2000.1l13 13l-13 13l-13 -13zM1340 1997.5l13 13l-13 13l-13 -13zM1346 1997.7l13 13l-13 13l-13 -13zM1352.1 1999l13 13l-13 13l-13 -13zM1358.2 2003.6l13 13l-13 13l-13 -13zM1364.2 2004.5l13 13l-13 13l-13 -13zM1370.3 2005.8l13 13l-13 13l-13 -13zM1376.4 2005.1l13 13l-13 13l-13 -13zM1382.5 2003l13 13l-13 13l-13 -13zM1388.5 2002.5l13 13l-13 13l-13 -13zM1394.6 2002.6l13 13l-13 13l-13 -13zM1400.7 2004.3l13 13l-13 13l-13 -13zM1406.8 2006l13 13l-13 13l-13 -13zM1412.8 2006.6l13 13l-13 13l-13 -13zM1418.9 2005.7l13 13l-13 13l-13 -13zM1425 2003.4l13 13l-13 13l-13 -13zM1431.1 2005.5l13 13l-13 13l-13 -13zM1437.2 2006l13 13l-13 13l-13 -13zM1443.2 2006l13 13l-13 13l-13 -13zM1449.3 2006.8l13 13l-13 13l-13 -13z" fill="#11ee11"/>
<g fill="#fff" stroke="#11e011" stroke-width="1.9">
<path d="M240.4 1812l13 13l-13 13l-13 -13z"/>
<path d="M246.5 1807.4l13 13l-13 13l-13 -13z"/>
<path d="M252.5 1819.4l13 13l-13 13l-13 -13z"/>
<path d="M258.6 1827.4l13 13l-13 13l-13 -13z"/>
<path d="M264.7 1834.5l13 13l-13 13l-13 -13z"/>
<path d="M270.8 1840.4l13 13l-13 13l-13 -13z"/>
<path d="M276.8 1843.3l13 13l-13 13l-13 -13z"/>
<path d="M282.9 1844.6l13 13l-13 13l-13 -13z"/>
<path d="M289 1848.4l13 13l-13 13l-13 -13z"/>
<path d="M295.1 1846.9l13 13l-13 13l-13 -13z"/>
<path d="M301.1 1847.8l13 13l-13 13l-13 -13z"/>
<path d="M307.2 1851.2l13 13l-13 13l-13 -13z"/>
<path d="M313.3 1855.7l13 13l-13 13l-13 -13z"/>
<path d="M319.4 1855.6l13 13l-13 13l-13 -13z"/>
<path d="M325.4 1858.3l13 13l-13 13l-13 -13z"/>
<path d="M331.5 1858.9l13 13l-13 13l-13 -13z"/>
<path d="M337.6 1862l13 13l-13 13l-13 -13z"/>
<path d="M343.7 1866.3l13 13l-13 13l-13 -13z"/>
<path d="M349.7 1867.5l13 13l-13 13l-13 -13z"/>
<path d="M355.8 1870.3l13 13l-13 13l-13 -13z"/>
<path d="M361.9 1869.9l13 13l-13 13l-13 -13z"/>
<path d="M368 1871.8l13 13l-13 13l-13 -13z"/>
<path d="M374 1875.4l13 13l-13 13l-13 -13z"/>
<path d="M380.1 1877.8l13 13l-13 13l-13 -13z"/>
<path d="M386.2 1879.7l13 13l-13 13l-13 -13z"/>
<path d="M392.2 1880.4l13 13l-13 13l-13 -13z"/>
<path d="M398.3 1883.7l13 13l-13 13l-13 -13z"/>
<path d="M404.4 1884.4l13 13l-13 13l-13 -13z"/>
<path d="M410.5 1885.3l13 13l-13 13l-13 -13z"/>
<path d="M416.6 1890.1l13 13l-13 13l-13 -13z"/>
<path d="M422.6 1892.6l13 13l-13 13l-13 -13z"/>
<path d="M428.7 1894.1l13 13l-13 13l-13 -13z"/>
<path d="M434.8 1895.7l13 13l-13 13l-13 -13z"/>
<path d="M440.9 1898.1l13 13l-13 13l-13 -13z"/>
<path d="M446.9 1900.1l13 13l-13 13l-13 -13z"/>
<path d="M453 1902.5l13 13l-13 13l-13 -13z"/>
<path d="M459.1 1903.2l13 13l-13 13l-13 -13z"/>
<path d="M465.1 1907l13 13l-13 13l-13 -13z"/>
<path d="M471.2 1908.8l13 13l-13 13l-13 -13z"/>
<path d="M477.3 1912.4l13 13l-13 13l-13 -13z"/>
<path d="M483.4 1916.4l13 13l-13 13l-13 -13z"/>
<path d="M489.5 1918.7l13 13l-13 13l-13 -13z"/>
<path d="M495.5 1920.4l13 13l-13 13l-13 -13z"/>
<path d="M501.6 1919.2l13 13l-13 13l-13 -13z"/>
<path d="M507.7 1923.8l13 13l-13 13l-13 -13z"/>
<path d="M513.8 1928l13 13l-13 13l-13 -13z"/>
<path d="M519.8 1927.4l13 13l-13 13l-13 -13z"/>
<path d="M525.9 1927.2l13 13l-13 13l-13 -13z"/>
<path d="M532 1926.2l13 13l-13 13l-13 -13z"/>
<path d="M538 1926.2l13 13l-13 13l-13 -13z"/>
<path d="M544.1 1928.2l13 13l-13 13l-13 -13z"/>
<path d="M550.2 1929.8l13 13l-13 13l-13 -13z"/>
<path d="M556.3 1932.7l13 13l-13 13l-13 -13z"/>
<path d="M562.4 1933.7l13 13l-13 13l-13 -13z"/>
<path d="M568.4 1935.8l13 13l-13 13l-13 -13z"/>
<path d="M574.5 1937.5l13 13l-13 13l-13 -13z"/>
<path d="M580.6 1937.3l13 13l-13 13l-13 -13z"/>
<path d="M586.7 1940.7l13 13l-13 13l-13 -13z"/>
<path d="M592.7 1941.6l13 13l-13 13l-13 -13z"/>
<path d="M598.8 1940l13 13l-13 13l-13 -13z"/>
<path d="M604.9 1941.1l13 13l-13 13l-13 -13z"/>
<path d="M611 1942.4l13 13l-13 13l-13 -13z"/>
<path d="M617 1942.4l13 13l-13 13l-13 -13z"/>
<path d="M623.1 1946.5l13 13l-13 13l-13 -13z"/>
<path d="M629.2 1948.9l13 13l-13 13l-13 -13z"/>
<path d="M635.2 1948.4l13 13l-13 13l-13 -13z"/>
<path d="M641.3 1949.3l13 13l-13 13l-13 -13z"/>
<path d="M647.4 1951.5l13 13l-13 13l-13 -13z"/>
<path d="M653.5 1953.4l13 13l-13 13l-13 -13z"/>
<path d="M659.5 1953.4l13 13l-13 13l-13 -13z"/>
<path d="M665.6 1955.4l13 13l-13 13l-13 -13z"/>
<path d="M671.7 1955.5l13 13l-13 13l-13 -13z"/>
<path d="M677.8 1954.7l13 13l-13 13l-13 -13z"/>
<path d="M683.9 1958.3l13 13l-13 13l-13 -13z"/>
<path d="M689.9 1957.8l13 13l-13 13l-13 -13z"/>
<path d="M696 1960.6l13 13l-13 13l-13 -13z"/>
<path d="M702.1 1961.4l13 13l-13 13l-13 -13z"/>
<path d="M708.2 1962.8l13 13l-13 13l-13 -13z"/>
<path d="M714.2 1962l13 13l-13 13l-13 -13z"/>
<path d="M720.3 1965.2l13 13l-13 13l-13 -13z"/>
<path d="M726.4 1962.7l13 13l-13 13l-13 -13z"/>
<path d="M732.5 1963.7l13 13l-13 13l-13 -13z"/>
<path d="M738.5 1965l13 13l-13 13l-13 -13z"/>
<path d="M744.6 1963.9l13 13l-13 13l-13 -13z"/>
<path d="M750.7 1966.8l13 13l-13 13l-13 -13z"/>
<path d="M756.8 1967.6l13 13l-13 13l-13 -13z"/>
<path d="M762.8 1970l13 13l-13 13l-13 -13z"/>
<path d="M768.9 1971l13 13l-13 13l-13 -13z"/>
<path d="M775 1969.5l13 13l-13 13l-13 -13z"/>
<path d="M781 1971.2l13 13l-13 13l-13 -13z"/>
<path d="M787.1 1971.7l13 13l-13 13l-13 -13z"/>
<path d="M793.2 1974.5l13 13l-13 13l-13 -13z"/>
<path d="M799.3 1975l13 13l-13 13l-13 -13z"/>
<path d="M805.4 1978.7l13 13l-13 13l-13 -13z"/>
<path d="M811.4 1977.4l13 13l-13 13l-13 -13z"/>
<path d="M817.5 1975.8l13 13l-13 13l-13 -13z"/>
<path d="M823.6 1976.2l13 13l-13 13l-13 -13z"/>
<path d="M829.7 1977.4l13 13l-13 13l-13 -13z"/>
<path d="M835.7 1977.8l13 13l-13 13l-13 -13z"/>
<path d="M841.8 1979.6l13 13l-13 13l-13 -13z"/>
<path d="M847.9 1981.4l13 13l-13 13l-13 -13z"/>
<path d="M854 1982l13 13l-13 13l-13 -13z"/>
<path d="M860 1982.2l13 13l-13 13l-13 -13z"/>
<path d="M866.1 1984.4l13 13l-13 13l-13 -13z"/>
<path d="M872.2 1984.9l13 13l-13 13l-13 -13z"/>
<path d="M878.2 1984.2l13 13l-13 13l-13 -13z"/>
<path d="M884.3 1986.3l13 13l-13 13l-13 -13z"/>
<path d="M890.4 1988.7l13 13l-13 13l-13 -13z"/>
<path d="M896.5 1988.1l13 13l-13 13l-13 -13z"/>
<path d="M902.5 1987.5l13 13l-13 13l-13 -13z"/>
<path d="M908.6 1987.4l13 13l-13 13l-13 -13z"/>
<path d="M914.7 1991.7l13 13l-13 13l-13 -13z"/>
<path d="M920.8 1990.4l13 13l-13 13l-13 -13z"/>
<path d="M926.9 1988.4l13 13l-13 13l-13 -13z"/>
<path d="M932.9 1986.5l13 13l-13 13l-13 -13z"/>
<path d="M939 1986.1l13 13l-13 13l-13 -13z"/>
<path d="M945.1 1990.1l13 13l-13 13l-13 -13z"/>
<path d="M951.2 1990.9l13 13l-13 13l-13 -13z"/>
<path d="M957.2 1991.6l13 13l-13 13l-13 -13z"/>
<path d="M963.3 1990.3l13 13l-13 13l-13 -13z"/>
<path d="M969.4 1993.6l13 13l-13 13l-13 -13z"/>
<path d="M975.5 1994.4l13 13l-13 13l-13 -13z"/>
<path d="M981.5 1995.2l13 13l-13 13l-13 -13z"/>
<path d="M987.6 1993l13 13l-13 13l-13 -13z"/>
<path d="M993.7 1992.1l13 13l-13 13l-13 -13z"/>
<path d="M999.8 1993.4l13 13l-13 13l-13 -13z"/>
<path d="M1005.8 1995.7l13 13l-13 13l-13 -13z"/>
<path d="M1011.9 1996.7l13 13l-13 13l-13 -13z"/>
<path d="M1018 1997l13 13l-13 13l-13 -13z"/>
<path d="M1024 1997.5l13 13l-13 13l-13 -13z"/>
<path d="M1030.1 1996.3l13 13l-13 13l-13 -13z"/>
<path d="M1036.2 1996l13 13l-13 13l-13 -13z"/>
<path d="M1042.3 1996.5l13 13l-13 13l-13 -13z"/>
<path d="M1048.4 1998.9l13 13l-13 13l-13 -13z"/>
<path d="M1054.4 1999.2l13 13l-13 13l-13 -13z"/>
<path d="M1060.5 1999.6l13 13l-13 13l-13 -13z"/>
<path d="M1066.6 1999.7l13 13l-13 13l-13 -13z"/>
<path d="M1072.7 1999.4l13 13l-13 13l-13 -13z"/>
<path d="M1078.7 1998.7l13 13l-13 13l-13 -13z"/>
<path d="M1084.8 1999l13 13l-13 13l-13 -13z"/>
<path d="M1090.9 2001.8l13 13l-13 13l-13 -13z"/>
<path d="M1097 2001.3l13 13l-13 13l-13 -13z"/>
<path d="M1103 2000.9l13 13l-13 13l-13 -13z"/>
<path d="M1109.1 2000.1l13 13l-13 13l-13 -13z"/>
<path d="M1115.2 2000.6l13 13l-13 13l-13 -13z"/>
<path d="M1121.2 2001.3l13 13l-13 13l-13 -13z"/>
<path d="M1127.3 2002.4l13 13l-13 13l-13 -13z"/>
<path d="M1133.4 2004.3l13 13l-13 13l-13 -13z"/>
<path d="M1139.5 2004l13 13l-13 13l-13 -13z"/>
<path d="M1145.5 2003.3l13 13l-13 13l-13 -13z"/>
<path d="M1151.6 2001.2l13 13l-13 13l-13 -13z"/>
<path d="M1157.7 2000.1l13 13l-13 13l-13 -13z"/>
<path d="M1163.8 2000.9l13 13l-13 13l-13 -13z"/>
<path d="M1169.9 1998.7l13 13l-13 13l-13 -13z"/>
<path d="M1175.9 1998.6l13 13l-13 13l-13 -13z"/>
<path d="M1182 1999l13 13l-13 13l-13 -13z"/>
<path d="M1188.1 1999.5l13 13l-13 13l-13 -13z"/>
<path d="M1194.2 1997.7l13 13l-13 13l-13 -13z"/>
<path d="M1200.2 1998.3l13 13l-13 13l-13 -13z"/>
<path d="M1206.3 2001.6l13 13l-13 13l-13 -13z"/>
<path d="M1212.4 2000l13 13l-13 13l-13 -13z"/>
<path d="M1218.5 1999l13 13l-13 13l-13 -13z"/>
<path d="M1224.5 2002.4l13 13l-13 13l-13 -13z"/>
<path d="M1230.6 2003l13 13l-13 13l-13 -13z"/>
<path d="M1236.7 2003.7l13 13l-13 13l-13 -13z"/>
<path d="M1242.8 2003.8l13 13l-13 13l-13 -13z"/>
<path d="M1248.8 2004.9l13 13l-13 13l-13 -13z"/>
<path d="M1254.9 2004.5l13 13l-13 13l-13 -13z"/>
<path d="M1261 2005.6l13 13l-13 13l-13 -13z"/>
<path d="M1267 2003.7l13 13l-13 13l-13 -13z"/>
<path d="M1273.1 2003.9l13 13l-13 13l-13 -13z"/>
<path d="M1279.2 2004.3l13 13l-13 13l-13 -13z"/>
<path d="M1285.3 2003.5l13 13l-13 13l-13 -13z"/>
<path d="M1291.3 2003.8l13 13l-13 13l-13 -13z"/>
<path d="M1297.4 2004.7l13 13l-13 13l-13 -13z"/>
<path d="M1303.5 2002.9l13 13l-13 13l-13 -13z"/>
<path d="M1309.6 2004.6l13 13l-13 13l-13 -13z"/>
<path d="M1315.7 2002.3l13 13l-13 13l-13 -13z"/>
<path d="M1321.7 2002l13 13l-13 13l-13 -13z"/>
<path d="M1327.8 2004.8l13 13l-13 13l-13 -13z"/>
<path d="M1333.9 2007.5l13 13l-13 13l-13 -13z"/>
<path d="M1340 2005.7l13 13l-13 13l-13 -13z"/>
<path d="M1346 2005.1l13 13l-13 13l-13 -13z"/>
<path d="M1352.1 2007.2l13 13l-13 13l-13 -13z"/>
<path d="M1358.2 2009.6l13 13l-13 13l-13 -13z"/>
<path d="M1364.2 2010.1l13 13l-13 13l-13 -13z"/>
<path d="M1370.3 2010.6l13 13l-13 13l-13 -13z"/>
<path d="M1376.4 2010.8l13 13l-13 13l-13 -13z"/>
<path d="M1382.5 2009.4l13 13l-13 13l-13 -13z"/>
<path d="M1388.5 2009.4l13 13l-13 13l-13 -13z"/>
<path d="M1394.6 2009.2l13 13l-13 13l-13 -13z"/>
<path d="M1400.7 2009.5l13 13l-13 13l-13 -13z"/>
<path d="M1406.8 2010.5l13 13l-13 13l-13 -13z"/>
<path d="M1412.8 2011.2l13 13l-13 13l-13 -13z"/>
<path d="M1418.9 2012.5l13 13l-13 13l-13 -13z"/>
<path d="M1425 2009.1l13 13l-13 13l-13 -13z"/>
<path d="M1431.1 2010.1l13 13l-13 13l-13 -13z"/>
<path d="M1437.2 2010.9l13 13l-13 13l-13 -13z"/>
<path d="M1443.2 2010.3l13 13l-13 13l-13 -13z"/>
<path d="M1449.3 2013.1l13 13l-13 13l-13 -13z"/>
</g>
<path d="M240.4 1428.7 246.5 1799 252.5 1855.7 258.6 1894.2 264.7 1918.3 270.8 1939.2 276.8 1957.2 282.9 1964.4 289 1966.5 295.1 1969.8 301.1 1974.8 307.2 1977 313.3 1979.6 319.4 1983.5 325.4 1986.9 331.5 1991.5 337.6 1996.5 343.7 1999.7 349.7 2003 355.8 2005.5 361.9 2004.4 368 2008.3 374 2012.4 380.1 2017.9 386.2 2019.7 392.2 2020.3 398.3 2023.4 404.4 2025.2 410.5 2029.5 416.6 2029.1 422.6 2031.3 428.7 2031.1 434.8 2030.9 440.9 2033.2 446.9 2033.7 453 2035.4 459.1 2037.5 465.1 2039 471.2 2040.8 477.3 2039.6 483.4 2039.8 489.5 2042.7 495.5 2042.3 501.6 2044.4 507.7 2046.8 513.8 2045.2 519.8 2047.8 525.9 2046.5 532 2047.6 538 2047.6 544.1 2048.6 550.2 2048.7 556.3 2050.2 562.4 2051.1 568.4 2052.3 574.5 2052.4 580.6 2054.6 586.7 2054.5 592.7 2054.2 598.8 2056.5 604.9 2057.4 611 2059.4 617 2060.6 623.1 2060.9 629.2 2061.9 635.2 2063.3 641.3 2063.3 647.4 2063.2 653.5 2063.3 659.5 2063.2 665.6 2066.4 671.7 2064.4 677.8 2065.6 683.9 2067.2 689.9 2067.8 696 2067.3 702.1 2066.9 708.2 2068.4 714.2 2068.8 720.3 2071.3 726.4 2070.7 732.5 2070.9 738.5 2071.6 744.6 2070.6 750.7 2069.3 756.8 2069.7 762.8 2072.4 768.9 2071.1 775 2073 781 2073.8 787.1 2075 793.2 2074.7 799.3 2074.6 805.4 2075.2 811.4 2076.2 817.5 2076.9 823.6 2077.7 829.7 2076.7 835.7 2078.2 841.8 2078.8 847.9 2079.1 854 2080.1 860 2080.1 866.1 2081.7 872.2 2080.4 878.2 2079.7 884.3 2080.4 890.4 2078.7 896.5 2080.9 902.5 2080.4 908.6 2080.4 914.7 2081.7 920.8 2082.2 926.9 2081.1 932.9 2081.8 939 2081.9 945.1 2080.8 951.2 2081.8 957.2 2084.7 963.3 2085.1 969.4 2083.6 975.5 2084.1 981.5 2085.6 987.6 2087.6 993.7 2085.9 999.8 2083.8 1005.8 2086.1 1011.9 2088.4 1018 2086.4 1024 2086.8 1030.1 2086.7 1036.2 2086.8 1042.3 2087.6 1048.4 2086.5 1054.4 2085.4 1060.5 2085.6 1066.6 2086.9 1072.7 2085.7 1078.7 2086.6 1084.8 2086.3 1090.9 2088 1097 2087 1103 2086.5 1109.1 2085.7 1115.2 2086.9 1121.2 2087 1127.3 2088.4 1133.4 2087.4 1139.5 2087.2 1145.5 2086.7 1151.6 2088.3 1157.7 2090.2 1163.8 2089.9 1169.9 2089.9 1175.9 2090.7 1182 2089.5 1188.1 2088.6 1194.2 2088.9 1200.2 2088.2 1206.3 2088.8 1212.4 2090.8 1218.5 2091.5 1224.5 2091.6 1230.6 2090.4 1236.7 2089.7 1242.8 2090.3 1248.8 2089.7 1254.9 2091.6 1261 2091.8 1267 2090 1273.1 2090.5 1279.2 2090.1 1285.3 2093.4 1291.3 2094.9 1297.4 2094.8 1303.5 2092.5 1309.6 2090.7 1315.7 2092.6 1321.7 2094 1327.8 2094.8 1333.9 2095.1 1340 2093.5 1346 2093.9 1352.1 2091.5 1358.2 2091.7 1364.2 2093.6 1370.3 2093.5 1376.4 2093.9 1382.5 2093.1 1388.5 2092.6 1394.6 2093.9 1400.7 2093.1 1406.8 2093.2 1412.8 2094 1418.9 2094.1 1425 2093.7 1431.1 2094.7 1437.2 2095.7 1443.2 2094 1449.3 2094.7" fill="none" stroke="#0000cc" stroke-width="2.0"/>
<path d="M230.4 1428.7a10 10 0 1 0 20 0a10 10 0 1 0 -20 0M236.5 1799a10 10 0 1 0 20 0a10 10 0 1 0 -20 0M242.5 1855.7a10 10 0 1 0 20 0a10 10 0 1 0 -20 0M248.6 1894.2a10 10 0 1 0 20 0a10 10 0 1 0 -20 0M254.7 1918.3a10 10 0 1 0 20 0a10 10 0 1 0 -20 0M260.8 1939.2a10 10 0 1 0 20 0a10 10 0 1 0 -20 0M266.8 1957.2a10 10 0 1 0 20 0a10 10 0 1 0 -20 0M272.9 1964.4a10 10 0 1 0 20 0a10 10 0 1 0 -20 0M279 1966.5a10 10 0 1 0 20 0a10 10 0 1 0 -20 0M285.1 1969.8a10 10 0 1 0 20 0a10 10 0 1 0 -20 0M291.1 1974.8a10 10 0 1 0 20 0a10 10 0 1 0 -20 0M297.2 1977a10 10 0 1 0 20 0a10 10 0 1 0 -20 0M303.3 1979.6a10 10 0 1 0 20 0a10 10 0 1 0 -20 0M309.4 1983.5a10 10 0 1 0 20 0a10 10 0 1 0 -20 0M315.4 1986.9a10 10 0 1 0 20 0a10 10 0 1 0 -20 0M321.5 1991.5a10 10 0 1 0 20 0a10 10 0 1 0 -20 0M327.6 1996.5a10 10 0 1 0 20 0a10 10 0 1 0 -20 0M333.7 1999.7a10 10 0 1 0 20 0a10 10 0 1 0 -20 0M339.7 2003a10 10 0 1 0 20 0a10 10 0 1 0 -20 0M345.8 2005.5a10 10 0 1 0 20 0a10 10 0 1 0 -20 0M351.9 2004.4a10 10 0 1 0 20 0a10 10 0 1 0 -20 0M358 2008.3a10 10 0 1 0 20 0a10 10 0 1 0 -20 0M364 2012.4a10 10 0 1 0 20 0a10 10 0 1 0 -20 0M370.1 2017.9a10 10 0 1 0 20 0a10 10 0 1 0 -20 0M376.2 2019.7a10 10 0 1 0 20 0a10 10 0 1 0 -20 0M382.2 2020.3a10 10 0 1 0 20 0a10 10 0 1 0 -20 0M388.3 2023.4a10 10 0 1 0 20 0a10 10 0 1 0 -20 0M394.4 2025.2a10 10 0 1 0 20 0a10 10 0 1 0 -20 0M400.5 2029.5a10 10 0 1 0 20 0a10 10 0 1 0 -20 0M406.6 2029.1a10 10 0 1 0 20 0a10 10 0 1 0 -20 0M412.6 2031.3a10 10 0 1 0 20 0a10 10 0 1 0 -20 0M418.7 2031.1a10 10 0 1 0 20 0a10 10 0 1 0 -20 0M424.8 2030.9a10 10 0 1 0 20 0a10 10 0 1 0 -20 0M430.9 2033.2a10 10 0 1 0 20 0a10 10 0 1 0 -20 0M436.9 2033.7a10 10 0 1 0 20 0a10 10 0 1 0 -20 0M443 2035.4a10 10 0 1 0 20 0a10 10 0 1 0 -20 0M449.1 2037.5a10 10 0 1 0 20 0a10 10 0 1 0 -20 0M455.1 2039a10 10 0 1 0 20 0a10 10 0 1 0 -20 0M461.2 2040.8a10 10 0 1 0 20 0a10 10 0 1 0 -20 0M467.3 2039.6a10 10 0 1 0 20 0a10 10 0 1 0 -20 0M473.4 2039.8a10 10 0 1 0 20 0a10 10 0 1 0 -20 0M479.5 2042.7a10 10 0 1 0 20 0a10 10 0 1 0 -20 0M485.5 2042.3a10 10 0 1 0 20 0a10 10 0 1 0 -20 0M491.6 2044.4a10 10 0 1 0 20 0a10 10 0 1 0 -20 0M497.7 2046.8a10 10 0 1 0 20 0a10 10 0 1 0 -20 0M503.8 2045.2a10 10 0 1 0 20 0a10 10 0 1 0 -20 0M509.8 2047.8a10 10 0 1 0 20 0a10 10 0 1 0 -20 0M515.9 2046.5a10 10 0 1 0 20 0a10 10 0 1 0 -20 0M522 2047.6a10 10 0 1 0 20 0a10 10 0 1 0 -20 0M528 2047.6a10 10 0 1 0 20 0a10 10 0 1 0 -20 0M534.1 2048.6a10 10 0 1 0 20 0a10 10 0 1 0 -20 0M540.2 2048.7a10 10 0 1 0 20 0a10 10 0 1 0 -20 0M546.3 2050.2a10 10 0 1 0 20 0a10 10 0 1 0 -20 0M552.4 2051.1a10 10 0 1 0 20 0a10 10 0 1 0 -20 0M558.4 2052.3a10 10 0 1 0 20 0a10 10 0 1 0 -20 0M564.5 2052.4a10 10 0 1 0 20 0a10 10 0 1 0 -20 0M570.6 2054.6a10 10 0 1 0 20 0a10 10 0 1 0 -20 0M576.7 2054.5a10 10 0 1 0 20 0a10 10 0 1 0 -20 0M582.7 2054.2a10 10 0 1 0 20 0a10 10 0 1 0 -20 0M588.8 2056.5a10 10 0 1 0 20 0a10 10 0 1 0 -20 0M594.9 2057.4a10 10 0 1 0 20 0a10 10 0 1 0 -20 0M601 2059.4a10 10 0 1 0 20 0a10 10 0 1 0 -20 0M607 2060.6a10 10 0 1 0 20 0a10 10 0 1 0 -20 0M613.1 2060.9a10 10 0 1 0 20 0a10 10 0 1 0 -20 0M619.2 2061.9a10 10 0 1 0 20 0a10 10 0 1 0 -20 0M625.2 2063.3a10 10 0 1 0 20 0a10 10 0 1 0 -20 0M631.3 2063.3a10 10 0 1 0 20 0a10 10 0 1 0 -20 0M637.4 2063.2a10 10 0 1 0 20 0a10 10 0 1 0 -20 0M643.5 2063.3a10 10 0 1 0 20 0a10 10 0 1 0 -20 0M649.5 2063.2a10 10 0 1 0 20 0a10 10 0 1 0 -20 0M655.6 2066.4a10 10 0 1 0 20 0a10 10 0 1 0 -20 0M661.7 2064.4a10 10 0 1 0 20 0a10 10 0 1 0 -20 0M667.8 2065.6a10 10 0 1 0 20 0a10 10 0 1 0 -20 0M673.9 2067.2a10 10 0 1 0 20 0a10 10 0 1 0 -20 0M679.9 2067.8a10 10 0 1 0 20 0a10 10 0 1 0 -20 0M686 2067.3a10 10 0 1 0 20 0a10 10 0 1 0 -20 0M692.1 2066.9a10 10 0 1 0 20 0a10 10 0 1 0 -20 0M698.2 2068.4a10 10 0 1 0 20 0a10 10 0 1 0 -20 0M704.2 2068.8a10 10 0 1 0 20 0a10 10 0 1 0 -20 0M710.3 2071.3a10 10 0 1 0 20 0a10 10 0 1 0 -20 0M716.4 2070.7a10 10 0 1 0 20 0a10 10 0 1 0 -20 0M722.5 2070.9a10 10 0 1 0 20 0a10 10 0 1 0 -20 0M728.5 2071.6a10 10 0 1 0 20 0a10 10 0 1 0 -20 0M734.6 2070.6a10 10 0 1 0 20 0a10 10 0 1 0 -20 0M740.7 2069.3a10 10 0 1 0 20 0a10 10 0 1 0 -20 0M746.8 2069.7a10 10 0 1 0 20 0a10 10 0 1 0 -20 0M752.8 2072.4a10 10 0 1 0 20 0a10 10 0 1 0 -20 0M758.9 2071.1a10 10 0 1 0 20 0a10 10 0 1 0 -20 0M765 2073a10 10 0 1 0 20 0a10 10 0 1 0 -20 0M771 2073.8a10 10 0 1 0 20 0a10 10 0 1 0 -20 0M777.1 2075a10 10 0 1 0 20 0a10 10 0 1 0 -20 0M783.2 2074.7a10 10 0 1 0 20 0a10 10 0 1 0 -20 0M789.3 2074.6a10 10 0 1 0 20 0a10 10 0 1 0 -20 0M795.4 2075.2a10 10 0 1 0 20 0a10 10 0 1 0 -20 0M801.4 2076.2a10 10 0 1 0 20 0a10 10 0 1 0 -20 0M807.5 2076.9a10 10 0 1 0 20 0a10 10 0 1 0 -20 0M813.6 2077.7a10 10 0 1 0 20 0a10 10 0 1 0 -20 0M819.7 2076.7a10 10 0 1 0 20 0a10 10 0 1 0 -20 0M825.7 2078.2a10 10 0 1 0 20 0a10 10 0 1 0 -20 0M831.8 2078.8a10 10 0 1 0 20 0a10 10 0 1 0 -20 0M837.9 2079.1a10 10 0 1 0 20 0a10 10 0 1 0 -20 0M844 2080.1a10 10 0 1 0 20 0a10 10 0 1 0 -20 0M850 2080.1a10 10 0 1 0 20 0a10 10 0 1 0 -20 0M856.1 2081.7a10 10 0 1 0 20 0a10 10 0 1 0 -20 0M862.2 2080.4a10 10 0 1 0 20 0a10 10 0 1 0 -20 0M868.2 2079.7a10 10 0 1 0 20 0a10 10 0 1 0 -20 0M874.3 2080.4a10 10 0 1 0 20 0a10 10 0 1 0 -20 0M880.4 2078.7a10 10 0 1 0 20 0a10 10 0 1 0 -20 0M886.5 2080.9a10 10 0 1 0 20 0a10 10 0 1 0 -20 0M892.5 2080.4a10 10 0 1 0 20 0a10 10 0 1 0 -20 0M898.6 2080.4a10 10 0 1 0 20 0a10 10 0 1 0 -20 0M904.7 2081.7a10 10 0 1 0 20 0a10 10 0 1 0 -20 0M910.8 2082.2a10 10 0 1 0 20 0a10 10 0 1 0 -20 0M916.9 2081.1a10 10 0 1 0 20 0a10 10 0 1 0 -20 0M922.9 2081.8a10 10 0 1 0 20 0a10 10 0 1 0 -20 0M929 2081.9a10 10 0 1 0 20 0a10 10 0 1 0 -20 0M935.1 2080.8a10 10 0 1 0 20 0a10 10 0 1 0 -20 0M941.2 2081.8a10 10 0 1 0 20 0a10 10 0 1 0 -20 0M947.2 2084.7a10 10 0 1 0 20 0a10 10 0 1 0 -20 0M953.3 2085.1a10 10 0 1 0 20 0a10 10 0 1 0 -20 0M959.4 2083.6a10 10 0 1 0 20 0a10 10 0 1 0 -20 0M965.5 2084.1a10 10 0 1 0 20 0a10 10 0 1 0 -20 0M971.5 2085.6a10 10 0 1 0 20 0a10 10 0 1 0 -20 0M977.6 2087.6a10 10 0 1 0 20 0a10 10 0 1 0 -20 0M983.7 2085.9a10 10 0 1 0 20 0a10 10 0 1 0 -20 0M989.8 2083.8a10 10 0 1 0 20 0a10 10 0 1 0 -20 0M995.8 2086.1a10 10 0 1 0 20 0a10 10 0 1 0 -20 0M1001.9 2088.4a10 10 0 1 0 20 0a10 10 0 1 0 -20 0M1008 2086.4a10 10 0 1 0 20 0a10 10 0 1 0 -20 0M1014 2086.8a10 10 0 1 0 20 0a10 10 0 1 0 -20 0M1020.1 2086.7a10 10 0 1 0 20 0a10 10 0 1 0 -20 0M1026.2 2086.8a10 10 0 1 0 20 0a10 10 0 1 0 -20 0M1032.3 2087.6a10 10 0 1 0 20 0a10 10 0 1 0 -20 0M1038.4 2086.5a10 10 0 1 0 20 0a10 10 0 1 0 -20 0M1044.4 2085.4a10 10 0 1 0 20 0a10 10 0 1 0 -20 0M1050.5 2085.6a10 10 0 1 0 20 0a10 10 0 1 0 -20 0M1056.6 2086.9a10 10 0 1 0 20 0a10 10 0 1 0 -20 0M1062.7 2085.7a10 10 0 1 0 20 0a10 10 0 1 0 -20 0M1068.7 2086.6a10 10 0 1 0 20 0a10 10 0 1 0 -20 0M1074.8 2086.3a10 10 0 1 0 20 0a10 10 0 1 0 -20 0M1080.9 2088a10 10 0 1 0 20 0a10 10 0 1 0 -20 0M1087 2087a10 10 0 1 0 20 0a10 10 0 1 0 -20 0M1093 2086.5a10 10 0 1 0 20 0a10 10 0 1 0 -20 0M1099.1 2085.7a10 10 0 1 0 20 0a10 10 0 1 0 -20 0M1105.2 2086.9a10 10 0 1 0 20 0a10 10 0 1 0 -20 0M1111.2 2087a10 10 0 1 0 20 0a10 10 0 1 0 -20 0M1117.3 2088.4a10 10 0 1 0 20 0a10 10 0 1 0 -20 0M1123.4 2087.4a10 10 0 1 0 20 0a10 10 0 1 0 -20 0M1129.5 2087.2a10 10 0 1 0 20 0a10 10 0 1 0 -20 0M1135.5 2086.7a10 10 0 1 0 20 0a10 10 0 1 0 -20 0M1141.6 2088.3a10 10 0 1 0 20 0a10 10 0 1 0 -20 0M1147.7 2090.2a10 10 0 1 0 20 0a10 10 0 1 0 -20 0M1153.8 2089.9a10 10 0 1 0 20 0a10 10 0 1 0 -20 0M1159.9 2089.9a10 10 0 1 0 20 0a10 10 0 1 0 -20 0M1165.9 2090.7a10 10 0 1 0 20 0a10 10 0 1 0 -20 0M1172 2089.5a10 10 0 1 0 20 0a10 10 0 1 0 -20 0M1178.1 2088.6a10 10 0 1 0 20 0a10 10 0 1 0 -20 0M1184.2 2088.9a10 10 0 1 0 20 0a10 10 0 1 0 -20 0M1190.2 2088.2a10 10 0 1 0 20 0a10 10 0 1 0 -20 0M1196.3 2088.8a10 10 0 1 0 20 0a10 10 0 1 0 -20 0M1202.4 2090.8a10 10 0 1 0 20 0a10 10 0 1 0 -20 0M1208.5 2091.5a10 10 0 1 0 20 0a10 10 0 1 0 -20 0M1214.5 2091.6a10 10 0 1 0 20 0a10 10 0 1 0 -20 0M1220.6 2090.4a10 10 0 1 0 20 0a10 10 0 1 0 -20 0M1226.7 2089.7a10 10 0 1 0 20 0a10 10 0 1 0 -20 0M1232.8 2090.3a10 10 0 1 0 20 0a10 10 0 1 0 -20 0M1238.8 2089.7a10 10 0 1 0 20 0a10 10 0 1 0 -20 0M1244.9 2091.6a10 10 0 1 0 20 0a10 10 0 1 0 -20 0M1251 2091.8a10 10 0 1 0 20 0a10 10 0 1 0 -20 0M1257 2090a10 10 0 1 0 20 0a10 10 0 1 0 -20 0M1263.1 2090.5a10 10 0 1 0 20 0a10 10 0 1 0 -20 0M1269.2 2090.1a10 10 0 1 0 20 0a10 10 0 1 0 -20 0M1275.3 2093.4a10 10 0 1 0 20 0a10 10 0 1 0 -20 0M1281.3 2094.9a10 10 0 1 0 20 0a10 10 0 1 0 -20 0M1287.4 2094.8a10 10 0 1 0 20 0a10 10 0 1 0 -20 0M1293.5 2092.5a10 10 0 1 0 20 0a10 10 0 1 0 -20 0M1299.6 2090.7a10 10 0 1 0 20 0a10 10 0 1 0 -20 0M1305.7 2092.6a10 10 0 1 0 20 0a10 10 0 1 0 -20 0M1311.7 2094a10 10 0 1 0 20 0a10 10 0 1 0 -20 0M1317.8 2094.8a10 10 0 1 0 20 0a10 10 0 1 0 -20 0M1323.9 2095.1a10 10 0 1 0 20 0a10 10 0 1 0 -20 0M1330 2093.5a10 10 0 1 0 20 0a10 10 0 1 0 -20 0M1336 2093.9a10 10 0 1 0 20 0a10 10 0 1 0 -20 0M1342.1 2091.5a10 10 0 1 0 20 0a10 10 0 1 0 -20 0M1348.2 2091.7a10 10 0 1 0 20 0a10 10 0 1 0 -20 0M1354.2 2093.6a10 10 0 1 0 20 0a10 10 0 1 0 -20 0M1360.3 2093.5a10 10 0 1 0 20 0a10 10 0 1 0 -20 0M1366.4 2093.9a10 10 0 1 0 20 0a10 10 0 1 0 -20 0M1372.5 2093.1a10 10 0 1 0 20 0a10 10 0 1 0 -20 0M1378.5 2092.6a10 10 0 1 0 20 0a10 10 0 1 0 -20 0M1384.6 2093.9a10 10 0 1 0 20 0a10 10 0 1 0 -20 0M1390.7 2093.1a10 10 0 1 0 20 0a10 10 0 1 0 -20 0M1396.8 2093.2a10 10 0 1 0 20 0a10 10 0 1 0 -20 0M1402.8 2094a10 10 0 1 0 20 0a10 10 0 1 0 -20 0M1408.9 2094.1a10 10 0 1 0 20 0a10 10 0 1 0 -20 0M1415 2093.7a10 10 0 1 0 20 0a10 10 0 1 0 -20 0M1421.1 2094.7a10 10 0 1 0 20 0a10 10 0 1 0 -20 0M1427.2 2095.7a10 10 0 1 0 20 0a10 10 0 1 0 -20 0M1433.2 2094a10 10 0 1 0 20 0a10 10 0 1 0 -20 0M1439.3 2094.7a10 10 0 1 0 20 0a10 10 0 1 0 -20 0" fill="#0000ee"/>
<path d="M240.4 1776.6 246.5 1851.1 252.5 1888.3 258.6 1914.1 264.7 1939.6 270.8 1959.5 276.8 1976.7 282.9 1982.7 289 1981.7 295.1 1983.1 301.1 1985.7 307.2 1985.7 313.3 1990 319.4 1991.1 325.4 1995.4 331.5 2000.3 337.6 2000.7 343.7 2005.3 349.7 2007 355.8 2008.7 361.9 2013.7 368 2015.9 374 2019 380.1 2020.4 386.2 2022.8 392.2 2026 398.3 2026.9 404.4 2027.3 410.5 2029.6 416.6 2030.6 422.6 2033.2 428.7 2034.4 434.8 2035.1 440.9 2036.4 446.9 2036.3 453 2037.3 459.1 2038.5 465.1 2039.8 471.2 2041.4 477.3 2044.1 483.4 2043.3 489.5 2042.5 495.5 2044.3 501.6 2046.2 507.7 2047.4 513.8 2046.9 519.8 2048.1 525.9 2050.7 532 2051.5 538 2053 544.1 2053.5 550.2 2055 556.3 2056.2 562.4 2054.4 568.4 2054.4 574.5 2058 580.6 2059.5 586.7 2060.1 592.7 2060.7 598.8 2062.6 604.9 2061.3 611 2064.1 617 2063.2 623.1 2063 629.2 2064.4 635.2 2065.6 641.3 2065.7 647.4 2065.9 653.5 2068.9 659.5 2069.7 665.6 2068.3 671.7 2068.6 677.8 2069.3 683.9 2070.7 689.9 2071.3 696 2071.9 702.1 2068.3 708.2 2071.5 714.2 2070.1 720.3 2070.9 726.4 2071.8 732.5 2072.5 738.5 2073.7 744.6 2072.2 750.7 2073 756.8 2074.3 762.8 2075.2 768.9 2075.5 775 2077.5 781 2077.8 787.1 2078.5 793.2 2077.6 799.3 2077.4 805.4 2080.4 811.4 2080.2 817.5 2078.9 823.6 2081.2 829.7 2082.4 835.7 2080.7 841.8 2081.3 847.9 2082.1 854 2083.5 860 2082.7 866.1 2083.3 872.2 2082.8 878.2 2082.4 884.3 2082 890.4 2083.2 896.5 2084.1 902.5 2084 908.6 2084.3 914.7 2084.2 920.8 2085.1 926.9 2085.4 932.9 2086 939 2086.5 945.1 2085.9 951.2 2084.6 957.2 2086.1 963.3 2085.6 969.4 2085.8 975.5 2086.3 981.5 2086 987.6 2087.4 993.7 2086.9 999.8 2087.1 1005.8 2091.7 1011.9 2089.6 1018 2088.3 1024 2086.1 1030.1 2088.7 1036.2 2088.7 1042.3 2088.4 1048.4 2090 1054.4 2088.2 1060.5 2088.3 1066.6 2089.9 1072.7 2091.3 1078.7 2091.1 1084.8 2087.8 1090.9 2086.5 1097 2091.4 1103 2093.1 1109.1 2091.2 1115.2 2091.2 1121.2 2091.9 1127.3 2090.8 1133.4 2091 1139.5 2090.9 1145.5 2091 1151.6 2092.7 1157.7 2090.8 1163.8 2092 1169.9 2090.8 1175.9 2090.8 1182 2091.6 1188.1 2092 1194.2 2092.5 1200.2 2094.9 1206.3 2094.4 1212.4 2093.4 1218.5 2095.3 1224.5 2096.2 1230.6 2093.7 1236.7 2092.8 1242.8 2095.3 1248.8 2094.2 1254.9 2094.3 1261 2093.3 1267 2094.3 1273.1 2094.8 1279.2 2095.8 1285.3 2095.2 1291.3 2095.4 1297.4 2096.2 1303.5 2096.2 1309.6 2096.8 1315.7 2095.5 1321.7 2096.9 1327.8 2098.2 1333.9 2098.3 1340 2095.9 1346 2096.7 1352.1 2095.8 1358.2 2095.2 1364.2 2096.5 1370.3 2095.7 1376.4 2095.7 1382.5 2096.3 1388.5 2097.5 1394.6 2097.4 1400.7 2098.9 1406.8 2098.4 1412.8 2098.6 1418.9 2097.6 1425 2097.2 1431.1 2098.3 1437.2 2097.1 1443.2 2096.1 1449.3 2097.1" fill="none" stroke="#9999dd" stroke-width="2.5"/>
<g fill="#fff" stroke="#0000dd" stroke-width="1.9">
<path d="M230.4 1776.6a10 10 0 1 0 20 0a10 10 0 1 0 -20 0"/>
<path d="M236.5 1851.1a10 10 0 1 0 20 0a10 10 0 1 0 -20 0"/>
<path d="M242.5 1888.3a10 10 0 1 0 20 0a10 10 0 1 0 -20 0"/>
<path d="M248.6 1914.1a10 10 0 1 0 20 0a10 10 0 1 0 -20 0"/>
<path d="M254.7 1939.6a10 10 0 1 0 20 0a10 10 0 1 0 -20 0"/>
<path d="M260.8 1959.5a10 10 0 1 0 20 0a10 10 0 1 0 -20 0"/>
<path d="M266.8 1976.7a10 10 0 1 0 20 0a10 10 0 1 0 -20 0"/>
<path d="M272.9 1982.7a10 10 0 1 0 20 0a10 10 0 1 0 -20 0"/>
<path d="M279 1981.7a10 10 0 1 0 20 0a10 10 0 1 0 -20 0"/>
<path d="M285.1 1983.1a10 10 0 1 0 20 0a10 10 0 1 0 -20 0"/>
<path d="M291.1 1985.7a10 10 0 1 0 20 0a10 10 0 1 0 -20 0"/>
<path d="M297.2 1985.7a10 10 0 1 0 20 0a10 10 0 1 0 -20 0"/>
<path d="M303.3 1990a10 10 0 1 0 20 0a10 10 0 1 0 -20 0"/>
<path d="M309.4 1991.1a10 10 0 1 0 20 0a10 10 0 1 0 -20 0"/>
<path d="M315.4 1995.4a10 10 0 1 0 20 0a10 10 0 1 0 -20 0"/>
<path d="M321.5 2000.3a10 10 0 1 0 20 0a10 10 0 1 0 -20 0"/>
<path d="M327.6 2000.7a10 10 0 1 0 20 0a10 10 0 1 0 -20 0"/>
<path d="M333.7 2005.3a10 10 0 1 0 20 0a10 10 0 1 0 -20 0"/>
<path d="M339.7 2007a10 10 0 1 0 20 0a10 10 0 1 0 -20 0"/>
<path d="M345.8 2008.7a10 10 0 1 0 20 0a10 10 0 1 0 -20 0"/>
<path d="M351.9 2013.7a10 10 0 1 0 20 0a10 10 0 1 0 -20 0"/>
<path d="M358 2015.9a10 10 0 1 0 20 0a10 10 0 1 0 -20 0"/>
<path d="M364 2019a10 10 0 1 0 20 0a10 10 0 1 0 -20 0"/>
<path d="M370.1 2020.4a10 10 0 1 0 20 0a10 10 0 1 0 -20 0"/>
<path d="M376.2 2022.8a10 10 0 1 0 20 0a10 10 0 1 0 -20 0"/>
<path d="M382.2 2026a10 10 0 1 0 20 0a10 10 0 1 0 -20 0"/>
<path d="M388.3 2026.9a10 10 0 1 0 20 0a10 10 0 1 0 -20 0"/>
<path d="M394.4 2027.3a10 10 0 1 0 20 0a10 10 0 1 0 -20 0"/>
<path d="M400.5 2029.6a10 10 0 1 0 20 0a10 10 0 1 0 -20 0"/>
<path d="M406.6 2030.6a10 10 0 1 0 20 0a10 10 0 1 0 -20 0"/>
<path d="M412.6 2033.2a10 10 0 1 0 20 0a10 10 0 1 0 -20 0"/>
<path d="M418.7 2034.4a10 10 0 1 0 20 0a10 10 0 1 0 -20 0"/>
<path d="M424.8 2035.1a10 10 0 1 0 20 0a10 10 0 1 0 -20 0"/>
<path d="M430.9 2036.4a10 10 0 1 0 20 0a10 10 0 1 0 -20 0"/>
<path d="M436.9 2036.3a10 10 0 1 0 20 0a10 10 0 1 0 -20 0"/>
<path d="M443 2037.3a10 10 0 1 0 20 0a10 10 0 1 0 -20 0"/>
<path d="M449.1 2038.5a10 10 0 1 0 20 0a10 10 0 1 0 -20 0"/>
<path d="M455.1 2039.8a10 10 0 1 0 20 0a10 10 0 1 0 -20 0"/>
<path d="M461.2 2041.4a10 10 0 1 0 20 0a10 10 0 1 0 -20 0"/>
<path d="M467.3 2044.1a10 10 0 1 0 20 0a10 10 0 1 0 -20 0"/>
<path d="M473.4 2043.3a10 10 0 1 0 20 0a10 10 0 1 0 -20 0"/>
<path d="M479.5 2042.5a10 10 0 1 0 20 0a10 10 0 1 0 -20 0"/>
<path d="M485.5 2044.3a10 10 0 1 0 20 0a10 10 0 1 0 -20 0"/>
<path d="M491.6 2046.2a10 10 0 1 0 20 0a10 10 0 1 0 -20 0"/>
<path d="M497.7 2047.4a10 10 0 1 0 20 0a10 10 0 1 0 -20 0"/>
<path d="M503.8 2046.9a10 10 0 1 0 20 0a10 10 0 1 0 -20 0"/>
<path d="M509.8 2048.1a10 10 0 1 0 20 0a10 10 0 1 0 -20 0"/>
<path d="M515.9 2050.7a10 10 0 1 0 20 0a10 10 0 1 0 -20 0"/>
<path d="M522 2051.5a10 10 0 1 0 20 0a10 10 0 1 0 -20 0"/>
<path d="M528 2053a10 10 0 1 0 20 0a10 10 0 1 0 -20 0"/>
<path d="M534.1 2053.5a10 10 0 1 0 20 0a10 10 0 1 0 -20 0"/>
<path d="M540.2 2055a10 10 0 1 0 20 0a10 10 0 1 0 -20 0"/>
<path d="M546.3 2056.2a10 10 0 1 0 20 0a10 10 0 1 0 -20 0"/>
<path d="M552.4 2054.4a10 10 0 1 0 20 0a10 10 0 1 0 -20 0"/>
<path d="M558.4 2054.4a10 10 0 1 0 20 0a10 10 0 1 0 -20 0"/>
<path d="M564.5 2058a10 10 0 1 0 20 0a10 10 0 1 0 -20 0"/>
<path d="M570.6 2059.5a10 10 0 1 0 20 0a10 10 0 1 0 -20 0"/>
<path d="M576.7 2060.1a10 10 0 1 0 20 0a10 10 0 1 0 -20 0"/>
<path d="M582.7 2060.7a10 10 0 1 0 20 0a10 10 0 1 0 -20 0"/>
<path d="M588.8 2062.6a10 10 0 1 0 20 0a10 10 0 1 0 -20 0"/>
<path d="M594.9 2061.3a10 10 0 1 0 20 0a10 10 0 1 0 -20 0"/>
<path d="M601 2064.1a10 10 0 1 0 20 0a10 10 0 1 0 -20 0"/>
<path d="M607 2063.2a10 10 0 1 0 20 0a10 10 0 1 0 -20 0"/>
<path d="M613.1 2063a10 10 0 1 0 20 0a10 10 0 1 0 -20 0"/>
<path d="M619.2 2064.4a10 10 0 1 0 20 0a10 10 0 1 0 -20 0"/>
<path d="M625.2 2065.6a10 10 0 1 0 20 0a10 10 0 1 0 -20 0"/>
<path d="M631.3 2065.7a10 10 0 1 0 20 0a10 10 0 1 0 -20 0"/>
<path d="M637.4 2065.9a10 10 0 1 0 20 0a10 10 0 1 0 -20 0"/>
<path d="M643.5 2068.9a10 10 0 1 0 20 0a10 10 0 1 0 -20 0"/>
<path d="M649.5 2069.7a10 10 0 1 0 20 0a10 10 0 1 0 -20 0"/>
<path d="M655.6 2068.3a10 10 0 1 0 20 0a10 10 0 1 0 -20 0"/>
<path d="M661.7 2068.6a10 10 0 1 0 20 0a10 10 0 1 0 -20 0"/>
<path d="M667.8 2069.3a10 10 0 1 0 20 0a10 10 0 1 0 -20 0"/>
<path d="M673.9 2070.7a10 10 0 1 0 20 0a10 10 0 1 0 -20 0"/>
<path d="M679.9 2071.3a10 10 0 1 0 20 0a10 10 0 1 0 -20 0"/>
<path d="M686 2071.9a10 10 0 1 0 20 0a10 10 0 1 0 -20 0"/>
<path d="M692.1 2068.3a10 10 0 1 0 20 0a10 10 0 1 0 -20 0"/>
<path d="M698.2 2071.5a10 10 0 1 0 20 0a10 10 0 1 0 -20 0"/>
<path d="M704.2 2070.1a10 10 0 1 0 20 0a10 10 0 1 0 -20 0"/>
<path d="M710.3 2070.9a10 10 0 1 0 20 0a10 10 0 1 0 -20 0"/>
<path d="M716.4 2071.8a10 10 0 1 0 20 0a10 10 0 1 0 -20 0"/>
<path d="M722.5 2072.5a10 10 0 1 0 20 0a10 10 0 1 0 -20 0"/>
<path d="M728.5 2073.7a10 10 0 1 0 20 0a10 10 0 1 0 -20 0"/>
<path d="M734.6 2072.2a10 10 0 1 0 20 0a10 10 0 1 0 -20 0"/>
<path d="M740.7 2073a10 10 0 1 0 20 0a10 10 0 1 0 -20 0"/>
<path d="M746.8 2074.3a10 10 0 1 0 20 0a10 10 0 1 0 -20 0"/>
<path d="M752.8 2075.2a10 10 0 1 0 20 0a10 10 0 1 0 -20 0"/>
<path d="M758.9 2075.5a10 10 0 1 0 20 0a10 10 0 1 0 -20 0"/>
<path d="M765 2077.5a10 10 0 1 0 20 0a10 10 0 1 0 -20 0"/>
<path d="M771 2077.8a10 10 0 1 0 20 0a10 10 0 1 0 -20 0"/>
<path d="M777.1 2078.5a10 10 0 1 0 20 0a10 10 0 1 0 -20 0"/>
<path d="M783.2 2077.6a10 10 0 1 0 20 0a10 10 0 1 0 -20 0"/>
<path d="M789.3 2077.4a10 10 0 1 0 20 0a10 10 0 1 0 -20 0"/>
<path d="M795.4 2080.4a10 10 0 1 0 20 0a10 10 0 1 0 -20 0"/>
<path d="M801.4 2080.2a10 10 0 1 0 20 0a10 10 0 1 0 -20 0"/>
<path d="M807.5 2078.9a10 10 0 1 0 20 0a10 10 0 1 0 -20 0"/>
<path d="M813.6 2081.2a10 10 0 1 0 20 0a10 10 0 1 0 -20 0"/>
<path d="M819.7 2082.4a10 10 0 1 0 20 0a10 10 0 1 0 -20 0"/>
<path d="M825.7 2080.7a10 10 0 1 0 20 0a10 10 0 1 0 -20 0"/>
<path d="M831.8 2081.3a10 10 0 1 0 20 0a10 10 0 1 0 -20 0"/>
<path d="M837.9 2082.1a10 10 0 1 0 20 0a10 10 0 1 0 -20 0"/>
<path d="M844 2083.5a10 10 0 1 0 20 0a10 10 0 1 0 -20 0"/>
<path d="M850 2082.7a10 10 0 1 0 20 0a10 10 0 1 0 -20 0"/>
<path d="M856.1 2083.3a10 10 0 1 0 20 0a10 10 0 1 0 -20 0"/>
<path d="M862.2 2082.8a10 10 0 1 0 20 0a10 10 0 1 0 -20 0"/>
<path d="M868.2 2082.4a10 10 0 1 0 20 0a10 10 0 1 0 -20 0"/>
<path d="M874.3 2082a10 10 0 1 0 20 0a10 10 0 1 0 -20 0"/>
<path d="M880.4 2083.2a10 10 0 1 0 20 0a10 10 0 1 0 -20 0"/>
<path d="M886.5 2084.1a10 10 0 1 0 20 0a10 10 0 1 0 -20 0"/>
<path d="M892.5 2084a10 10 0 1 0 20 0a10 10 0 1 0 -20 0"/>
<path d="M898.6 2084.3a10 10 0 1 0 20 0a10 10 0 1 0 -20 0"/>
<path d="M904.7 2084.2a10 10 0 1 0 20 0a10 10 0 1 0 -20 0"/>
<path d="M910.8 2085.1a10 10 0 1 0 20 0a10 10 0 1 0 -20 0"/>
<path d="M916.9 2085.4a10 10 0 1 0 20 0a10 10 0 1 0 -20 0"/>
<path d="M922.9 2086a10 10 0 1 0 20 0a10 10 0 1 0 -20 0"/>
<path d="M929 2086.5a10 10 0 1 0 20 0a10 10 0 1 0 -20 0"/>
<path d="M935.1 2085.9a10 10 0 1 0 20 0a10 10 0 1 0 -20 0"/>
<path d="M941.2 2084.6a10 10 0 1 0 20 0a10 10 0 1 0 -20 0"/>
<path d="M947.2 2086.1a10 10 0 1 0 20 0a10 10 0 1 0 -20 0"/>
<path d="M953.3 2085.6a10 10 0 1 0 20 0a10 10 0 1 0 -20 0"/>
<path d="M959.4 2085.8a10 10 0 1 0 20 0a10 10 0 1 0 -20 0"/>
<path d="M965.5 2086.3a10 10 0 1 0 20 0a10 10 0 1 0 -20 0"/>
<path d="M971.5 2086a10 10 0 1 0 20 0a10 10 0 1 0 -20 0"/>
<path d="M977.6 2087.4a10 10 0 1 0 20 0a10 10 0 1 0 -20 0"/>
<path d="M983.7 2086.9a10 10 0 1 0 20 0a10 10 0 1 0 -20 0"/>
<path d="M989.8 2087.1a10 10 0 1 0 20 0a10 10 0 1 0 -20 0"/>
<path d="M995.8 2091.7a10 10 0 1 0 20 0a10 10 0 1 0 -20 0"/>
<path d="M1001.9 2089.6a10 10 0 1 0 20 0a10 10 0 1 0 -20 0"/>
<path d="M1008 2088.3a10 10 0 1 0 20 0a10 10 0 1 0 -20 0"/>
<path d="M1014 2086.1a10 10 0 1 0 20 0a10 10 0 1 0 -20 0"/>
<path d="M1020.1 2088.7a10 10 0 1 0 20 0a10 10 0 1 0 -20 0"/>
<path d="M1026.2 2088.7a10 10 0 1 0 20 0a10 10 0 1 0 -20 0"/>
<path d="M1032.3 2088.4a10 10 0 1 0 20 0a10 10 0 1 0 -20 0"/>
<path d="M1038.4 2090a10 10 0 1 0 20 0a10 10 0 1 0 -20 0"/>
<path d="M1044.4 2088.2a10 10 0 1 0 20 0a10 10 0 1 0 -20 0"/>
<path d="M1050.5 2088.3a10 10 0 1 0 20 0a10 10 0 1 0 -20 0"/>
<path d="M1056.6 2089.9a10 10 0 1 0 20 0a10 10 0 1 0 -20 0"/>
<path d="M1062.7 2091.3a10 10 0 1 0 20 0a10 10 0 1 0 -20 0"/>
<path d="M1068.7 2091.1a10 10 0 1 0 20 0a10 10 0 1 0 -20 0"/>
<path d="M1074.8 2087.8a10 10 0 1 0 20 0a10 10 0 1 0 -20 0"/>
<path d="M1080.9 2086.5a10 10 0 1 0 20 0a10 10 0 1 0 -20 0"/>
<path d="M1087 2091.4a10 10 0 1 0 20 0a10 10 0 1 0 -20 0"/>
<path d="M1093 2093.1a10 10 0 1 0 20 0a10 10 0 1 0 -20 0"/>
<path d="M1099.1 2091.2a10 10 0 1 0 20 0a10 10 0 1 0 -20 0"/>
<path d="M1105.2 2091.2a10 10 0 1 0 20 0a10 10 0 1 0 -20 0"/>
<path d="M1111.2 2091.9a10 10 0 1 0 20 0a10 10 0 1 0 -20 0"/>
<path d="M1117.3 2090.8a10 10 0 1 0 20 0a10 10 0 1 0 -20 0"/>
<path d="M1123.4 2091a10 10 0 1 0 20 0a10 10 0 1 0 -20 0"/>
<path d="M1129.5 2090.9a10 10 0 1 0 20 0a10 10 0 1 0 -20 0"/>
<path d="M1135.5 2091a10 10 0 1 0 20 0a10 10 0 1 0 -20 0"/>
<path d="M1141.6 2092.7a10 10 0 1 0 20 0a10 10 0 1 0 -20 0"/>
<path d="M1147.7 2090.8a10 10 0 1 0 20 0a10 10 0 1 0 -20 0"/>
<path d="M1153.8 2092a10 10 0 1 0 20 0a10 10 0 1 0 -20 0"/>
<path d="M1159.9 2090.8a10 10 0 1 0 20 0a10 10 0 1 0 -20 0"/>
<path d="M1165.9 2090.8a10 10 0 1 0 20 0a10 10 0 1 0 -20 0"/>
<path d="M1172 2091.6a10 10 0 1 0 20 0a10 10 0 1 0 -20 0"/>
<path d="M1178.1 2092a10 10 0 1 0 20 0a10 10 0 1 0 -20 0"/>
<path d="M1184.2 2092.5a10 10 0 1 0 20 0a10 10 0 1 0 -20 0"/>
<path d="M1190.2 2094.9a10 10 0 1 0 20 0a10 10 0 1 0 -20 0"/>
<path d="M1196.3 2094.4a10 10 0 1 0 20 0a10 10 0 1 0 -20 0"/>
<path d="M1202.4 2093.4a10 10 0 1 0 20 0a10 10 0 1 0 -20 0"/>
<path d="M1208.5 2095.3a10 10 0 1 0 20 0a10 10 0 1 0 -20 0"/>
<path d="M1214.5 2096.2a10 10 0 1 0 20 0a10 10 0 1 0 -20 0"/>
<path d="M1220.6 2093.7a10 10 0 1 0 20 0a10 10 0 1 0 -20 0"/>
<path d="M1226.7 2092.8a10 10 0 1 0 20 0a10 10 0 1 0 -20 0"/>
<path d="M1232.8 2095.3a10 10 0 1 0 20 0a10 10 0 1 0 -20 0"/>
<path d="M1238.8 2094.2a10 10 0 1 0 20 0a10 10 0 1 0 -20 0"/>
<path d="M1244.9 2094.3a10 10 0 1 0 20 0a10 10 0 1 0 -20 0"/>
<path d="M1251 2093.3a10 10 0 1 0 20 0a10 10 0 1 0 -20 0"/>
<path d="M1257 2094.3a10 10 0 1 0 20 0a10 10 0 1 0 -20 0"/>
<path d="M1263.1 2094.8a10 10 0 1 0 20 0a10 10 0 1 0 -20 0"/>
<path d="M1269.2 2095.8a10 10 0 1 0 20 0a10 10 0 1 0 -20 0"/>
<path d="M1275.3 2095.2a10 10 0 1 0 20 0a10 10 0 1 0 -20 0"/>
<path d="M1281.3 2095.4a10 10 0 1 0 20 0a10 10 0 1 0 -20 0"/>
<path d="M1287.4 2096.2a10 10 0 1 0 20 0a10 10 0 1 0 -20 0"/>
<path d="M1293.5 2096.2a10 10 0 1 0 20 0a10 10 0 1 0 -20 0"/>
<path d="M1299.6 2096.8a10 10 0 1 0 20 0a10 10 0 1 0 -20 0"/>
<path d="M1305.7 2095.5a10 10 0 1 0 20 0a10 10 0 1 0 -20 0"/>
<path d="M1311.7 2096.9a10 10 0 1 0 20 0a10 10 0 1 0 -20 0"/>
<path d="M1317.8 2098.2a10 10 0 1 0 20 0a10 10 0 1 0 -20 0"/>
<path d="M1323.9 2098.3a10 10 0 1 0 20 0a10 10 0 1 0 -20 0"/>
<path d="M1330 2095.9a10 10 0 1 0 20 0a10 10 0 1 0 -20 0"/>
<path d="M1336 2096.7a10 10 0 1 0 20 0a10 10 0 1 0 -20 0"/>
<path d="M1342.1 2095.8a10 10 0 1 0 20 0a10 10 0 1 0 -20 0"/>
<path d="M1348.2 2095.2a10 10 0 1 0 20 0a10 10 0 1 0 -20 0"/>
<path d="M1354.2 2096.5a10 10 0 1 0 20 0a10 10 0 1 0 -20 0"/>
<path d="M1360.3 2095.7a10 10 0 1 0 20 0a10 10 0 1 0 -20 0"/>
<path d="M1366.4 2095.7a10 10 0 1 0 20 0a10 10 0 1 0 -20 0"/>
<path d="M1372.5 2096.3a10 10 0 1 0 20 0a10 10 0 1 0 -20 0"/>
<path d="M1378.5 2097.5a10 10 0 1 0 20 0a10 10 0 1 0 -20 0"/>
<path d="M1384.6 2097.4a10 10 0 1 0 20 0a10 10 0 1 0 -20 0"/>
<path d="M1390.7 2098.9a10 10 0 1 0 20 0a10 10 0 1 0 -20 0"/>
<path d="M1396.8 2098.4a10 10 0 1 0 20 0a10 10 0 1 0 -20 0"/>
<path d="M1402.8 2098.6a10 10 0 1 0 20 0a10 10 0 1 0 -20 0"/>
<path d="M1408.9 2097.6a10 10 0 1 0 20 0a10 10 0 1 0 -20 0"/>
<path d="M1415 2097.2a10 10 0 1 0 20 0a10 10 0 1 0 -20 0"/>
<path d="M1421.1 2098.3a10 10 0 1 0 20 0a10 10 0 1 0 -20 0"/>
<path d="M1427.2 2097.1a10 10 0 1 0 20 0a10 10 0 1 0 -20 0"/>
<path d="M1433.2 2096.1a10 10 0 1 0 20 0a10 10 0 1 0 -20 0"/>
<path d="M1439.3 2097.1a10 10 0 1 0 20 0a10 10 0 1 0 -20 0"/>
</g>
<path d="M240.4 1604.5 246.5 1946 252.5 1994.7 258.6 2015.1 264.7 2019 270.8 2018.2 276.8 2025.2 282.9 2024.5 289 2024 295.1 2026.1 301.1 2036.3 307.2 2034.1 313.3 2036.7 319.4 2037.3 325.4 2041.2 331.5 2044.5 337.6 2045.7 343.7 2043.7 349.7 2045.4 355.8 2049.2 361.9 2050 368 2050.4 374 2052.1 380.1 2054.8 386.2 2057.8 392.2 2059.8 398.3 2060.8 404.4 2062.3 410.5 2065.7 416.6 2067.4 422.6 2064.4 428.7 2068.4 434.8 2070.2 440.9 2068.8 446.9 2066 453 2066 459.1 2069.7 465.1 2072.5 471.2 2072.9 477.3 2074.2 483.4 2074.2 489.5 2072.5 495.5 2075.3 501.6 2075.9 507.7 2075.4 513.8 2075.2 519.8 2076.9 525.9 2077.7 532 2078.7 538 2078.4 544.1 2075.9 550.2 2076.8 556.3 2082.8 562.4 2077.5 568.4 2077.4 574.5 2079 580.6 2078.5 586.7 2083.8 592.7 2082.9 598.8 2077.3 604.9 2073.9 611 2072.9 617 2078.4 623.1 2078.7 629.2 2077.5 635.2 2081.2 641.3 2076.6 647.4 2080.1 653.5 2079.2 659.5 2081.9 665.6 2079.9 671.7 2080.2 677.8 2078.2 683.9 2082.1 689.9 2081.1 696 2077.3 702.1 2082.2 708.2 2080.7 714.2 2080.2 720.3 2082 726.4 2082.1 732.5 2078.9 738.5 2078.6 744.6 2079.7 750.7 2080.6 756.8 2083.7 762.8 2082.3 768.9 2078.7 775 2079.1 781 2084 787.1 2086.9 793.2 2085.1 799.3 2083 805.4 2083.8 811.4 2083.7 817.5 2082.4 823.6 2081 829.7 2082 835.7 2080.3 841.8 2085.1 847.9 2082.9 854 2082.4 860 2086 866.1 2081.8 872.2 2086.1 878.2 2087.2 884.3 2079.5 890.4 2080 896.5 2081.9 902.5 2080.7 908.6 2080.7 914.7 2085.3 920.8 2083.5 926.9 2081.2 932.9 2083.7 939 2084 945.1 2085.2 951.2 2083.3 957.2 2085.2 963.3 2086 969.4 2087.5 975.5 2087.4 981.5 2085.2 987.6 2084.1 993.7 2085.5 999.8 2087.2 1005.8 2084.9 1011.9 2084.2 1018 2082.1 1024 2084.9 1030.1 2085.5 1036.2 2083.8 1042.3 2081.3 1048.4 2083.5 1054.4 2084.2 1060.5 2086.1 1066.6 2085.5 1072.7 2082.6 1078.7 2081.9 1084.8 2081.1 1090.9 2086.2 1097 2082.8 1103 2085.2 1109.1 2082.9 1115.2 2088 1121.2 2085 1127.3 2085.6 1133.4 2081.5 1139.5 2082.4 1145.5 2080.4 1151.6 2083.1 1157.7 2079.2 1163.8 2082.7 1169.9 2079 1175.9 2082.6 1182 2084.6 1188.1 2081.4 1194.2 2083 1200.2 2082.7 1206.3 2085.1 1212.4 2083.8 1218.5 2082.5 1224.5 2083.6 1230.6 2081.8 1236.7 2086.5 1242.8 2081.5 1248.8 2082.6 1254.9 2079.1 1261 2081.6 1267 2082.9 1273.1 2082.9 1279.2 2081.4 1285.3 2080.2 1291.3 2081.9 1297.4 2083 1303.5 2080.9 1309.6 2079.4 1315.7 2084 1321.7 2083.9 1327.8 2083.1 1333.9 2078.1 1340 2077.5 1346 2078.2 1352.1 2078.9 1358.2 2082.2 1364.2 2078.8 1370.3 2080.8 1376.4 2082 1382.5 2076.9 1388.5 2082 1394.6 2077.9 1400.7 2079 1406.8 2081.5 1412.8 2080 1418.9 2081.5 1425 2079.9 1431.1 2081 1437.2 2082.3 1443.2 2075.1 1449.3 2079.1" fill="none" stroke="#22dddd" stroke-width="2.0"/>
<path d="M240.4 1595L243.2 1600.7L249.4 1601.6L244.9 1606L246 1612.2L240.4 1609.3L234.8 1612.2L235.9 1606L231.3 1601.6L237.6 1600.7zM246.5 1936.5L249.2 1942.1L255.5 1943L251 1947.4L252 1953.6L246.5 1950.7L240.9 1953.6L241.9 1947.4L237.4 1943L243.7 1942.1zM252.5 1985.2L255.3 1990.8L261.6 1991.7L257 1996.1L258.1 2002.3L252.5 1999.4L246.9 2002.3L248 1996.1L243.5 1991.7L249.7 1990.8zM258.6 2005.6L261.4 2011.2L267.6 2012.2L263.1 2016.6L264.2 2022.8L258.6 2019.8L253 2022.8L254.1 2016.6L249.6 2012.2L255.8 2011.2zM264.7 2009.5L267.5 2015.1L273.7 2016L269.2 2020.4L270.3 2026.7L264.7 2023.7L259.1 2026.7L260.2 2020.4L255.6 2016L261.9 2015.1zM270.8 2008.7L273.5 2014.4L279.8 2015.3L275.3 2019.7L276.3 2025.9L270.8 2023L265.2 2025.9L266.2 2019.7L261.7 2015.3L268 2014.4zM276.8 2015.7L279.6 2021.4L285.9 2022.3L281.3 2026.7L282.4 2032.9L276.8 2030L271.2 2032.9L272.3 2026.7L267.8 2022.3L274 2021.4zM282.9 2015L285.7 2020.7L291.9 2021.6L287.4 2026L288.5 2032.2L282.9 2029.3L277.3 2032.2L278.4 2026L273.9 2021.6L280.1 2020.7zM289 2014.5L291.8 2020.2L298 2021.1L293.5 2025.5L294.6 2031.7L289 2028.8L283.4 2031.7L284.5 2025.5L279.9 2021.1L286.2 2020.2zM295.1 2016.6L297.8 2022.3L304.1 2023.2L299.6 2027.6L300.6 2033.8L295.1 2030.9L289.5 2033.8L290.5 2027.6L286 2023.2L292.3 2022.3zM301.1 2026.8L303.9 2032.5L310.2 2033.4L305.6 2037.8L306.7 2044L301.1 2041L295.5 2044L296.6 2037.8L292.1 2033.4L298.3 2032.5zM307.2 2024.6L310 2030.3L316.2 2031.2L311.7 2035.6L312.8 2041.8L307.2 2038.9L301.6 2041.8L302.7 2035.6L298.2 2031.2L304.4 2030.3zM313.3 2027.2L316.1 2032.8L322.3 2033.7L317.8 2038.1L318.9 2044.4L313.3 2041.4L307.7 2044.4L308.8 2038.1L304.2 2033.7L310.5 2032.8zM319.4 2027.8L322.1 2033.4L328.4 2034.4L323.9 2038.8L324.9 2045L319.4 2042L313.8 2045L314.8 2038.8L310.3 2034.4L316.6 2033.4zM325.4 2031.7L328.2 2037.4L334.5 2038.3L329.9 2042.7L331 2048.9L325.4 2046L319.8 2048.9L320.9 2042.7L316.4 2038.3L322.6 2037.4zM331.5 2035L334.3 2040.7L340.5 2041.6L336 2046L337.1 2052.2L331.5 2049.3L325.9 2052.2L327 2046L322.5 2041.6L328.7 2040.7zM337.6 2036.2L340.4 2041.8L346.6 2042.7L342.1 2047.2L343.2 2053.4L337.6 2050.4L332 2053.4L333.1 2047.2L328.5 2042.7L334.8 2041.8zM343.7 2034.2L346.4 2039.9L352.7 2040.8L348.2 2045.2L349.2 2051.4L343.7 2048.5L338.1 2051.4L339.1 2045.2L334.6 2040.8L340.9 2039.9zM349.7 2035.9L352.5 2041.6L358.8 2042.5L354.2 2046.9L355.3 2053.1L349.7 2050.2L344.1 2053.1L345.2 2046.9L340.7 2042.5L346.9 2041.6zM355.8 2039.7L358.6 2045.3L364.8 2046.2L360.3 2050.6L361.4 2056.9L355.8 2053.9L350.2 2056.9L351.3 2050.6L346.8 2046.2L353 2045.3zM361.9 2040.5L364.7 2046.2L370.9 2047.1L366.4 2051.5L367.5 2057.7L361.9 2054.8L356.3 2057.7L357.4 2051.5L352.8 2047.1L359.1 2046.2zM368 2040.9L370.7 2046.5L377 2047.5L372.5 2051.9L373.5 2058.1L368 2055.1L362.4 2058.1L363.4 2051.9L358.9 2047.5L365.2 2046.5zM374 2042.6L376.8 2048.3L383.1 2049.2L378.5 2053.6L379.6 2059.8L374 2056.9L368.4 2059.8L369.5 2053.6L365 2049.2L371.2 2048.3zM380.1 2045.3L382.9 2051L389.1 2051.9L384.6 2056.3L385.7 2062.5L380.1 2059.6L374.5 2062.5L375.6 2056.3L371.1 2051.9L377.3 2051zM386.2 2048.3L389 2053.9L395.2 2054.8L390.7 2059.2L391.8 2065.5L386.2 2062.5L380.6 2065.5L381.7 2059.2L377.1 2054.8L383.4 2053.9zM392.2 2050.3L395 2056L401.3 2056.9L396.8 2061.3L397.8 2067.5L392.2 2064.6L386.7 2067.5L387.7 2061.3L383.2 2056.9L389.5 2056zM398.3 2051.3L401.1 2057L407.4 2057.9L402.8 2062.3L403.9 2068.5L398.3 2065.6L392.7 2068.5L393.8 2062.3L389.3 2057.9L395.5 2057zM404.4 2052.8L407.2 2058.5L413.4 2059.4L408.9 2063.8L410 2070L404.4 2067.1L398.8 2070L399.9 2063.8L395.4 2059.4L401.6 2058.5zM410.5 2056.2L413.3 2061.9L419.5 2062.8L415 2067.2L416.1 2073.4L410.5 2070.5L404.9 2073.4L406 2067.2L401.4 2062.8L407.7 2061.9zM416.6 2057.9L419.3 2063.6L425.6 2064.5L421.1 2068.9L422.1 2075.1L416.6 2072.1L411 2075.1L412 2068.9L407.5 2064.5L413.8 2063.6zM422.6 2054.9L425.4 2060.6L431.7 2061.5L427.1 2065.9L428.2 2072.1L422.6 2069.2L417 2072.1L418.1 2065.9L413.6 2061.5L419.8 2060.6zM428.7 2058.9L431.5 2064.6L437.7 2065.5L433.2 2069.9L434.3 2076.1L428.7 2073.2L423.1 2076.1L424.2 2069.9L419.7 2065.5L425.9 2064.6zM434.8 2060.7L437.6 2066.4L443.8 2067.3L439.3 2071.7L440.4 2077.9L434.8 2075L429.2 2077.9L430.3 2071.7L425.7 2067.3L432 2066.4zM440.9 2059.3L443.6 2065L449.9 2065.9L445.4 2070.3L446.4 2076.5L440.9 2073.6L435.3 2076.5L436.3 2070.3L431.8 2065.9L438.1 2065zM446.9 2056.5L449.7 2062.2L456 2063.1L451.4 2067.5L452.5 2073.7L446.9 2070.8L441.3 2073.7L442.4 2067.5L437.9 2063.1L444.1 2062.2zM453 2056.5L455.8 2062.2L462 2063.1L457.5 2067.5L458.6 2073.7L453 2070.8L447.4 2073.7L448.5 2067.5L444 2063.1L450.2 2062.2zM459.1 2060.2L461.9 2065.9L468.1 2066.8L463.6 2071.2L464.7 2077.4L459.1 2074.5L453.5 2077.4L454.6 2071.2L450 2066.8L456.3 2065.9zM465.1 2063L467.9 2068.7L474.2 2069.6L469.7 2074L470.7 2080.2L465.1 2077.3L459.6 2080.2L460.6 2074L456.1 2069.6L462.4 2068.7zM471.2 2063.4L474 2069.1L480.3 2070L475.7 2074.4L476.8 2080.6L471.2 2077.7L465.6 2080.6L466.7 2074.4L462.2 2070L468.4 2069.1zM477.3 2064.7L480.1 2070.4L486.3 2071.3L481.8 2075.7L482.9 2081.9L477.3 2079L471.7 2081.9L472.8 2075.7L468.3 2071.3L474.5 2070.4zM483.4 2064.7L486.2 2070.3L492.4 2071.3L487.9 2075.7L489 2081.9L483.4 2078.9L477.8 2081.9L478.9 2075.7L474.3 2071.3L480.6 2070.3zM489.5 2063L492.2 2068.7L498.5 2069.6L494 2074L495 2080.2L489.5 2077.3L483.9 2080.2L484.9 2074L480.4 2069.6L486.7 2068.7zM495.5 2065.8L498.3 2071.5L504.6 2072.4L500 2076.8L501.1 2083L495.5 2080.1L489.9 2083L491 2076.8L486.5 2072.4L492.7 2071.5zM501.6 2066.4L504.4 2072.1L510.6 2073L506.1 2077.4L507.2 2083.6L501.6 2080.7L496 2083.6L497.1 2077.4L492.6 2073L498.8 2072.1zM507.7 2065.9L510.5 2071.6L516.7 2072.5L512.2 2076.9L513.3 2083.1L507.7 2080.2L502.1 2083.1L503.2 2076.9L498.6 2072.5L504.9 2071.6zM513.8 2065.7L516.5 2071.3L522.8 2072.2L518.3 2076.6L519.3 2082.9L513.8 2079.9L508.2 2082.9L509.2 2076.6L504.7 2072.2L511 2071.3zM519.8 2067.4L522.6 2073L528.9 2073.9L524.3 2078.3L525.4 2084.5L519.8 2081.6L514.2 2084.5L515.3 2078.3L510.8 2073.9L517 2073zM525.9 2068.2L528.7 2073.9L534.9 2074.8L530.4 2079.2L531.5 2085.4L525.9 2082.5L520.3 2085.4L521.4 2079.2L516.9 2074.8L523.1 2073.9zM532 2069.2L534.8 2074.8L541 2075.8L536.5 2080.2L537.6 2086.4L532 2083.4L526.4 2086.4L527.5 2080.2L522.9 2075.8L529.2 2074.8zM538 2068.9L540.8 2074.5L547.1 2075.4L542.6 2079.8L543.6 2086.1L538 2083.1L532.5 2086.1L533.5 2079.8L529 2075.4L535.3 2074.5zM544.1 2066.4L546.9 2072.1L553.2 2073L548.6 2077.4L549.7 2083.6L544.1 2080.7L538.5 2083.6L539.6 2077.4L535.1 2073L541.3 2072.1zM550.2 2067.3L553 2073L559.2 2073.9L554.7 2078.3L555.8 2084.5L550.2 2081.6L544.6 2084.5L545.7 2078.3L541.2 2073.9L547.4 2073zM556.3 2073.3L559.1 2078.9L565.3 2079.8L560.8 2084.2L561.9 2090.5L556.3 2087.5L550.7 2090.5L551.8 2084.2L547.2 2079.8L553.5 2078.9zM562.4 2068L565.1 2073.6L571.4 2074.6L566.9 2079L567.9 2085.2L562.4 2082.2L556.8 2085.2L557.8 2079L553.3 2074.6L559.6 2073.6zM568.4 2067.9L571.2 2073.5L577.5 2074.4L572.9 2078.8L574 2085.1L568.4 2082.1L562.8 2085.1L563.9 2078.8L559.4 2074.4L565.6 2073.5zM574.5 2069.5L577.3 2075.2L583.5 2076.1L579 2080.5L580.1 2086.7L574.5 2083.8L568.9 2086.7L570 2080.5L565.5 2076.1L571.7 2075.2zM580.6 2069L583.4 2074.6L589.6 2075.5L585.1 2079.9L586.2 2086.2L580.6 2083.2L575 2086.2L576.1 2079.9L571.5 2075.5L577.8 2074.6zM586.7 2074.3L589.4 2080L595.7 2080.9L591.2 2085.3L592.2 2091.5L586.7 2088.6L581.1 2091.5L582.1 2085.3L577.6 2080.9L583.9 2080zM592.7 2073.4L595.5 2079.1L601.8 2080L597.2 2084.4L598.3 2090.6L592.7 2087.7L587.1 2090.6L588.2 2084.4L583.7 2080L589.9 2079.1zM598.8 2067.8L601.6 2073.5L607.8 2074.4L603.3 2078.8L604.4 2085L598.8 2082L593.2 2085L594.3 2078.8L589.8 2074.4L596 2073.5zM604.9 2064.4L607.7 2070L613.9 2070.9L609.4 2075.3L610.5 2081.6L604.9 2078.6L599.3 2081.6L600.4 2075.3L595.8 2070.9L602.1 2070zM611 2063.4L613.7 2069.1L620 2070L615.5 2074.4L616.5 2080.6L611 2077.6L605.4 2080.6L606.4 2074.4L601.9 2070L608.2 2069.1zM617 2068.9L619.8 2074.6L626.1 2075.5L621.5 2079.9L622.6 2086.1L617 2083.2L611.4 2086.1L612.5 2079.9L608 2075.5L614.2 2074.6zM623.1 2069.2L625.9 2074.8L632.1 2075.8L627.6 2080.2L628.7 2086.4L623.1 2083.4L617.5 2086.4L618.6 2080.2L614.1 2075.8L620.3 2074.8zM629.2 2068L632 2073.6L638.2 2074.5L633.7 2078.9L634.8 2085.2L629.2 2082.2L623.6 2085.2L624.7 2078.9L620.1 2074.5L626.4 2073.6zM635.2 2071.7L638 2077.3L644.3 2078.2L639.8 2082.6L640.8 2088.8L635.2 2085.9L629.7 2088.8L630.7 2082.6L626.2 2078.2L632.5 2077.3zM641.3 2067.1L644.1 2072.8L650.4 2073.7L645.8 2078.1L646.9 2084.3L641.3 2081.4L635.7 2084.3L636.8 2078.1L632.3 2073.7L638.5 2072.8zM647.4 2070.6L650.2 2076.3L656.4 2077.2L651.9 2081.6L653 2087.8L647.4 2084.9L641.8 2087.8L642.9 2081.6L638.4 2077.2L644.6 2076.3zM653.5 2069.7L656.3 2075.4L662.5 2076.3L658 2080.7L659.1 2086.9L653.5 2084L647.9 2086.9L649 2080.7L644.4 2076.3L650.7 2075.4zM659.5 2072.4L662.3 2078.1L668.6 2079L664.1 2083.4L665.1 2089.6L659.5 2086.7L654 2089.6L655 2083.4L650.5 2079L656.8 2078.1zM665.6 2070.4L668.4 2076.1L674.7 2077L670.1 2081.4L671.2 2087.6L665.6 2084.7L660 2087.6L661.1 2081.4L656.6 2077L662.8 2076.1zM671.7 2070.7L674.5 2076.3L680.7 2077.2L676.2 2081.6L677.3 2087.8L671.7 2084.9L666.1 2087.8L667.2 2081.6L662.7 2077.2L668.9 2076.3zM677.8 2068.7L680.6 2074.3L686.8 2075.3L682.3 2079.7L683.4 2085.9L677.8 2082.9L672.2 2085.9L673.3 2079.7L668.7 2075.3L675 2074.3zM683.9 2072.6L686.6 2078.2L692.9 2079.1L688.4 2083.5L689.4 2089.7L683.9 2086.8L678.3 2089.7L679.3 2083.5L674.8 2079.1L681.1 2078.2zM689.9 2071.6L692.7 2077.2L699 2078.1L694.4 2082.6L695.5 2088.8L689.9 2085.8L684.3 2088.8L685.4 2082.6L680.9 2078.1L687.1 2077.2zM696 2067.8L698.8 2073.5L705 2074.4L700.5 2078.8L701.6 2085L696 2082.1L690.4 2085L691.5 2078.8L687 2074.4L693.2 2073.5zM702.1 2072.7L704.9 2078.3L711.1 2079.2L706.6 2083.6L707.7 2089.9L702.1 2086.9L696.5 2089.9L697.6 2083.6L693 2079.2L699.3 2078.3zM708.2 2071.2L710.9 2076.9L717.2 2077.8L712.7 2082.2L713.7 2088.4L708.2 2085.5L702.6 2088.4L703.6 2082.2L699.1 2077.8L705.4 2076.9zM714.2 2070.7L717 2076.4L723.3 2077.3L718.7 2081.7L719.8 2087.9L714.2 2085L708.6 2087.9L709.7 2081.7L705.2 2077.3L711.4 2076.4zM720.3 2072.5L723.1 2078.1L729.3 2079L724.8 2083.4L725.9 2089.7L720.3 2086.7L714.7 2089.7L715.8 2083.4L711.3 2079L717.5 2078.1zM726.4 2072.6L729.2 2078.3L735.4 2079.2L730.9 2083.6L732 2089.8L726.4 2086.9L720.8 2089.8L721.9 2083.6L717.3 2079.2L723.6 2078.3zM732.5 2069.4L735.2 2075.1L741.5 2076L737 2080.4L738 2086.6L732.5 2083.7L726.9 2086.6L727.9 2080.4L723.4 2076L729.7 2075.1zM738.5 2069.1L741.3 2074.8L747.6 2075.7L743 2080.1L744.1 2086.3L738.5 2083.3L732.9 2086.3L734 2080.1L729.5 2075.7L735.7 2074.8zM744.6 2070.2L747.4 2075.8L753.6 2076.7L749.1 2081.1L750.2 2087.4L744.6 2084.4L739 2087.4L740.1 2081.1L735.6 2076.7L741.8 2075.8zM750.7 2071.1L753.5 2076.8L759.7 2077.7L755.2 2082.1L756.3 2088.3L750.7 2085.4L745.1 2088.3L746.2 2082.1L741.6 2077.7L747.9 2076.8zM756.8 2074.2L759.5 2079.9L765.8 2080.8L761.3 2085.2L762.3 2091.4L756.8 2088.5L751.2 2091.4L752.2 2085.2L747.7 2080.8L754 2079.9zM762.8 2072.8L765.6 2078.5L771.9 2079.4L767.3 2083.8L768.4 2090L762.8 2087.1L757.2 2090L758.3 2083.8L753.8 2079.4L760 2078.5zM768.9 2069.2L771.7 2074.8L777.9 2075.7L773.4 2080.1L774.5 2086.3L768.9 2083.4L763.3 2086.3L764.4 2080.1L759.9 2075.7L766.1 2074.8zM775 2069.6L777.8 2075.2L784 2076.1L779.5 2080.5L780.6 2086.8L775 2083.8L769.4 2086.8L770.5 2080.5L765.9 2076.1L772.2 2075.2zM781 2074.5L783.8 2080.1L790.1 2081L785.6 2085.4L786.6 2091.6L781 2088.7L775.5 2091.6L776.5 2085.4L772 2081L778.3 2080.1zM787.1 2077.4L789.9 2083L796.2 2083.9L791.6 2088.4L792.7 2094.6L787.1 2091.6L781.5 2094.6L782.6 2088.4L778.1 2083.9L784.3 2083zM793.2 2075.6L796 2081.2L802.2 2082.1L797.7 2086.5L798.8 2092.8L793.2 2089.8L787.6 2092.8L788.7 2086.5L784.2 2082.1L790.4 2081.2zM799.3 2073.5L802.1 2079.1L808.3 2080L803.8 2084.5L804.9 2090.7L799.3 2087.7L793.7 2090.7L794.8 2084.5L790.2 2080L796.5 2079.1zM805.4 2074.3L808.1 2080L814.4 2080.9L809.9 2085.3L810.9 2091.5L805.4 2088.6L799.8 2091.5L800.8 2085.3L796.3 2080.9L802.6 2080zM811.4 2074.2L814.2 2079.8L820.5 2080.7L815.9 2085.1L817 2091.3L811.4 2088.4L805.8 2091.3L806.9 2085.1L802.4 2080.7L808.6 2079.8zM817.5 2072.9L820.3 2078.6L826.5 2079.5L822 2083.9L823.1 2090.1L817.5 2087.2L811.9 2090.1L813 2083.9L808.5 2079.5L814.7 2078.6zM823.6 2071.5L826.4 2077.2L832.6 2078.1L828.1 2082.5L829.2 2088.7L823.6 2085.8L818 2088.7L819.1 2082.5L814.5 2078.1L820.8 2077.2zM829.7 2072.5L832.4 2078.2L838.7 2079.1L834.2 2083.5L835.2 2089.7L829.7 2086.8L824.1 2089.7L825.1 2083.5L820.6 2079.1L826.9 2078.2zM835.7 2070.8L838.5 2076.5L844.8 2077.4L840.2 2081.8L841.3 2088L835.7 2085.1L830.1 2088L831.2 2081.8L826.7 2077.4L832.9 2076.5zM841.8 2075.6L844.6 2081.3L850.8 2082.2L846.3 2086.6L847.4 2092.8L841.8 2089.9L836.2 2092.8L837.3 2086.6L832.8 2082.2L839 2081.3zM847.9 2073.4L850.7 2079.1L856.9 2080L852.4 2084.4L853.5 2090.6L847.9 2087.7L842.3 2090.6L843.4 2084.4L838.8 2080L845.1 2079.1zM854 2072.9L856.7 2078.5L863 2079.4L858.5 2083.8L859.5 2090.1L854 2087.1L848.4 2090.1L849.4 2083.8L844.9 2079.4L851.2 2078.5zM860 2076.5L862.8 2082.2L869.1 2083.1L864.5 2087.5L865.6 2093.7L860 2090.8L854.4 2093.7L855.5 2087.5L851 2083.1L857.2 2082.2zM866.1 2072.3L868.9 2077.9L875.1 2078.9L870.6 2083.3L871.7 2089.5L866.1 2086.5L860.5 2089.5L861.6 2083.3L857.1 2078.9L863.3 2077.9zM872.2 2076.6L875 2082.3L881.2 2083.2L876.7 2087.6L877.8 2093.8L872.2 2090.9L866.6 2093.8L867.7 2087.6L863.1 2083.2L869.4 2082.3zM878.2 2077.7L881 2083.4L887.3 2084.3L882.8 2088.7L883.8 2094.9L878.2 2091.9L872.7 2094.9L873.7 2088.7L869.2 2084.3L875.5 2083.4zM884.3 2070L887.1 2075.7L893.4 2076.6L888.8 2081L889.9 2087.2L884.3 2084.3L878.7 2087.2L879.8 2081L875.3 2076.6L881.5 2075.7zM890.4 2070.5L893.2 2076.1L899.4 2077L894.9 2081.4L896 2087.6L890.4 2084.7L884.8 2087.6L885.9 2081.4L881.4 2077L887.6 2076.1zM896.5 2072.4L899.3 2078.1L905.5 2079L901 2083.4L902.1 2089.6L896.5 2086.7L890.9 2089.6L892 2083.4L887.4 2079L893.7 2078.1zM902.5 2071.2L905.3 2076.8L911.6 2077.7L907.1 2082.1L908.1 2088.4L902.5 2085.4L897 2088.4L898 2082.1L893.5 2077.7L899.8 2076.8zM908.6 2071.2L911.4 2076.9L917.7 2077.8L913.1 2082.2L914.2 2088.4L908.6 2085.5L903 2088.4L904.1 2082.2L899.6 2077.8L905.8 2076.9zM914.7 2075.8L917.5 2081.4L923.7 2082.3L919.2 2086.7L920.3 2092.9L914.7 2090L909.1 2092.9L910.2 2086.7L905.7 2082.3L911.9 2081.4zM920.8 2074L923.6 2079.7L929.8 2080.6L925.3 2085L926.4 2091.2L920.8 2088.3L915.2 2091.2L916.3 2085L911.7 2080.6L918 2079.7zM926.9 2071.7L929.6 2077.4L935.9 2078.3L931.4 2082.7L932.4 2088.9L926.9 2086L921.3 2088.9L922.3 2082.7L917.8 2078.3L924.1 2077.4zM932.9 2074.2L935.7 2079.8L942 2080.7L937.4 2085.1L938.5 2091.4L932.9 2088.4L927.3 2091.4L928.4 2085.1L923.9 2080.7L930.1 2079.8zM939 2074.5L941.8 2080.2L948 2081.1L943.5 2085.5L944.6 2091.7L939 2088.7L933.4 2091.7L934.5 2085.5L930 2081.1L936.2 2080.2zM945.1 2075.7L947.9 2081.3L954.1 2082.3L949.6 2086.7L950.7 2092.9L945.1 2089.9L939.5 2092.9L940.6 2086.7L936 2082.3L942.3 2081.3zM951.2 2073.8L953.9 2079.4L960.2 2080.3L955.7 2084.7L956.7 2090.9L951.2 2088L945.6 2090.9L946.6 2084.7L942.1 2080.3L948.4 2079.4zM957.2 2075.7L960 2081.4L966.3 2082.3L961.7 2086.7L962.8 2092.9L957.2 2090L951.6 2092.9L952.7 2086.7L948.2 2082.3L954.4 2081.4zM963.3 2076.5L966.1 2082.1L972.3 2083L967.8 2087.4L968.9 2093.6L963.3 2090.7L957.7 2093.6L958.8 2087.4L954.3 2083L960.5 2082.1zM969.4 2078L972.2 2083.6L978.4 2084.5L973.9 2088.9L975 2095.2L969.4 2092.2L963.8 2095.2L964.9 2088.9L960.3 2084.5L966.6 2083.6zM975.5 2077.9L978.2 2083.6L984.5 2084.5L980 2088.9L981 2095.1L975.5 2092.1L969.9 2095.1L970.9 2088.9L966.4 2084.5L972.7 2083.6zM981.5 2075.7L984.3 2081.3L990.6 2082.2L986 2086.6L987.1 2092.9L981.5 2089.9L975.9 2092.9L977 2086.6L972.5 2082.2L978.7 2081.3zM987.6 2074.6L990.4 2080.2L996.6 2081.1L992.1 2085.5L993.2 2091.7L987.6 2088.8L982 2091.7L983.1 2085.5L978.6 2081.1L984.8 2080.2zM993.7 2076L996.5 2081.6L1002.7 2082.5L998.2 2086.9L999.3 2093.1L993.7 2090.2L988.1 2093.1L989.2 2086.9L984.6 2082.5L990.9 2081.6zM999.8 2077.7L1002.5 2083.4L1008.8 2084.3L1004.3 2088.7L1005.3 2094.9L999.8 2092L994.2 2094.9L995.2 2088.7L990.7 2084.3L997 2083.4zM1005.8 2075.4L1008.6 2081.1L1014.9 2082L1010.3 2086.4L1011.4 2092.6L1005.8 2089.7L1000.2 2092.6L1001.3 2086.4L996.8 2082L1003 2081.1zM1011.9 2074.7L1014.7 2080.3L1020.9 2081.2L1016.4 2085.6L1017.5 2091.8L1011.9 2088.9L1006.3 2091.8L1007.4 2085.6L1002.9 2081.2L1009.1 2080.3zM1018 2072.6L1020.8 2078.2L1027 2079.1L1022.5 2083.5L1023.6 2089.8L1018 2086.8L1012.4 2089.8L1013.5 2083.5L1008.9 2079.1L1015.2 2078.2zM1024 2075.4L1026.8 2081L1033.1 2081.9L1028.6 2086.3L1029.6 2092.6L1024 2089.6L1018.5 2092.6L1019.5 2086.3L1015 2081.9L1021.3 2081zM1030.1 2076L1032.9 2081.6L1039.2 2082.6L1034.6 2087L1035.7 2093.2L1030.1 2090.2L1024.5 2093.2L1025.6 2087L1021.1 2082.6L1027.3 2081.6zM1036.2 2074.3L1039 2080L1045.2 2080.9L1040.7 2085.3L1041.8 2091.5L1036.2 2088.6L1030.6 2091.5L1031.7 2085.3L1027.2 2080.9L1033.4 2080zM1042.3 2071.8L1045.1 2077.4L1051.3 2078.3L1046.8 2082.7L1047.9 2088.9L1042.3 2086L1036.7 2088.9L1037.8 2082.7L1033.2 2078.3L1039.5 2077.4zM1048.4 2074L1051.1 2079.7L1057.4 2080.6L1052.9 2085L1053.9 2091.2L1048.4 2088.3L1042.8 2091.2L1043.8 2085L1039.3 2080.6L1045.6 2079.7zM1054.4 2074.7L1057.2 2080.4L1063.5 2081.3L1058.9 2085.7L1060 2091.9L1054.4 2089L1048.8 2091.9L1049.9 2085.7L1045.4 2081.3L1051.6 2080.4zM1060.5 2076.6L1063.3 2082.2L1069.5 2083.1L1065 2087.5L1066.1 2093.7L1060.5 2090.8L1054.9 2093.7L1056 2087.5L1051.5 2083.1L1057.7 2082.2zM1066.6 2076L1069.4 2081.6L1075.6 2082.5L1071.1 2086.9L1072.2 2093.1L1066.6 2090.2L1061 2093.1L1062.1 2086.9L1057.5 2082.5L1063.8 2081.6zM1072.7 2073.1L1075.4 2078.8L1081.7 2079.7L1077.2 2084.1L1078.2 2090.3L1072.7 2087.4L1067.1 2090.3L1068.1 2084.1L1063.6 2079.7L1069.9 2078.8zM1078.7 2072.4L1081.5 2078.1L1087.8 2079L1083.2 2083.4L1084.3 2089.6L1078.7 2086.6L1073.1 2089.6L1074.2 2083.4L1069.7 2079L1075.9 2078.1zM1084.8 2071.6L1087.6 2077.3L1093.8 2078.2L1089.3 2082.6L1090.4 2088.8L1084.8 2085.9L1079.2 2088.8L1080.3 2082.6L1075.8 2078.2L1082 2077.3zM1090.9 2076.7L1093.7 2082.4L1099.9 2083.3L1095.4 2087.7L1096.5 2093.9L1090.9 2091L1085.3 2093.9L1086.4 2087.7L1081.8 2083.3L1088.1 2082.4zM1097 2073.3L1099.7 2079L1106 2079.9L1101.5 2084.3L1102.5 2090.5L1097 2087.6L1091.4 2090.5L1092.4 2084.3L1087.9 2079.9L1094.2 2079zM1103 2075.7L1105.8 2081.4L1112.1 2082.3L1107.5 2086.7L1108.6 2092.9L1103 2090L1097.4 2092.9L1098.5 2086.7L1094 2082.3L1100.2 2081.4zM1109.1 2073.4L1111.9 2079.1L1118.1 2080L1113.6 2084.4L1114.7 2090.6L1109.1 2087.7L1103.5 2090.6L1104.6 2084.4L1100.1 2080L1106.3 2079.1zM1115.2 2078.5L1118 2084.1L1124.2 2085.1L1119.7 2089.5L1120.8 2095.7L1115.2 2092.7L1109.6 2095.7L1110.7 2089.5L1106.1 2085.1L1112.4 2084.1zM1121.2 2075.5L1124 2081.2L1130.3 2082.1L1125.8 2086.5L1126.8 2092.7L1121.2 2089.7L1115.7 2092.7L1116.7 2086.5L1112.2 2082.1L1118.5 2081.2zM1127.3 2076.1L1130.1 2081.7L1136.4 2082.6L1131.8 2087.1L1132.9 2093.3L1127.3 2090.3L1121.7 2093.3L1122.8 2087.1L1118.3 2082.6L1124.5 2081.7zM1133.4 2072L1136.2 2077.6L1142.4 2078.5L1137.9 2082.9L1139 2089.2L1133.4 2086.2L1127.8 2089.2L1128.9 2082.9L1124.4 2078.5L1130.6 2077.6zM1139.5 2072.9L1142.3 2078.6L1148.5 2079.5L1144 2083.9L1145.1 2090.1L1139.5 2087.2L1133.9 2090.1L1135 2083.9L1130.4 2079.5L1136.7 2078.6zM1145.5 2070.9L1148.3 2076.5L1154.6 2077.4L1150.1 2081.8L1151.1 2088.1L1145.5 2085.1L1140 2088.1L1141 2081.8L1136.5 2077.4L1142.8 2076.5zM1151.6 2073.6L1154.4 2079.3L1160.7 2080.2L1156.1 2084.6L1157.2 2090.8L1151.6 2087.9L1146 2090.8L1147.1 2084.6L1142.6 2080.2L1148.8 2079.3zM1157.7 2069.7L1160.5 2075.3L1166.7 2076.2L1162.2 2080.6L1163.3 2086.8L1157.7 2083.9L1152.1 2086.8L1153.2 2080.6L1148.7 2076.2L1154.9 2075.3zM1163.8 2073.2L1166.6 2078.8L1172.8 2079.7L1168.3 2084.1L1169.4 2090.3L1163.8 2087.4L1158.2 2090.3L1159.3 2084.1L1154.7 2079.7L1161 2078.8zM1169.9 2069.5L1172.6 2075.2L1178.9 2076.1L1174.4 2080.5L1175.4 2086.7L1169.9 2083.8L1164.3 2086.7L1165.3 2080.5L1160.8 2076.1L1167.1 2075.2zM1175.9 2073.1L1178.7 2078.8L1185 2079.7L1180.4 2084.1L1181.5 2090.3L1175.9 2087.4L1170.3 2090.3L1171.4 2084.1L1166.9 2079.7L1173.1 2078.8zM1182 2075.1L1184.8 2080.7L1191 2081.6L1186.5 2086.1L1187.6 2092.3L1182 2089.3L1176.4 2092.3L1177.5 2086.1L1173 2081.6L1179.2 2080.7zM1188.1 2071.9L1190.9 2077.6L1197.1 2078.5L1192.6 2082.9L1193.7 2089.1L1188.1 2086.2L1182.5 2089.1L1183.6 2082.9L1179 2078.5L1185.3 2077.6zM1194.2 2073.5L1196.9 2079.1L1203.2 2080.1L1198.7 2084.5L1199.7 2090.7L1194.2 2087.7L1188.6 2090.7L1189.6 2084.5L1185.1 2080.1L1191.4 2079.1zM1200.2 2073.2L1203 2078.9L1209.3 2079.8L1204.7 2084.2L1205.8 2090.4L1200.2 2087.5L1194.6 2090.4L1195.7 2084.2L1191.2 2079.8L1197.4 2078.9zM1206.3 2075.6L1209.1 2081.3L1215.3 2082.2L1210.8 2086.6L1211.9 2092.8L1206.3 2089.9L1200.7 2092.8L1201.8 2086.6L1197.3 2082.2L1203.5 2081.3zM1212.4 2074.3L1215.2 2080L1221.4 2080.9L1216.9 2085.3L1218 2091.5L1212.4 2088.6L1206.8 2091.5L1207.9 2085.3L1203.3 2080.9L1209.6 2080zM1218.5 2073L1221.2 2078.6L1227.5 2079.6L1223 2084L1224 2090.2L1218.5 2087.2L1212.9 2090.2L1213.9 2084L1209.4 2079.6L1215.7 2078.6zM1224.5 2074.1L1227.3 2079.8L1233.6 2080.7L1229 2085.1L1230.1 2091.3L1224.5 2088.4L1218.9 2091.3L1220 2085.1L1215.5 2080.7L1221.7 2079.8zM1230.6 2072.3L1233.4 2077.9L1239.6 2078.8L1235.1 2083.3L1236.2 2089.5L1230.6 2086.5L1225 2089.5L1226.1 2083.3L1221.6 2078.8L1227.8 2077.9zM1236.7 2077L1239.5 2082.6L1245.7 2083.5L1241.2 2087.9L1242.3 2094.2L1236.7 2091.2L1231.1 2094.2L1232.2 2087.9L1227.6 2083.5L1233.9 2082.6zM1242.8 2072L1245.5 2077.7L1251.8 2078.6L1247.3 2083L1248.3 2089.2L1242.8 2086.3L1237.2 2089.2L1238.2 2083L1233.7 2078.6L1240 2077.7zM1248.8 2073.1L1251.6 2078.7L1257.9 2079.6L1253.3 2084L1254.4 2090.3L1248.8 2087.3L1243.2 2090.3L1244.3 2084L1239.8 2079.6L1246 2078.7zM1254.9 2069.6L1257.7 2075.3L1263.9 2076.2L1259.4 2080.6L1260.5 2086.8L1254.9 2083.9L1249.3 2086.8L1250.4 2080.6L1245.9 2076.2L1252.1 2075.3zM1261 2072.1L1263.8 2077.8L1270 2078.7L1265.5 2083.1L1266.6 2089.3L1261 2086.4L1255.4 2089.3L1256.5 2083.1L1251.9 2078.7L1258.2 2077.8zM1267 2073.4L1269.8 2079.1L1276.1 2080L1271.6 2084.4L1272.6 2090.6L1267 2087.7L1261.5 2090.6L1262.5 2084.4L1258 2080L1264.3 2079.1zM1273.1 2073.4L1275.9 2079L1282.2 2079.9L1277.6 2084.3L1278.7 2090.5L1273.1 2087.6L1267.5 2090.5L1268.6 2084.3L1264.1 2079.9L1270.3 2079zM1279.2 2071.9L1282 2077.5L1288.2 2078.4L1283.7 2082.8L1284.8 2089L1279.2 2086.1L1273.6 2089L1274.7 2082.8L1270.2 2078.4L1276.4 2077.5zM1285.3 2070.7L1288.1 2076.4L1294.3 2077.3L1289.8 2081.7L1290.9 2087.9L1285.3 2085L1279.7 2087.9L1280.8 2081.7L1276.2 2077.3L1282.5 2076.4zM1291.3 2072.4L1294.1 2078.1L1300.4 2079L1295.9 2083.4L1296.9 2089.6L1291.3 2086.7L1285.8 2089.6L1286.8 2083.4L1282.3 2079L1288.6 2078.1zM1297.4 2073.5L1300.2 2079.2L1306.5 2080.1L1301.9 2084.5L1303 2090.7L1297.4 2087.8L1291.8 2090.7L1292.9 2084.5L1288.4 2080.1L1294.6 2079.2zM1303.5 2071.4L1306.3 2077L1312.5 2078L1308 2082.4L1309.1 2088.6L1303.5 2085.6L1297.9 2088.6L1299 2082.4L1294.5 2078L1300.7 2077zM1309.6 2069.9L1312.4 2075.6L1318.6 2076.5L1314.1 2080.9L1315.2 2087.1L1309.6 2084.2L1304 2087.1L1305.1 2080.9L1300.5 2076.5L1306.8 2075.6zM1315.7 2074.5L1318.4 2080.2L1324.7 2081.1L1320.2 2085.5L1321.2 2091.7L1315.7 2088.7L1310.1 2091.7L1311.1 2085.5L1306.6 2081.1L1312.9 2080.2zM1321.7 2074.4L1324.5 2080.1L1330.8 2081L1326.2 2085.4L1327.3 2091.6L1321.7 2088.7L1316.1 2091.6L1317.2 2085.4L1312.7 2081L1318.9 2080.1zM1327.8 2073.6L1330.6 2079.3L1336.8 2080.2L1332.3 2084.6L1333.4 2090.8L1327.8 2087.9L1322.2 2090.8L1323.3 2084.6L1318.8 2080.2L1325 2079.3zM1333.9 2068.6L1336.7 2074.3L1342.9 2075.2L1338.4 2079.6L1339.5 2085.8L1333.9 2082.9L1328.3 2085.8L1329.4 2079.6L1324.8 2075.2L1331.1 2074.3zM1340 2068L1342.7 2073.7L1349 2074.6L1344.5 2079L1345.5 2085.2L1340 2082.3L1334.4 2085.2L1335.4 2079L1330.9 2074.6L1337.2 2073.7zM1346 2068.7L1348.8 2074.3L1355.1 2075.2L1350.5 2079.6L1351.6 2085.8L1346 2082.9L1340.4 2085.8L1341.5 2079.6L1337 2075.2L1343.2 2074.3zM1352.1 2069.4L1354.9 2075L1361.1 2076L1356.6 2080.4L1357.7 2086.6L1352.1 2083.6L1346.5 2086.6L1347.6 2080.4L1343.1 2076L1349.3 2075zM1358.2 2072.7L1361 2078.4L1367.2 2079.3L1362.7 2083.7L1363.8 2089.9L1358.2 2087L1352.6 2089.9L1353.7 2083.7L1349.1 2079.3L1355.4 2078.4zM1364.2 2069.3L1367 2074.9L1373.3 2075.8L1368.8 2080.2L1369.8 2086.5L1364.2 2083.5L1358.7 2086.5L1359.7 2080.2L1355.2 2075.8L1361.5 2074.9zM1370.3 2071.3L1373.1 2076.9L1379.4 2077.8L1374.8 2082.2L1375.9 2088.5L1370.3 2085.5L1364.7 2088.5L1365.8 2082.2L1361.3 2077.8L1367.5 2076.9zM1376.4 2072.5L1379.2 2078.2L1385.4 2079.1L1380.9 2083.5L1382 2089.7L1376.4 2086.8L1370.8 2089.7L1371.9 2083.5L1367.4 2079.1L1373.6 2078.2zM1382.5 2067.4L1385.3 2073.1L1391.5 2074L1387 2078.4L1388.1 2084.6L1382.5 2081.7L1376.9 2084.6L1378 2078.4L1373.4 2074L1379.7 2073.1zM1388.5 2072.5L1391.3 2078.2L1397.6 2079.1L1393.1 2083.5L1394.1 2089.7L1388.5 2086.8L1383 2089.7L1384 2083.5L1379.5 2079.1L1385.8 2078.2zM1394.6 2068.4L1397.4 2074.1L1403.7 2075L1399.1 2079.4L1400.2 2085.6L1394.6 2082.7L1389 2085.6L1390.1 2079.4L1385.6 2075L1391.8 2074.1zM1400.7 2069.5L1403.5 2075.1L1409.7 2076L1405.2 2080.4L1406.3 2086.7L1400.7 2083.7L1395.1 2086.7L1396.2 2080.4L1391.7 2076L1397.9 2075.1zM1406.8 2072L1409.6 2077.6L1415.8 2078.5L1411.3 2082.9L1412.4 2089.1L1406.8 2086.2L1401.2 2089.1L1402.3 2082.9L1397.7 2078.5L1404 2077.6zM1412.8 2070.5L1415.6 2076.1L1421.9 2077L1417.4 2081.4L1418.4 2087.7L1412.8 2084.7L1407.3 2087.7L1408.3 2081.4L1403.8 2077L1410.1 2076.1zM1418.9 2072L1421.7 2077.7L1428 2078.6L1423.4 2083L1424.5 2089.2L1418.9 2086.3L1413.3 2089.2L1414.4 2083L1409.9 2078.6L1416.1 2077.7zM1425 2070.4L1427.8 2076L1434 2076.9L1429.5 2081.3L1430.6 2087.6L1425 2084.6L1419.4 2087.6L1420.5 2081.3L1416 2076.9L1422.2 2076zM1431.1 2071.5L1433.9 2077.1L1440.1 2078L1435.6 2082.4L1436.7 2088.7L1431.1 2085.7L1425.5 2088.7L1426.6 2082.4L1422 2078L1428.3 2077.1zM1437.2 2072.8L1439.9 2078.5L1446.2 2079.4L1441.7 2083.8L1442.7 2090L1437.2 2087.1L1431.6 2090L1432.6 2083.8L1428.1 2079.4L1434.4 2078.5zM1443.2 2065.6L1446 2071.2L1452.3 2072.1L1447.7 2076.5L1448.8 2082.8L1443.2 2079.8L1437.6 2082.8L1438.7 2076.5L1434.2 2072.1L1440.4 2071.2zM1449.3 2069.6L1452.1 2075.3L1458.3 2076.2L1453.8 2080.6L1454.9 2086.8L1449.3 2083.8L1443.7 2086.8L1444.8 2080.6L1440.3 2076.2L1446.5 2075.3z" fill="#00eeee"/>
<path d="M240.4 1978.5 246.5 1992.5 252.5 1993.3 258.6 2019.3 264.7 2026.7 270.8 2034.1 276.8 2029.9 282.9 2031.2 289 2036.1 295.1 2035 301.1 2036.5 307.2 2033.8 313.3 2039.7 319.4 2041.6 325.4 2044.2 331.5 2046 337.6 2049 343.7 2051.7 349.7 2051.3 355.8 2051.2 361.9 2056.9 368 2059.6 374 2059.3 380.1 2056.6 386.2 2060.7 392.2 2065.9 398.3 2063.4 404.4 2063.8 410.5 2062.5 416.6 2066.6 422.6 2065.3 428.7 2071.2 434.8 2070 440.9 2071.7 446.9 2075.3 453 2075 459.1 2072.3 465.1 2072.4 471.2 2075.8 477.3 2074.4 483.4 2074.6 489.5 2075.1 495.5 2076.7 501.6 2077.5 507.7 2080.3 513.8 2080 519.8 2079.8 525.9 2081.8 532 2081.5 538 2080.7 544.1 2080.5 550.2 2078.9 556.3 2082.7 562.4 2082.7 568.4 2081.5 574.5 2082.6 580.6 2081.6 586.7 2083.1 592.7 2080.4 598.8 2082.5 604.9 2085.1 611 2082.3 617 2079.7 623.1 2086.2 629.2 2084.8 635.2 2084.1 641.3 2082.1 647.4 2080.7 653.5 2083.6 659.5 2087.4 665.6 2084.2 671.7 2082.7 677.8 2083.4 683.9 2084.5 689.9 2086.6 696 2081 702.1 2086.6 708.2 2088.9 714.2 2084.9 720.3 2085.1 726.4 2084.4 732.5 2084.9 738.5 2082.5 744.6 2082.4 750.7 2086.3 756.8 2084.5 762.8 2088.3 768.9 2090.6 775 2085.6 781 2087.3 787.1 2091.3 793.2 2088.4 799.3 2088.9 805.4 2086.8 811.4 2087.3 817.5 2088.9 823.6 2089.4 829.7 2086.7 835.7 2089.2 841.8 2088 847.9 2089.9 854 2087.7 860 2084.4 866.1 2085.9 872.2 2085.3 878.2 2086.5 884.3 2089.7 890.4 2089.4 896.5 2088.6 902.5 2087.7 908.6 2089.5 914.7 2087.7 920.8 2089.9 926.9 2089 932.9 2089 939 2091.2 945.1 2087.7 951.2 2088.6 957.2 2088.8 963.3 2089.2 969.4 2093.4 975.5 2093.4 981.5 2092.4 987.6 2088.4 993.7 2090.4 999.8 2088.7 1005.8 2091.3 1011.9 2091.7 1018 2091 1024 2087.7 1030.1 2092 1036.2 2090.4 1042.3 2088.7 1048.4 2088.6 1054.4 2088.9 1060.5 2087.3 1066.6 2087.8 1072.7 2090.4 1078.7 2087.9 1084.8 2089.9 1090.9 2089.6 1097 2085.9 1103 2082.8 1109.1 2083.7 1115.2 2086 1121.2 2089 1127.3 2089.8 1133.4 2085.2 1139.5 2086.4 1145.5 2090.1 1151.6 2085.3 1157.7 2085.8 1163.8 2084.4 1169.9 2085.8 1175.9 2091.1 1182 2089.9 1188.1 2088.3 1194.2 2087.8 1200.2 2084.3 1206.3 2087.5 1212.4 2087.3 1218.5 2087.1 1224.5 2087.1 1230.6 2088.9 1236.7 2089.7 1242.8 2092.6 1248.8 2087.7 1254.9 2087.2 1261 2086.2 1267 2088.3 1273.1 2086.8 1279.2 2088.3 1285.3 2088.7 1291.3 2086.1 1297.4 2084.7 1303.5 2084.4 1309.6 2085.4 1315.7 2086.4 1321.7 2083.1 1327.8 2082.3 1333.9 2085.8 1340 2087.6 1346 2085.3 1352.1 2084.6 1358.2 2086.8 1364.2 2081.1 1370.3 2088 1376.4 2087.5 1382.5 2085.2 1388.5 2083 1394.6 2087.8 1400.7 2086.5 1406.8 2082.3 1412.8 2081.1 1418.9 2083.9 1425 2084.1 1431.1 2086 1437.2 2083.9 1443.2 2086.1 1449.3 2088.7" fill="none" stroke="#22dddd" stroke-width="2.0"/>
<g fill="#fff" stroke="#00e4e4" stroke-width="2.0">
<path d="M240.4 1969L243.2 1974.7L249.4 1975.6L244.9 1980L246 1986.2L240.4 1983.3L234.8 1986.2L235.9 1980L231.3 1975.6L237.6 1974.7z"/>
<path d="M246.5 1983L249.2 1988.6L255.5 1989.5L251 1993.9L252 2000.1L246.5 1997.2L240.9 2000.1L241.9 1993.9L237.4 1989.5L243.7 1988.6z"/>
<path d="M252.5 1983.8L255.3 1989.5L261.6 1990.4L257 1994.8L258.1 2001L252.5 1998L246.9 2001L248 1994.8L243.5 1990.4L249.7 1989.5z"/>
<path d="M258.6 2009.8L261.4 2015.5L267.6 2016.4L263.1 2020.8L264.2 2027L258.6 2024.1L253 2027L254.1 2020.8L249.6 2016.4L255.8 2015.5z"/>
<path d="M264.7 2017.2L267.5 2022.8L273.7 2023.8L269.2 2028.2L270.3 2034.4L264.7 2031.4L259.1 2034.4L260.2 2028.2L255.6 2023.8L261.9 2022.8z"/>
<path d="M270.8 2024.6L273.5 2030.3L279.8 2031.2L275.3 2035.6L276.3 2041.8L270.8 2038.9L265.2 2041.8L266.2 2035.6L261.7 2031.2L268 2030.3z"/>
<path d="M276.8 2020.4L279.6 2026L285.9 2026.9L281.3 2031.3L282.4 2037.5L276.8 2034.6L271.2 2037.5L272.3 2031.3L267.8 2026.9L274 2026z"/>
<path d="M282.9 2021.7L285.7 2027.4L291.9 2028.3L287.4 2032.7L288.5 2038.9L282.9 2036L277.3 2038.9L278.4 2032.7L273.9 2028.3L280.1 2027.4z"/>
<path d="M289 2026.6L291.8 2032.3L298 2033.2L293.5 2037.6L294.6 2043.8L289 2040.9L283.4 2043.8L284.5 2037.6L279.9 2033.2L286.2 2032.3z"/>
<path d="M295.1 2025.5L297.8 2031.1L304.1 2032L299.6 2036.4L300.6 2042.7L295.1 2039.7L289.5 2042.7L290.5 2036.4L286 2032L292.3 2031.1z"/>
<path d="M301.1 2027L303.9 2032.7L310.2 2033.6L305.6 2038L306.7 2044.2L301.1 2041.3L295.5 2044.2L296.6 2038L292.1 2033.6L298.3 2032.7z"/>
<path d="M307.2 2024.3L310 2030L316.2 2030.9L311.7 2035.3L312.8 2041.5L307.2 2038.5L301.6 2041.5L302.7 2035.3L298.2 2030.9L304.4 2030z"/>
<path d="M313.3 2030.2L316.1 2035.9L322.3 2036.8L317.8 2041.2L318.9 2047.4L313.3 2044.5L307.7 2047.4L308.8 2041.2L304.2 2036.8L310.5 2035.9z"/>
<path d="M319.4 2032.1L322.1 2037.8L328.4 2038.7L323.9 2043.1L324.9 2049.3L319.4 2046.4L313.8 2049.3L314.8 2043.1L310.3 2038.7L316.6 2037.8z"/>
<path d="M325.4 2034.7L328.2 2040.4L334.5 2041.3L329.9 2045.7L331 2051.9L325.4 2049L319.8 2051.9L320.9 2045.7L316.4 2041.3L322.6 2040.4z"/>
<path d="M331.5 2036.5L334.3 2042.1L340.5 2043L336 2047.5L337.1 2053.7L331.5 2050.7L325.9 2053.7L327 2047.5L322.5 2043L328.7 2042.1z"/>
<path d="M337.6 2039.5L340.4 2045.1L346.6 2046.1L342.1 2050.5L343.2 2056.7L337.6 2053.7L332 2056.7L333.1 2050.5L328.5 2046.1L334.8 2045.1z"/>
<path d="M343.7 2042.2L346.4 2047.9L352.7 2048.8L348.2 2053.2L349.2 2059.4L343.7 2056.4L338.1 2059.4L339.1 2053.2L334.6 2048.8L340.9 2047.9z"/>
<path d="M349.7 2041.8L352.5 2047.5L358.8 2048.4L354.2 2052.8L355.3 2059L349.7 2056.1L344.1 2059L345.2 2052.8L340.7 2048.4L346.9 2047.5z"/>
<path d="M355.8 2041.7L358.6 2047.3L364.8 2048.3L360.3 2052.7L361.4 2058.9L355.8 2055.9L350.2 2058.9L351.3 2052.7L346.8 2048.3L353 2047.3z"/>
<path d="M361.9 2047.4L364.7 2053.1L370.9 2054L366.4 2058.4L367.5 2064.6L361.9 2061.7L356.3 2064.6L357.4 2058.4L352.8 2054L359.1 2053.1z"/>
<path d="M368 2050.1L370.7 2055.8L377 2056.7L372.5 2061.1L373.5 2067.3L368 2064.4L362.4 2067.3L363.4 2061.1L358.9 2056.7L365.2 2055.8z"/>
<path d="M374 2049.8L376.8 2055.5L383.1 2056.4L378.5 2060.8L379.6 2067L374 2064.1L368.4 2067L369.5 2060.8L365 2056.4L371.2 2055.5z"/>
<path d="M380.1 2047.1L382.9 2052.8L389.1 2053.7L384.6 2058.1L385.7 2064.3L380.1 2061.4L374.5 2064.3L375.6 2058.1L371.1 2053.7L377.3 2052.8z"/>
<path d="M386.2 2051.2L389 2056.9L395.2 2057.8L390.7 2062.2L391.8 2068.4L386.2 2065.5L380.6 2068.4L381.7 2062.2L377.1 2057.8L383.4 2056.9z"/>
<path d="M392.2 2056.4L395 2062L401.3 2062.9L396.8 2067.3L397.8 2073.6L392.2 2070.6L386.7 2073.6L387.7 2067.3L383.2 2062.9L389.5 2062z"/>
<path d="M398.3 2053.9L401.1 2059.6L407.4 2060.5L402.8 2064.9L403.9 2071.1L398.3 2068.2L392.7 2071.1L393.8 2064.9L389.3 2060.5L395.5 2059.6z"/>
<path d="M404.4 2054.3L407.2 2059.9L413.4 2060.9L408.9 2065.3L410 2071.5L404.4 2068.5L398.8 2071.5L399.9 2065.3L395.4 2060.9L401.6 2059.9z"/>
<path d="M410.5 2053L413.3 2058.7L419.5 2059.6L415 2064L416.1 2070.2L410.5 2067.3L404.9 2070.2L406 2064L401.4 2059.6L407.7 2058.7z"/>
<path d="M416.6 2057.1L419.3 2062.7L425.6 2063.7L421.1 2068.1L422.1 2074.3L416.6 2071.3L411 2074.3L412 2068.1L407.5 2063.7L413.8 2062.7z"/>
<path d="M422.6 2055.8L425.4 2061.4L431.7 2062.3L427.1 2066.7L428.2 2072.9L422.6 2070L417 2072.9L418.1 2066.7L413.6 2062.3L419.8 2061.4z"/>
<path d="M428.7 2061.7L431.5 2067.3L437.7 2068.2L433.2 2072.6L434.3 2078.8L428.7 2075.9L423.1 2078.8L424.2 2072.6L419.7 2068.2L425.9 2067.3z"/>
<path d="M434.8 2060.5L437.6 2066.2L443.8 2067.1L439.3 2071.5L440.4 2077.7L434.8 2074.8L429.2 2077.7L430.3 2071.5L425.7 2067.1L432 2066.2z"/>
<path d="M440.9 2062.2L443.6 2067.8L449.9 2068.7L445.4 2073.1L446.4 2079.3L440.9 2076.4L435.3 2079.3L436.3 2073.1L431.8 2068.7L438.1 2067.8z"/>
<path d="M446.9 2065.8L449.7 2071.4L456 2072.3L451.4 2076.7L452.5 2083L446.9 2080L441.3 2083L442.4 2076.7L437.9 2072.3L444.1 2071.4z"/>
<path d="M453 2065.5L455.8 2071.2L462 2072.1L457.5 2076.5L458.6 2082.7L453 2079.8L447.4 2082.7L448.5 2076.5L444 2072.1L450.2 2071.2z"/>
<path d="M459.1 2062.8L461.9 2068.4L468.1 2069.3L463.6 2073.7L464.7 2080L459.1 2077L453.5 2080L454.6 2073.7L450 2069.3L456.3 2068.4z"/>
<path d="M465.1 2062.9L467.9 2068.5L474.2 2069.4L469.7 2073.8L470.7 2080L465.1 2077.1L459.6 2080L460.6 2073.8L456.1 2069.4L462.4 2068.5z"/>
<path d="M471.2 2066.3L474 2072L480.3 2072.9L475.7 2077.3L476.8 2083.5L471.2 2080.6L465.6 2083.5L466.7 2077.3L462.2 2072.9L468.4 2072z"/>
<path d="M477.3 2064.9L480.1 2070.6L486.3 2071.5L481.8 2075.9L482.9 2082.1L477.3 2079.2L471.7 2082.1L472.8 2075.9L468.3 2071.5L474.5 2070.6z"/>
<path d="M483.4 2065.1L486.2 2070.8L492.4 2071.7L487.9 2076.1L489 2082.3L483.4 2079.4L477.8 2082.3L478.9 2076.1L474.3 2071.7L480.6 2070.8z"/>
<path d="M489.5 2065.6L492.2 2071.2L498.5 2072.1L494 2076.5L495 2082.7L489.5 2079.8L483.9 2082.7L484.9 2076.5L480.4 2072.1L486.7 2071.2z"/>
<path d="M495.5 2067.2L498.3 2072.9L504.6 2073.8L500 2078.2L501.1 2084.4L495.5 2081.5L489.9 2084.4L491 2078.2L486.5 2073.8L492.7 2072.9z"/>
<path d="M501.6 2068L504.4 2073.7L510.6 2074.6L506.1 2079L507.2 2085.2L501.6 2082.2L496 2085.2L497.1 2079L492.6 2074.6L498.8 2073.7z"/>
<path d="M507.7 2070.8L510.5 2076.5L516.7 2077.4L512.2 2081.8L513.3 2088L507.7 2085L502.1 2088L503.2 2081.8L498.6 2077.4L504.9 2076.5z"/>
<path d="M513.8 2070.5L516.5 2076.1L522.8 2077L518.3 2081.4L519.3 2087.6L513.8 2084.7L508.2 2087.6L509.2 2081.4L504.7 2077L511 2076.1z"/>
<path d="M519.8 2070.3L522.6 2076L528.9 2076.9L524.3 2081.3L525.4 2087.5L519.8 2084.6L514.2 2087.5L515.3 2081.3L510.8 2076.9L517 2076z"/>
<path d="M525.9 2072.3L528.7 2077.9L534.9 2078.9L530.4 2083.3L531.5 2089.5L525.9 2086.5L520.3 2089.5L521.4 2083.3L516.9 2078.9L523.1 2077.9z"/>
<path d="M532 2072L534.8 2077.7L541 2078.6L536.5 2083L537.6 2089.2L532 2086.3L526.4 2089.2L527.5 2083L522.9 2078.6L529.2 2077.7z"/>
<path d="M538 2071.2L540.8 2076.9L547.1 2077.8L542.6 2082.2L543.6 2088.4L538 2085.5L532.5 2088.4L533.5 2082.2L529 2077.8L535.3 2076.9z"/>
<path d="M544.1 2071L546.9 2076.6L553.2 2077.5L548.6 2082L549.7 2088.2L544.1 2085.2L538.5 2088.2L539.6 2082L535.1 2077.5L541.3 2076.6z"/>
<path d="M550.2 2069.4L553 2075L559.2 2076L554.7 2080.4L555.8 2086.6L550.2 2083.6L544.6 2086.6L545.7 2080.4L541.2 2076L547.4 2075z"/>
<path d="M556.3 2073.2L559.1 2078.8L565.3 2079.7L560.8 2084.1L561.9 2090.3L556.3 2087.4L550.7 2090.3L551.8 2084.1L547.2 2079.7L553.5 2078.8z"/>
<path d="M562.4 2073.2L565.1 2078.8L571.4 2079.7L566.9 2084.1L567.9 2090.4L562.4 2087.4L556.8 2090.4L557.8 2084.1L553.3 2079.7L559.6 2078.8z"/>
<path d="M568.4 2072L571.2 2077.7L577.5 2078.6L572.9 2083L574 2089.2L568.4 2086.3L562.8 2089.2L563.9 2083L559.4 2078.6L565.6 2077.7z"/>
<path d="M574.5 2073.1L577.3 2078.7L583.5 2079.6L579 2084L580.1 2090.3L574.5 2087.3L568.9 2090.3L570 2084L565.5 2079.6L571.7 2078.7z"/>
<path d="M580.6 2072.1L583.4 2077.8L589.6 2078.7L585.1 2083.1L586.2 2089.3L580.6 2086.4L575 2089.3L576.1 2083.1L571.5 2078.7L577.8 2077.8z"/>
<path d="M586.7 2073.6L589.4 2079.2L595.7 2080.1L591.2 2084.5L592.2 2090.8L586.7 2087.8L581.1 2090.8L582.1 2084.5L577.6 2080.1L583.9 2079.2z"/>
<path d="M592.7 2070.9L595.5 2076.5L601.8 2077.5L597.2 2081.9L598.3 2088.1L592.7 2085.1L587.1 2088.1L588.2 2081.9L583.7 2077.5L589.9 2076.5z"/>
<path d="M598.8 2073L601.6 2078.7L607.8 2079.6L603.3 2084L604.4 2090.2L598.8 2087.3L593.2 2090.2L594.3 2084L589.8 2079.6L596 2078.7z"/>
<path d="M604.9 2075.6L607.7 2081.2L613.9 2082.1L609.4 2086.5L610.5 2092.8L604.9 2089.8L599.3 2092.8L600.4 2086.5L595.8 2082.1L602.1 2081.2z"/>
<path d="M611 2072.8L613.7 2078.4L620 2079.3L615.5 2083.7L616.5 2089.9L611 2087L605.4 2089.9L606.4 2083.7L601.9 2079.3L608.2 2078.4z"/>
<path d="M617 2070.2L619.8 2075.9L626.1 2076.8L621.5 2081.2L622.6 2087.4L617 2084.5L611.4 2087.4L612.5 2081.2L608 2076.8L614.2 2075.9z"/>
<path d="M623.1 2076.7L625.9 2082.4L632.1 2083.3L627.6 2087.7L628.7 2093.9L623.1 2091L617.5 2093.9L618.6 2087.7L614.1 2083.3L620.3 2082.4z"/>
<path d="M629.2 2075.3L632 2080.9L638.2 2081.8L633.7 2086.2L634.8 2092.4L629.2 2089.5L623.6 2092.4L624.7 2086.2L620.1 2081.8L626.4 2080.9z"/>
<path d="M635.2 2074.6L638 2080.2L644.3 2081.1L639.8 2085.5L640.8 2091.7L635.2 2088.8L629.7 2091.7L630.7 2085.5L626.2 2081.1L632.5 2080.2z"/>
<path d="M641.3 2072.6L644.1 2078.3L650.4 2079.2L645.8 2083.6L646.9 2089.8L641.3 2086.8L635.7 2089.8L636.8 2083.6L632.3 2079.2L638.5 2078.3z"/>
<path d="M647.4 2071.2L650.2 2076.8L656.4 2077.7L651.9 2082.1L653 2088.4L647.4 2085.4L641.8 2088.4L642.9 2082.1L638.4 2077.7L644.6 2076.8z"/>
<path d="M653.5 2074.1L656.3 2079.8L662.5 2080.7L658 2085.1L659.1 2091.3L653.5 2088.4L647.9 2091.3L649 2085.1L644.4 2080.7L650.7 2079.8z"/>
<path d="M659.5 2077.9L662.3 2083.5L668.6 2084.4L664.1 2088.8L665.1 2095L659.5 2092.1L654 2095L655 2088.8L650.5 2084.4L656.8 2083.5z"/>
<path d="M665.6 2074.7L668.4 2080.3L674.7 2081.2L670.1 2085.7L671.2 2091.9L665.6 2088.9L660 2091.9L661.1 2085.7L656.6 2081.2L662.8 2080.3z"/>
<path d="M671.7 2073.2L674.5 2078.8L680.7 2079.7L676.2 2084.1L677.3 2090.3L671.7 2087.4L666.1 2090.3L667.2 2084.1L662.7 2079.7L668.9 2078.8z"/>
<path d="M677.8 2073.9L680.6 2079.5L686.8 2080.4L682.3 2084.8L683.4 2091.1L677.8 2088.1L672.2 2091.1L673.3 2084.8L668.7 2080.4L675 2079.5z"/>
<path d="M683.9 2075L686.6 2080.6L692.9 2081.5L688.4 2085.9L689.4 2092.1L683.9 2089.2L678.3 2092.1L679.3 2085.9L674.8 2081.5L681.1 2080.6z"/>
<path d="M689.9 2077.1L692.7 2082.8L699 2083.7L694.4 2088.1L695.5 2094.3L689.9 2091.4L684.3 2094.3L685.4 2088.1L680.9 2083.7L687.1 2082.8z"/>
<path d="M696 2071.5L698.8 2077.1L705 2078L700.5 2082.4L701.6 2088.7L696 2085.7L690.4 2088.7L691.5 2082.4L687 2078L693.2 2077.1z"/>
<path d="M702.1 2077.1L704.9 2082.7L711.1 2083.6L706.6 2088L707.7 2094.2L702.1 2091.3L696.5 2094.2L697.6 2088L693 2083.6L699.3 2082.7z"/>
<path d="M708.2 2079.4L710.9 2085.1L717.2 2086L712.7 2090.4L713.7 2096.6L708.2 2093.7L702.6 2096.6L703.6 2090.4L699.1 2086L705.4 2085.1z"/>
<path d="M714.2 2075.4L717 2081L723.3 2081.9L718.7 2086.3L719.8 2092.5L714.2 2089.6L708.6 2092.5L709.7 2086.3L705.2 2081.9L711.4 2081z"/>
<path d="M720.3 2075.6L723.1 2081.2L729.3 2082.2L724.8 2086.6L725.9 2092.8L720.3 2089.8L714.7 2092.8L715.8 2086.6L711.3 2082.2L717.5 2081.2z"/>
<path d="M726.4 2074.9L729.2 2080.6L735.4 2081.5L730.9 2085.9L732 2092.1L726.4 2089.2L720.8 2092.1L721.9 2085.9L717.3 2081.5L723.6 2080.6z"/>
<path d="M732.5 2075.4L735.2 2081.1L741.5 2082L737 2086.4L738 2092.6L732.5 2089.7L726.9 2092.6L727.9 2086.4L723.4 2082L729.7 2081.1z"/>
<path d="M738.5 2073L741.3 2078.7L747.6 2079.6L743 2084L744.1 2090.2L738.5 2087.3L732.9 2090.2L734 2084L729.5 2079.6L735.7 2078.7z"/>
<path d="M744.6 2072.9L747.4 2078.5L753.6 2079.5L749.1 2083.9L750.2 2090.1L744.6 2087.1L739 2090.1L740.1 2083.9L735.6 2079.5L741.8 2078.5z"/>
<path d="M750.7 2076.8L753.5 2082.5L759.7 2083.4L755.2 2087.8L756.3 2094L750.7 2091.1L745.1 2094L746.2 2087.8L741.6 2083.4L747.9 2082.5z"/>
<path d="M756.8 2075L759.5 2080.6L765.8 2081.6L761.3 2086L762.3 2092.2L756.8 2089.2L751.2 2092.2L752.2 2086L747.7 2081.6L754 2080.6z"/>
<path d="M762.8 2078.8L765.6 2084.5L771.9 2085.4L767.3 2089.8L768.4 2096L762.8 2093.1L757.2 2096L758.3 2089.8L753.8 2085.4L760 2084.5z"/>
<path d="M768.9 2081.1L771.7 2086.7L777.9 2087.6L773.4 2092L774.5 2098.2L768.9 2095.3L763.3 2098.2L764.4 2092L759.9 2087.6L766.1 2086.7z"/>
<path d="M775 2076.1L777.8 2081.7L784 2082.6L779.5 2087L780.6 2093.2L775 2090.3L769.4 2093.2L770.5 2087L765.9 2082.6L772.2 2081.7z"/>
<path d="M781 2077.8L783.8 2083.5L790.1 2084.4L785.6 2088.8L786.6 2095L781 2092.1L775.5 2095L776.5 2088.8L772 2084.4L778.3 2083.5z"/>
<path d="M787.1 2081.8L789.9 2087.5L796.2 2088.4L791.6 2092.8L792.7 2099L787.1 2096.1L781.5 2099L782.6 2092.8L778.1 2088.4L784.3 2087.5z"/>
<path d="M793.2 2078.9L796 2084.6L802.2 2085.5L797.7 2089.9L798.8 2096.1L793.2 2093.2L787.6 2096.1L788.7 2089.9L784.2 2085.5L790.4 2084.6z"/>
<path d="M799.3 2079.4L802.1 2085L808.3 2085.9L803.8 2090.3L804.9 2096.5L799.3 2093.6L793.7 2096.5L794.8 2090.3L790.2 2085.9L796.5 2085z"/>
<path d="M805.4 2077.3L808.1 2082.9L814.4 2083.8L809.9 2088.2L810.9 2094.4L805.4 2091.5L799.8 2094.4L800.8 2088.2L796.3 2083.8L802.6 2082.9z"/>
<path d="M811.4 2077.8L814.2 2083.5L820.5 2084.4L815.9 2088.8L817 2095L811.4 2092L805.8 2095L806.9 2088.8L802.4 2084.4L808.6 2083.5z"/>
<path d="M817.5 2079.4L820.3 2085.1L826.5 2086L822 2090.4L823.1 2096.6L817.5 2093.7L811.9 2096.6L813 2090.4L808.5 2086L814.7 2085.1z"/>
<path d="M823.6 2079.9L826.4 2085.5L832.6 2086.4L828.1 2090.8L829.2 2097.1L823.6 2094.1L818 2097.1L819.1 2090.8L814.5 2086.4L820.8 2085.5z"/>
<path d="M829.7 2077.2L832.4 2082.8L838.7 2083.7L834.2 2088.1L835.2 2094.3L829.7 2091.4L824.1 2094.3L825.1 2088.1L820.6 2083.7L826.9 2082.8z"/>
<path d="M835.7 2079.7L838.5 2085.4L844.8 2086.3L840.2 2090.7L841.3 2096.9L835.7 2094L830.1 2096.9L831.2 2090.7L826.7 2086.3L832.9 2085.4z"/>
<path d="M841.8 2078.5L844.6 2084.2L850.8 2085.1L846.3 2089.5L847.4 2095.7L841.8 2092.8L836.2 2095.7L837.3 2089.5L832.8 2085.1L839 2084.2z"/>
<path d="M847.9 2080.4L850.7 2086L856.9 2086.9L852.4 2091.3L853.5 2097.6L847.9 2094.6L842.3 2097.6L843.4 2091.3L838.8 2086.9L845.1 2086z"/>
<path d="M854 2078.2L856.7 2083.8L863 2084.7L858.5 2089.1L859.5 2095.3L854 2092.4L848.4 2095.3L849.4 2089.1L844.9 2084.7L851.2 2083.8z"/>
<path d="M860 2074.9L862.8 2080.6L869.1 2081.5L864.5 2085.9L865.6 2092.1L860 2089.2L854.4 2092.1L855.5 2085.9L851 2081.5L857.2 2080.6z"/>
<path d="M866.1 2076.4L868.9 2082L875.1 2082.9L870.6 2087.3L871.7 2093.6L866.1 2090.6L860.5 2093.6L861.6 2087.3L857.1 2082.9L863.3 2082z"/>
<path d="M872.2 2075.8L875 2081.4L881.2 2082.4L876.7 2086.8L877.8 2093L872.2 2090L866.6 2093L867.7 2086.8L863.1 2082.4L869.4 2081.4z"/>
<path d="M878.2 2077L881 2082.6L887.3 2083.5L882.8 2087.9L883.8 2094.2L878.2 2091.2L872.7 2094.2L873.7 2087.9L869.2 2083.5L875.5 2082.6z"/>
<path d="M884.3 2080.2L887.1 2085.8L893.4 2086.7L888.8 2091.1L889.9 2097.4L884.3 2094.4L878.7 2097.4L879.8 2091.1L875.3 2086.7L881.5 2085.8z"/>
<path d="M890.4 2079.9L893.2 2085.5L899.4 2086.4L894.9 2090.8L896 2097.1L890.4 2094.1L884.8 2097.1L885.9 2090.8L881.4 2086.4L887.6 2085.5z"/>
<path d="M896.5 2079.1L899.3 2084.8L905.5 2085.7L901 2090.1L902.1 2096.3L896.5 2093.4L890.9 2096.3L892 2090.1L887.4 2085.7L893.7 2084.8z"/>
<path d="M902.5 2078.2L905.3 2083.8L911.6 2084.8L907.1 2089.2L908.1 2095.4L902.5 2092.4L897 2095.4L898 2089.2L893.5 2084.8L899.8 2083.8z"/>
<path d="M908.6 2080L911.4 2085.7L917.7 2086.6L913.1 2091L914.2 2097.2L908.6 2094.3L903 2097.2L904.1 2091L899.6 2086.6L905.8 2085.7z"/>
<path d="M914.7 2078.2L917.5 2083.9L923.7 2084.8L919.2 2089.2L920.3 2095.4L914.7 2092.5L909.1 2095.4L910.2 2089.2L905.7 2084.8L911.9 2083.9z"/>
<path d="M920.8 2080.4L923.6 2086L929.8 2086.9L925.3 2091.3L926.4 2097.6L920.8 2094.6L915.2 2097.6L916.3 2091.3L911.7 2086.9L918 2086z"/>
<path d="M926.9 2079.5L929.6 2085.2L935.9 2086.1L931.4 2090.5L932.4 2096.7L926.9 2093.8L921.3 2096.7L922.3 2090.5L917.8 2086.1L924.1 2085.2z"/>
<path d="M932.9 2079.5L935.7 2085.1L942 2086L937.4 2090.4L938.5 2096.6L932.9 2093.7L927.3 2096.6L928.4 2090.4L923.9 2086L930.1 2085.1z"/>
<path d="M939 2081.7L941.8 2087.4L948 2088.3L943.5 2092.7L944.6 2098.9L939 2096L933.4 2098.9L934.5 2092.7L930 2088.3L936.2 2087.4z"/>
<path d="M945.1 2078.2L947.9 2083.9L954.1 2084.8L949.6 2089.2L950.7 2095.4L945.1 2092.5L939.5 2095.4L940.6 2089.2L936 2084.8L942.3 2083.9z"/>
<path d="M951.2 2079.1L953.9 2084.8L960.2 2085.7L955.7 2090.1L956.7 2096.3L951.2 2093.3L945.6 2096.3L946.6 2090.1L942.1 2085.7L948.4 2084.8z"/>
<path d="M957.2 2079.3L960 2085L966.3 2085.9L961.7 2090.3L962.8 2096.5L957.2 2093.5L951.6 2096.5L952.7 2090.3L948.2 2085.9L954.4 2085z"/>
<path d="M963.3 2079.7L966.1 2085.3L972.3 2086.2L967.8 2090.6L968.9 2096.9L963.3 2093.9L957.7 2096.9L958.8 2090.6L954.3 2086.2L960.5 2085.3z"/>
<path d="M969.4 2083.9L972.2 2089.6L978.4 2090.5L973.9 2094.9L975 2101.1L969.4 2098.2L963.8 2101.1L964.9 2094.9L960.3 2090.5L966.6 2089.6z"/>
<path d="M975.5 2083.9L978.2 2089.5L984.5 2090.4L980 2094.8L981 2101.1L975.5 2098.1L969.9 2101.1L970.9 2094.8L966.4 2090.4L972.7 2089.5z"/>
<path d="M981.5 2082.9L984.3 2088.6L990.6 2089.5L986 2093.9L987.1 2100.1L981.5 2097.2L975.9 2100.1L977 2093.9L972.5 2089.5L978.7 2088.6z"/>
<path d="M987.6 2078.9L990.4 2084.6L996.6 2085.5L992.1 2089.9L993.2 2096.1L987.6 2093.2L982 2096.1L983.1 2089.9L978.6 2085.5L984.8 2084.6z"/>
<path d="M993.7 2080.9L996.5 2086.6L1002.7 2087.5L998.2 2091.9L999.3 2098.1L993.7 2095.1L988.1 2098.1L989.2 2091.9L984.6 2087.5L990.9 2086.6z"/>
<path d="M999.8 2079.2L1002.5 2084.9L1008.8 2085.8L1004.3 2090.2L1005.3 2096.4L999.8 2093.5L994.2 2096.4L995.2 2090.2L990.7 2085.8L997 2084.9z"/>
<path d="M1005.8 2081.8L1008.6 2087.5L1014.9 2088.4L1010.3 2092.8L1011.4 2099L1005.8 2096.1L1000.2 2099L1001.3 2092.8L996.8 2088.4L1003 2087.5z"/>
<path d="M1011.9 2082.2L1014.7 2087.8L1020.9 2088.8L1016.4 2093.2L1017.5 2099.4L1011.9 2096.4L1006.3 2099.4L1007.4 2093.2L1002.9 2088.8L1009.1 2087.8z"/>
<path d="M1018 2081.5L1020.8 2087.2L1027 2088.1L1022.5 2092.5L1023.6 2098.7L1018 2095.8L1012.4 2098.7L1013.5 2092.5L1008.9 2088.1L1015.2 2087.2z"/>
<path d="M1024 2078.2L1026.8 2083.9L1033.1 2084.8L1028.6 2089.2L1029.6 2095.4L1024 2092.5L1018.5 2095.4L1019.5 2089.2L1015 2084.8L1021.3 2083.9z"/>
<path d="M1030.1 2082.5L1032.9 2088.2L1039.2 2089.1L1034.6 2093.5L1035.7 2099.7L1030.1 2096.8L1024.5 2099.7L1025.6 2093.5L1021.1 2089.1L1027.3 2088.2z"/>
<path d="M1036.2 2080.9L1039 2086.5L1045.2 2087.4L1040.7 2091.8L1041.8 2098.1L1036.2 2095.1L1030.6 2098.1L1031.7 2091.8L1027.2 2087.4L1033.4 2086.5z"/>
<path d="M1042.3 2079.2L1045.1 2084.8L1051.3 2085.7L1046.8 2090.1L1047.9 2096.4L1042.3 2093.4L1036.7 2096.4L1037.8 2090.1L1033.2 2085.7L1039.5 2084.8z"/>
<path d="M1048.4 2079.1L1051.1 2084.8L1057.4 2085.7L1052.9 2090.1L1053.9 2096.3L1048.4 2093.4L1042.8 2096.3L1043.8 2090.1L1039.3 2085.7L1045.6 2084.8z"/>
<path d="M1054.4 2079.4L1057.2 2085L1063.5 2085.9L1058.9 2090.3L1060 2096.6L1054.4 2093.6L1048.8 2096.6L1049.9 2090.3L1045.4 2085.9L1051.6 2085z"/>
<path d="M1060.5 2077.8L1063.3 2083.5L1069.5 2084.4L1065 2088.8L1066.1 2095L1060.5 2092.1L1054.9 2095L1056 2088.8L1051.5 2084.4L1057.7 2083.5z"/>
<path d="M1066.6 2078.3L1069.4 2083.9L1075.6 2084.8L1071.1 2089.2L1072.2 2095.5L1066.6 2092.5L1061 2095.5L1062.1 2089.2L1057.5 2084.8L1063.8 2083.9z"/>
<path d="M1072.7 2080.9L1075.4 2086.6L1081.7 2087.5L1077.2 2091.9L1078.2 2098.1L1072.7 2095.1L1067.1 2098.1L1068.1 2091.9L1063.6 2087.5L1069.9 2086.6z"/>
<path d="M1078.7 2078.4L1081.5 2084.1L1087.8 2085L1083.2 2089.4L1084.3 2095.6L1078.7 2092.6L1073.1 2095.6L1074.2 2089.4L1069.7 2085L1075.9 2084.1z"/>
<path d="M1084.8 2080.4L1087.6 2086L1093.8 2086.9L1089.3 2091.4L1090.4 2097.6L1084.8 2094.6L1079.2 2097.6L1080.3 2091.4L1075.8 2086.9L1082 2086z"/>
<path d="M1090.9 2080.1L1093.7 2085.7L1099.9 2086.6L1095.4 2091L1096.5 2097.2L1090.9 2094.3L1085.3 2097.2L1086.4 2091L1081.8 2086.6L1088.1 2085.7z"/>
<path d="M1097 2076.4L1099.7 2082L1106 2082.9L1101.5 2087.3L1102.5 2093.6L1097 2090.6L1091.4 2093.6L1092.4 2087.3L1087.9 2082.9L1094.2 2082z"/>
<path d="M1103 2073.3L1105.8 2078.9L1112.1 2079.8L1107.5 2084.2L1108.6 2090.4L1103 2087.5L1097.4 2090.4L1098.5 2084.2L1094 2079.8L1100.2 2078.9z"/>
<path d="M1109.1 2074.2L1111.9 2079.9L1118.1 2080.8L1113.6 2085.2L1114.7 2091.4L1109.1 2088.5L1103.5 2091.4L1104.6 2085.2L1100.1 2080.8L1106.3 2079.9z"/>
<path d="M1115.2 2076.5L1118 2082.1L1124.2 2083L1119.7 2087.4L1120.8 2093.7L1115.2 2090.7L1109.6 2093.7L1110.7 2087.4L1106.1 2083L1112.4 2082.1z"/>
<path d="M1121.2 2079.5L1124 2085.1L1130.3 2086L1125.8 2090.4L1126.8 2096.7L1121.2 2093.7L1115.7 2096.7L1116.7 2090.4L1112.2 2086L1118.5 2085.1z"/>
<path d="M1127.3 2080.3L1130.1 2085.9L1136.4 2086.8L1131.8 2091.3L1132.9 2097.5L1127.3 2094.5L1121.7 2097.5L1122.8 2091.3L1118.3 2086.8L1124.5 2085.9z"/>
<path d="M1133.4 2075.7L1136.2 2081.4L1142.4 2082.3L1137.9 2086.7L1139 2092.9L1133.4 2089.9L1127.8 2092.9L1128.9 2086.7L1124.4 2082.3L1130.6 2081.4z"/>
<path d="M1139.5 2076.9L1142.3 2082.5L1148.5 2083.5L1144 2087.9L1145.1 2094.1L1139.5 2091.1L1133.9 2094.1L1135 2087.9L1130.4 2083.5L1136.7 2082.5z"/>
<path d="M1145.5 2080.6L1148.3 2086.2L1154.6 2087.1L1150.1 2091.6L1151.1 2097.8L1145.5 2094.8L1140 2097.8L1141 2091.6L1136.5 2087.1L1142.8 2086.2z"/>
<path d="M1151.6 2075.8L1154.4 2081.5L1160.7 2082.4L1156.1 2086.8L1157.2 2093L1151.6 2090.1L1146 2093L1147.1 2086.8L1142.6 2082.4L1148.8 2081.5z"/>
<path d="M1157.7 2076.3L1160.5 2081.9L1166.7 2082.8L1162.2 2087.2L1163.3 2093.5L1157.7 2090.5L1152.1 2093.5L1153.2 2087.2L1148.7 2082.8L1154.9 2081.9z"/>
<path d="M1163.8 2074.9L1166.6 2080.6L1172.8 2081.5L1168.3 2085.9L1169.4 2092.1L1163.8 2089.2L1158.2 2092.1L1159.3 2085.9L1154.7 2081.5L1161 2080.6z"/>
<path d="M1169.9 2076.3L1172.6 2081.9L1178.9 2082.8L1174.4 2087.2L1175.4 2093.4L1169.9 2090.5L1164.3 2093.4L1165.3 2087.2L1160.8 2082.8L1167.1 2081.9z"/>
<path d="M1175.9 2081.6L1178.7 2087.3L1185 2088.2L1180.4 2092.6L1181.5 2098.8L1175.9 2095.9L1170.3 2098.8L1171.4 2092.6L1166.9 2088.2L1173.1 2087.3z"/>
<path d="M1182 2080.4L1184.8 2086.1L1191 2087L1186.5 2091.4L1187.6 2097.6L1182 2094.7L1176.4 2097.6L1177.5 2091.4L1173 2087L1179.2 2086.1z"/>
<path d="M1188.1 2078.8L1190.9 2084.5L1197.1 2085.4L1192.6 2089.8L1193.7 2096L1188.1 2093.1L1182.5 2096L1183.6 2089.8L1179 2085.4L1185.3 2084.5z"/>
<path d="M1194.2 2078.3L1196.9 2084L1203.2 2084.9L1198.7 2089.3L1199.7 2095.5L1194.2 2092.6L1188.6 2095.5L1189.6 2089.3L1185.1 2084.9L1191.4 2084z"/>
<path d="M1200.2 2074.8L1203 2080.5L1209.3 2081.4L1204.7 2085.8L1205.8 2092L1200.2 2089.1L1194.6 2092L1195.7 2085.8L1191.2 2081.4L1197.4 2080.5z"/>
<path d="M1206.3 2078L1209.1 2083.7L1215.3 2084.6L1210.8 2089L1211.9 2095.2L1206.3 2092.3L1200.7 2095.2L1201.8 2089L1197.3 2084.6L1203.5 2083.7z"/>
<path d="M1212.4 2077.8L1215.2 2083.5L1221.4 2084.4L1216.9 2088.8L1218 2095L1212.4 2092.1L1206.8 2095L1207.9 2088.8L1203.3 2084.4L1209.6 2083.5z"/>
<path d="M1218.5 2077.6L1221.2 2083.3L1227.5 2084.2L1223 2088.6L1224 2094.8L1218.5 2091.9L1212.9 2094.8L1213.9 2088.6L1209.4 2084.2L1215.7 2083.3z"/>
<path d="M1224.5 2077.6L1227.3 2083.2L1233.6 2084.1L1229 2088.5L1230.1 2094.8L1224.5 2091.8L1218.9 2094.8L1220 2088.5L1215.5 2084.1L1221.7 2083.2z"/>
<path d="M1230.6 2079.4L1233.4 2085L1239.6 2085.9L1235.1 2090.3L1236.2 2096.6L1230.6 2093.6L1225 2096.6L1226.1 2090.3L1221.6 2085.9L1227.8 2085z"/>
<path d="M1236.7 2080.2L1239.5 2085.9L1245.7 2086.8L1241.2 2091.2L1242.3 2097.4L1236.7 2094.5L1231.1 2097.4L1232.2 2091.2L1227.6 2086.8L1233.9 2085.9z"/>
<path d="M1242.8 2083.1L1245.5 2088.7L1251.8 2089.7L1247.3 2094.1L1248.3 2100.3L1242.8 2097.3L1237.2 2100.3L1238.2 2094.1L1233.7 2089.7L1240 2088.7z"/>
<path d="M1248.8 2078.2L1251.6 2083.8L1257.9 2084.7L1253.3 2089.1L1254.4 2095.4L1248.8 2092.4L1243.2 2095.4L1244.3 2089.1L1239.8 2084.7L1246 2083.8z"/>
<path d="M1254.9 2077.7L1257.7 2083.4L1263.9 2084.3L1259.4 2088.7L1260.5 2094.9L1254.9 2091.9L1249.3 2094.9L1250.4 2088.7L1245.9 2084.3L1252.1 2083.4z"/>
<path d="M1261 2076.7L1263.8 2082.4L1270 2083.3L1265.5 2087.7L1266.6 2093.9L1261 2091L1255.4 2093.9L1256.5 2087.7L1251.9 2083.3L1258.2 2082.4z"/>
<path d="M1267 2078.8L1269.8 2084.5L1276.1 2085.4L1271.6 2089.8L1272.6 2096L1267 2093.1L1261.5 2096L1262.5 2089.8L1258 2085.4L1264.3 2084.5z"/>
<path d="M1273.1 2077.3L1275.9 2083L1282.2 2083.9L1277.6 2088.3L1278.7 2094.5L1273.1 2091.6L1267.5 2094.5L1268.6 2088.3L1264.1 2083.9L1270.3 2083z"/>
<path d="M1279.2 2078.8L1282 2084.4L1288.2 2085.3L1283.7 2089.7L1284.8 2095.9L1279.2 2093L1273.6 2095.9L1274.7 2089.7L1270.2 2085.3L1276.4 2084.4z"/>
<path d="M1285.3 2079.2L1288.1 2084.9L1294.3 2085.8L1289.8 2090.2L1290.9 2096.4L1285.3 2093.5L1279.7 2096.4L1280.8 2090.2L1276.2 2085.8L1282.5 2084.9z"/>
<path d="M1291.3 2076.6L1294.1 2082.3L1300.4 2083.2L1295.9 2087.6L1296.9 2093.8L1291.3 2090.9L1285.8 2093.8L1286.8 2087.6L1282.3 2083.2L1288.6 2082.3z"/>
<path d="M1297.4 2075.2L1300.2 2080.9L1306.5 2081.8L1301.9 2086.2L1303 2092.4L1297.4 2089.5L1291.8 2092.4L1292.9 2086.2L1288.4 2081.8L1294.6 2080.9z"/>
<path d="M1303.5 2074.9L1306.3 2080.5L1312.5 2081.4L1308 2085.8L1309.1 2092L1303.5 2089.1L1297.9 2092L1299 2085.8L1294.5 2081.4L1300.7 2080.5z"/>
<path d="M1309.6 2075.9L1312.4 2081.6L1318.6 2082.5L1314.1 2086.9L1315.2 2093.1L1309.6 2090.2L1304 2093.1L1305.1 2086.9L1300.5 2082.5L1306.8 2081.6z"/>
<path d="M1315.7 2076.9L1318.4 2082.5L1324.7 2083.4L1320.2 2087.8L1321.2 2094L1315.7 2091.1L1310.1 2094L1311.1 2087.8L1306.6 2083.4L1312.9 2082.5z"/>
<path d="M1321.7 2073.6L1324.5 2079.2L1330.8 2080.1L1326.2 2084.6L1327.3 2090.8L1321.7 2087.8L1316.1 2090.8L1317.2 2084.6L1312.7 2080.1L1318.9 2079.2z"/>
<path d="M1327.8 2072.8L1330.6 2078.5L1336.8 2079.4L1332.3 2083.8L1333.4 2090L1327.8 2087.1L1322.2 2090L1323.3 2083.8L1318.8 2079.4L1325 2078.5z"/>
<path d="M1333.9 2076.3L1336.7 2081.9L1342.9 2082.8L1338.4 2087.2L1339.5 2093.5L1333.9 2090.5L1328.3 2093.5L1329.4 2087.2L1324.8 2082.8L1331.1 2081.9z"/>
<path d="M1340 2078.1L1342.7 2083.8L1349 2084.7L1344.5 2089.1L1345.5 2095.3L1340 2092.4L1334.4 2095.3L1335.4 2089.1L1330.9 2084.7L1337.2 2083.8z"/>
<path d="M1346 2075.8L1348.8 2081.4L1355.1 2082.3L1350.5 2086.7L1351.6 2093L1346 2090L1340.4 2093L1341.5 2086.7L1337 2082.3L1343.2 2081.4z"/>
<path d="M1352.1 2075.1L1354.9 2080.8L1361.1 2081.7L1356.6 2086.1L1357.7 2092.3L1352.1 2089.4L1346.5 2092.3L1347.6 2086.1L1343.1 2081.7L1349.3 2080.8z"/>
<path d="M1358.2 2077.3L1361 2083L1367.2 2083.9L1362.7 2088.3L1363.8 2094.5L1358.2 2091.5L1352.6 2094.5L1353.7 2088.3L1349.1 2083.9L1355.4 2083z"/>
<path d="M1364.2 2071.6L1367 2077.3L1373.3 2078.2L1368.8 2082.6L1369.8 2088.8L1364.2 2085.9L1358.7 2088.8L1359.7 2082.6L1355.2 2078.2L1361.5 2077.3z"/>
<path d="M1370.3 2078.5L1373.1 2084.1L1379.4 2085L1374.8 2089.4L1375.9 2095.6L1370.3 2092.7L1364.7 2095.6L1365.8 2089.4L1361.3 2085L1367.5 2084.1z"/>
<path d="M1376.4 2078L1379.2 2083.6L1385.4 2084.5L1380.9 2089L1382 2095.2L1376.4 2092.2L1370.8 2095.2L1371.9 2089L1367.4 2084.5L1373.6 2083.6z"/>
<path d="M1382.5 2075.7L1385.3 2081.3L1391.5 2082.2L1387 2086.6L1388.1 2092.9L1382.5 2089.9L1376.9 2092.9L1378 2086.6L1373.4 2082.2L1379.7 2081.3z"/>
<path d="M1388.5 2073.5L1391.3 2079.1L1397.6 2080L1393.1 2084.4L1394.1 2090.6L1388.5 2087.7L1383 2090.6L1384 2084.4L1379.5 2080L1385.8 2079.1z"/>
<path d="M1394.6 2078.3L1397.4 2084L1403.7 2084.9L1399.1 2089.3L1400.2 2095.5L1394.6 2092.6L1389 2095.5L1390.1 2089.3L1385.6 2084.9L1391.8 2084z"/>
<path d="M1400.7 2077L1403.5 2082.6L1409.7 2083.5L1405.2 2087.9L1406.3 2094.1L1400.7 2091.2L1395.1 2094.1L1396.2 2087.9L1391.7 2083.5L1397.9 2082.6z"/>
<path d="M1406.8 2072.8L1409.6 2078.5L1415.8 2079.4L1411.3 2083.8L1412.4 2090L1406.8 2087.1L1401.2 2090L1402.3 2083.8L1397.7 2079.4L1404 2078.5z"/>
<path d="M1412.8 2071.6L1415.6 2077.2L1421.9 2078.1L1417.4 2082.5L1418.4 2088.8L1412.8 2085.8L1407.3 2088.8L1408.3 2082.5L1403.8 2078.1L1410.1 2077.2z"/>
<path d="M1418.9 2074.4L1421.7 2080.1L1428 2081L1423.4 2085.4L1424.5 2091.6L1418.9 2088.7L1413.3 2091.6L1414.4 2085.4L1409.9 2081L1416.1 2080.1z"/>
<path d="M1425 2074.6L1427.8 2080.3L1434 2081.2L1429.5 2085.6L1430.6 2091.8L1425 2088.9L1419.4 2091.8L1420.5 2085.6L1416 2081.2L1422.2 2080.3z"/>
<path d="M1431.1 2076.5L1433.9 2082.1L1440.1 2083L1435.6 2087.4L1436.7 2093.7L1431.1 2090.7L1425.5 2093.7L1426.6 2087.4L1422 2083L1428.3 2082.1z"/>
<path d="M1437.2 2074.4L1439.9 2080.1L1446.2 2081L1441.7 2085.4L1442.7 2091.6L1437.2 2088.7L1431.6 2091.6L1432.6 2085.4L1428.1 2081L1434.4 2080.1z"/>
<path d="M1443.2 2076.6L1446 2082.3L1452.3 2083.2L1447.7 2087.6L1448.8 2093.8L1443.2 2090.9L1437.6 2093.8L1438.7 2087.6L1434.2 2083.2L1440.4 2082.3z"/>
<path d="M1449.3 2079.2L1452.1 2084.8L1458.3 2085.7L1453.8 2090.1L1454.9 2096.4L1449.3 2093.4L1443.7 2096.4L1444.8 2090.1L1440.3 2085.7L1446.5 2084.8z"/>
</g>
<path d="M240.4 1815.7 246.5 2061.7 252.5 2066.6 258.6 2068.2 264.7 2071.8 270.8 2075.2 276.8 2078.5 282.9 2081.1 289 2083.9 295.1 2085.5 301.1 2087.7 307.2 2088.9 313.3 2092.2 319.4 2093.8 325.4 2095.7 331.5 2095.3 337.6 2096.4 343.7 2098.7 349.7 2100.3 355.8 2101.1 361.9 2100.4 368 2102 374 2103.3 380.1 2104.9 386.2 2105.2 392.2 2103.9 398.3 2106.4 404.4 2107.3 410.5 2105.9 416.6 2107 422.6 2109.8 428.7 2108.7 434.8 2111 440.9 2109.9 446.9 2113 453 2112.5 459.1 2110.4 465.1 2111.6 471.2 2112.2 477.3 2111.7 483.4 2111.8 489.5 2112.5 495.5 2113.1 501.6 2110.8 507.7 2110.6 513.8 2111.9 519.8 2114.1 525.9 2114.2 532 2114 538 2113.2 544.1 2111.7 550.2 2113.6 556.3 2113.5 562.4 2114.2 568.4 2113.8 574.5 2114.6 580.6 2113.7 586.7 2112.7 592.7 2114.1 598.8 2114.5 604.9 2114.1 611 2115.6 617 2112.8 623.1 2115.3 629.2 2115.1 635.2 2115.6 641.3 2113.3 647.4 2114.7 653.5 2115.2 659.5 2112.9 665.6 2114.3 671.7 2115.5 677.8 2115.1 683.9 2114.8 689.9 2115.8 696 2115.5 702.1 2115.5 708.2 2114.5 714.2 2114.2 720.3 2114.1 726.4 2115.1 732.5 2114.5 738.5 2115.4 744.6 2114.2 750.7 2114.7 756.8 2115.8 762.8 2114.3 768.9 2116.9 775 2117.1 781 2117 787.1 2116.3 793.2 2117.3 799.3 2117.6 805.4 2118.5 811.4 2116.6 817.5 2117 823.6 2114 829.7 2114.6 835.7 2116.9 841.8 2115 847.9 2115.7 854 2115 860 2117.1 866.1 2115.3 872.2 2114.9 878.2 2116.4 884.3 2117.3 890.4 2117.2 896.5 2116.4 902.5 2113.9 908.6 2113.9 914.7 2114.2 920.8 2116.2 926.9 2116.9 932.9 2116.4 939 2117 945.1 2117.4 951.2 2117.2 957.2 2116.1 963.3 2116.8 969.4 2116.7 975.5 2117.2 981.5 2117.3 987.6 2117.5 993.7 2115.9 999.8 2116.5 1005.8 2115.4 1011.9 2116.9 1018 2116 1024 2118.4 1030.1 2118.1 1036.2 2117.7 1042.3 2118.2 1048.4 2117.8 1054.4 2118.6 1060.5 2118 1066.6 2118.4 1072.7 2117.9 1078.7 2118 1084.8 2118.9 1090.9 2118.5 1097 2117.9 1103 2119.2 1109.1 2118.1 1115.2 2116.6 1121.2 2117.8 1127.3 2117.3 1133.4 2117.1 1139.5 2118.6 1145.5 2116.8 1151.6 2115 1157.7 2118.3 1163.8 2115.8 1169.9 2118.2 1175.9 2116.6 1182 2119.6 1188.1 2117.4 1194.2 2117.8 1200.2 2119.5 1206.3 2119.5 1212.4 2119.7 1218.5 2119.7 1224.5 2118.3 1230.6 2118.5 1236.7 2121.1 1242.8 2119.5 1248.8 2118.2 1254.9 2118.2 1261 2116.5 1267 2119.8 1273.1 2118.6 1279.2 2118.5 1285.3 2117.7 1291.3 2119.7 1297.4 2120.3 1303.5 2119.2 1309.6 2118.7 1315.7 2120.5 1321.7 2118.8 1327.8 2118.7 1333.9 2117.8 1340 2121.2 1346 2118.9 1352.1 2119.7 1358.2 2119.5 1364.2 2118.1 1370.3 2116.7 1376.4 2118 1382.5 2118.6 1388.5 2117.3 1394.6 2119.3 1400.7 2119.1 1406.8 2119.5 1412.8 2120.1 1418.9 2119 1425 2116.8 1431.1 2118 1437.2 2118.1 1443.2 2118.7 1449.3 2117.7" fill="none" stroke="#dd77dd" stroke-width="2.0"/>
<path d="M240.4 1825.7l10 -20h-20zM246.5 2071.7l10 -20h-20zM252.5 2076.6l10 -20h-20zM258.6 2078.2l10 -20h-20zM264.7 2081.8l10 -20h-20zM270.8 2085.2l10 -20h-20zM276.8 2088.5l10 -20h-20zM282.9 2091.1l10 -20h-20zM289 2093.9l10 -20h-20zM295.1 2095.5l10 -20h-20zM301.1 2097.7l10 -20h-20zM307.2 2098.9l10 -20h-20zM313.3 2102.2l10 -20h-20zM319.4 2103.8l10 -20h-20zM325.4 2105.7l10 -20h-20zM331.5 2105.3l10 -20h-20zM337.6 2106.4l10 -20h-20zM343.7 2108.7l10 -20h-20zM349.7 2110.3l10 -20h-20zM355.8 2111.1l10 -20h-20zM361.9 2110.4l10 -20h-20zM368 2112l10 -20h-20zM374 2113.3l10 -20h-20zM380.1 2114.9l10 -20h-20zM386.2 2115.2l10 -20h-20zM392.2 2113.9l10 -20h-20zM398.3 2116.4l10 -20h-20zM404.4 2117.3l10 -20h-20zM410.5 2115.9l10 -20h-20zM416.6 2117l10 -20h-20zM422.6 2119.8l10 -20h-20zM428.7 2118.7l10 -20h-20zM434.8 2121l10 -20h-20zM440.9 2119.9l10 -20h-20zM446.9 2123l10 -20h-20zM453 2122.5l10 -20h-20zM459.1 2120.4l10 -20h-20zM465.1 2121.6l10 -20h-20zM471.2 2122.2l10 -20h-20zM477.3 2121.7l10 -20h-20zM483.4 2121.8l10 -20h-20zM489.5 2122.5l10 -20h-20zM495.5 2123.1l10 -20h-20zM501.6 2120.8l10 -20h-20zM507.7 2120.6l10 -20h-20zM513.8 2121.9l10 -20h-20zM519.8 2124.1l10 -20h-20zM525.9 2124.2l10 -20h-20zM532 2124l10 -20h-20zM538 2123.2l10 -20h-20zM544.1 2121.7l10 -20h-20zM550.2 2123.6l10 -20h-20zM556.3 2123.5l10 -20h-20zM562.4 2124.2l10 -20h-20zM568.4 2123.8l10 -20h-20zM574.5 2124.6l10 -20h-20zM580.6 2123.7l10 -20h-20zM586.7 2122.7l10 -20h-20zM592.7 2124.1l10 -20h-20zM598.8 2124.5l10 -20h-20zM604.9 2124.1l10 -20h-20zM611 2125.6l10 -20h-20zM617 2122.8l10 -20h-20zM623.1 2125.3l10 -20h-20zM629.2 2125.1l10 -20h-20zM635.2 2125.6l10 -20h-20zM641.3 2123.3l10 -20h-20zM647.4 2124.7l10 -20h-20zM653.5 2125.2l10 -20h-20zM659.5 2122.9l10 -20h-20zM665.6 2124.3l10 -20h-20zM671.7 2125.5l10 -20h-20zM677.8 2125.1l10 -20h-20zM683.9 2124.8l10 -20h-20zM689.9 2125.8l10 -20h-20zM696 2125.5l10 -20h-20zM702.1 2125.5l10 -20h-20zM708.2 2124.5l10 -20h-20zM714.2 2124.2l10 -20h-20zM720.3 2124.1l10 -20h-20zM726.4 2125.1l10 -20h-20zM732.5 2124.5l10 -20h-20zM738.5 2125.4l10 -20h-20zM744.6 2124.2l10 -20h-20zM750.7 2124.7l10 -20h-20zM756.8 2125.8l10 -20h-20zM762.8 2124.3l10 -20h-20zM768.9 2126.9l10 -20h-20zM775 2127.1l10 -20h-20zM781 2127l10 -20h-20zM787.1 2126.3l10 -20h-20zM793.2 2127.3l10 -20h-20zM799.3 2127.6l10 -20h-20zM805.4 2128.5l10 -20h-20zM811.4 2126.6l10 -20h-20zM817.5 2127l10 -20h-20zM823.6 2124l10 -20h-20zM829.7 2124.6l10 -20h-20zM835.7 2126.9l10 -20h-20zM841.8 2125l10 -20h-20zM847.9 2125.7l10 -20h-20zM854 2125l10 -20h-20zM860 2127.1l10 -20h-20zM866.1 2125.3l10 -20h-20zM872.2 2124.9l10 -20h-20zM878.2 2126.4l10 -20h-20zM884.3 2127.3l10 -20h-20zM890.4 2127.2l10 -20h-20zM896.5 2126.4l10 -20h-20zM902.5 2123.9l10 -20h-20zM908.6 2123.9l10 -20h-20zM914.7 2124.2l10 -20h-20zM920.8 2126.2l10 -20h-20zM926.9 2126.9l10 -20h-20zM932.9 2126.4l10 -20h-20zM939 2127l10 -20h-20zM945.1 2127.4l10 -20h-20zM951.2 2127.2l10 -20h-20zM957.2 2126.1l10 -20h-20zM963.3 2126.8l10 -20h-20zM969.4 2126.7l10 -20h-20zM975.5 2127.2l10 -20h-20zM981.5 2127.3l10 -20h-20zM987.6 2127.5l10 -20h-20zM993.7 2125.9l10 -20h-20zM999.8 2126.5l10 -20h-20zM1005.8 2125.4l10 -20h-20zM1011.9 2126.9l10 -20h-20zM1018 2126l10 -20h-20zM1024 2128.4l10 -20h-20zM1030.1 2128.1l10 -20h-20zM1036.2 2127.7l10 -20h-20zM1042.3 2128.2l10 -20h-20zM1048.4 2127.8l10 -20h-20zM1054.4 2128.6l10 -20h-20zM1060.5 2128l10 -20h-20zM1066.6 2128.4l10 -20h-20zM1072.7 2127.9l10 -20h-20zM1078.7 2128l10 -20h-20zM1084.8 2128.9l10 -20h-20zM1090.9 2128.5l10 -20h-20zM1097 2127.9l10 -20h-20zM1103 2129.2l10 -20h-20zM1109.1 2128.1l10 -20h-20zM1115.2 2126.6l10 -20h-20zM1121.2 2127.8l10 -20h-20zM1127.3 2127.3l10 -20h-20zM1133.4 2127.1l10 -20h-20zM1139.5 2128.6l10 -20h-20zM1145.5 2126.8l10 -20h-20zM1151.6 2125l10 -20h-20zM1157.7 2128.3l10 -20h-20zM1163.8 2125.8l10 -20h-20zM1169.9 2128.2l10 -20h-20zM1175.9 2126.6l10 -20h-20zM1182 2129.6l10 -20h-20zM1188.1 2127.4l10 -20h-20zM1194.2 2127.8l10 -20h-20zM1200.2 2129.5l10 -20h-20zM1206.3 2129.5l10 -20h-20zM1212.4 2129.7l10 -20h-20zM1218.5 2129.7l10 -20h-20zM1224.5 2128.3l10 -20h-20zM1230.6 2128.5l10 -20h-20zM1236.7 2131.1l10 -20h-20zM1242.8 2129.5l10 -20h-20zM1248.8 2128.2l10 -20h-20zM1254.9 2128.2l10 -20h-20zM1261 2126.5l10 -20h-20zM1267 2129.8l10 -20h-20zM1273.1 2128.6l10 -20h-20zM1279.2 2128.5l10 -20h-20zM1285.3 2127.7l10 -20h-20zM1291.3 2129.7l10 -20h-20zM1297.4 2130.3l10 -20h-20zM1303.5 2129.2l10 -20h-20zM1309.6 2128.7l10 -20h-20zM1315.7 2130.5l10 -20h-20zM1321.7 2128.8l10 -20h-20zM1327.8 2128.7l10 -20h-20zM1333.9 2127.8l10 -20h-20zM1340 2131.2l10 -20h-20zM1346 2128.9l10 -20h-20zM1352.1 2129.7l10 -20h-20zM1358.2 2129.5l10 -20h-20zM1364.2 2128.1l10 -20h-20zM1370.3 2126.7l10 -20h-20zM1376.4 2128l10 -20h-20zM1382.5 2128.6l10 -20h-20zM1388.5 2127.3l10 -20h-20zM1394.6 2129.3l10 -20h-20zM1400.7 2129.1l10 -20h-20zM1406.8 2129.5l10 -20h-20zM1412.8 2130.1l10 -20h-20zM1418.9 2129l10 -20h-20zM1425 2126.8l10 -20h-20zM1431.1 2128l10 -20h-20zM1437.2 2128.1l10 -20h-20zM1443.2 2128.7l10 -20h-20zM1449.3 2127.7l10 -20h-20z" fill="#ff00ff"/>
<path d="M240.4 2085.5 246.5 2086.4 252.5 2085.3 258.6 2083.4 264.7 2085.6 270.8 2085.1 276.8 2087.1 282.9 2085.5 289 2087.8 295.1 2088.6 301.1 2090.6 307.2 2090.2 313.3 2092 319.4 2094.8 325.4 2093.8 331.5 2096 337.6 2093.4 343.7 2093.7 349.7 2095.1 355.8 2094.8 361.9 2099.4 368 2095.4 374 2097.4 380.1 2096.5 386.2 2093.9 392.2 2098.9 398.3 2099 404.4 2098.3 410.5 2098.2 416.6 2101.2 422.6 2101.3 428.7 2098.4 434.8 2100.4 440.9 2099.6 446.9 2102.1 453 2102.4 459.1 2103.8 465.1 2101.6 471.2 2099.9 477.3 2100.9 483.4 2101.9 489.5 2101.6 495.5 2101.4 501.6 2102.5 507.7 2101.8 513.8 2099.9 519.8 2099.1 525.9 2102.8 532 2104.8 538 2101.3 544.1 2101.6 550.2 2101.4 556.3 2102.3 562.4 2103.7 568.4 2102.6 574.5 2102.2 580.6 2102.1 586.7 2105.1 592.7 2103.3 598.8 2104.7 604.9 2105.2 611 2104.5 617 2105.3 623.1 2102.1 629.2 2103.5 635.2 2104.4 641.3 2105.4 647.4 2105.2 653.5 2105.8 659.5 2105 665.6 2104.5 671.7 2104.5 677.8 2107.3 683.9 2107 689.9 2106.5 696 2108.1 702.1 2106.6 708.2 2106.9 714.2 2106.8 720.3 2106.4 726.4 2107.7 732.5 2105.2 738.5 2105.2 744.6 2107.4 750.7 2106.8 756.8 2106.3 762.8 2108.2 768.9 2108.3 775 2107 781 2111.1 787.1 2110.7 793.2 2108.4 799.3 2107.4 805.4 2109.2 811.4 2107.4 817.5 2105.1 823.6 2107.2 829.7 2108.2 835.7 2108.4 841.8 2110 847.9 2108.4 854 2108.5 860 2107.7 866.1 2106.6 872.2 2108.2 878.2 2108.5 884.3 2108.4 890.4 2106.5 896.5 2110.3 902.5 2109.5 908.6 2110.1 914.7 2109.3 920.8 2108.1 926.9 2108.8 932.9 2108.2 939 2108.7 945.1 2110.1 951.2 2110.5 957.2 2111.6 963.3 2109.8 969.4 2110.1 975.5 2108.6 981.5 2108 987.6 2110.3 993.7 2111.3 999.8 2109.4 1005.8 2110.8 1011.9 2109.8 1018 2109 1024 2110.1 1030.1 2107.6 1036.2 2110.3 1042.3 2109.5 1048.4 2110.4 1054.4 2114 1060.5 2111.5 1066.6 2110.7 1072.7 2109.6 1078.7 2110.2 1084.8 2111.2 1090.9 2111.2 1097 2111 1103 2109.5 1109.1 2110.5 1115.2 2108.8 1121.2 2108.8 1127.3 2111 1133.4 2109.3 1139.5 2113.2 1145.5 2111.3 1151.6 2112.1 1157.7 2111.2 1163.8 2109.3 1169.9 2110.2 1175.9 2110.8 1182 2109 1188.1 2111.2 1194.2 2112 1200.2 2109.8 1206.3 2109.7 1212.4 2112.4 1218.5 2111.1 1224.5 2109.9 1230.6 2110.8 1236.7 2111.4 1242.8 2110.9 1248.8 2110.6 1254.9 2111.8 1261 2110.1 1267 2112.8 1273.1 2111.6 1279.2 2108.3 1285.3 2111.6 1291.3 2111.3 1297.4 2114.2 1303.5 2113.1 1309.6 2113.2 1315.7 2111.7 1321.7 2112 1327.8 2108.9 1333.9 2111.7 1340 2111.4 1346 2111 1352.1 2110.3 1358.2 2109.8 1364.2 2112.9 1370.3 2108.8 1376.4 2111 1382.5 2112.2 1388.5 2113.8 1394.6 2112.7 1400.7 2114.1 1406.8 2112 1412.8 2112.4 1418.9 2111.3 1425 2112.5 1431.1 2111.7 1437.2 2108.6 1443.2 2109.1 1449.3 2110.6" fill="none" stroke="#ee88ee" stroke-width="1.5"/>
<g fill="#fff" stroke="#ff11ff" stroke-width="2.0">
<path d="M240.4 2075.5l10 20h-20z"/>
<path d="M246.5 2076.4l10 20h-20z"/>
<path d="M252.5 2075.3l10 20h-20z"/>
<path d="M258.6 2073.4l10 20h-20z"/>
<path d="M264.7 2075.6l10 20h-20z"/>
<path d="M270.8 2075.1l10 20h-20z"/>
<path d="M276.8 2077.1l10 20h-20z"/>
<path d="M282.9 2075.5l10 20h-20z"/>
<path d="M289 2077.8l10 20h-20z"/>
<path d="M295.1 2078.6l10 20h-20z"/>
<path d="M301.1 2080.6l10 20h-20z"/>
<path d="M307.2 2080.2l10 20h-20z"/>
<path d="M313.3 2082l10 20h-20z"/>
<path d="M319.4 2084.8l10 20h-20z"/>
<path d="M325.4 2083.8l10 20h-20z"/>
<path d="M331.5 2086l10 20h-20z"/>
<path d="M337.6 2083.4l10 20h-20z"/>
<path d="M343.7 2083.7l10 20h-20z"/>
<path d="M349.7 2085.1l10 20h-20z"/>
<path d="M355.8 2084.8l10 20h-20z"/>
<path d="M361.9 2089.4l10 20h-20z"/>
<path d="M368 2085.4l10 20h-20z"/>
<path d="M374 2087.4l10 20h-20z"/>
<path d="M380.1 2086.5l10 20h-20z"/>
<path d="M386.2 2083.9l10 20h-20z"/>
<path d="M392.2 2088.9l10 20h-20z"/>
<path d="M398.3 2089l10 20h-20z"/>
<path d="M404.4 2088.3l10 20h-20z"/>
<path d="M410.5 2088.2l10 20h-20z"/>
<path d="M416.6 2091.2l10 20h-20z"/>
<path d="M422.6 2091.3l10 20h-20z"/>
<path d="M428.7 2088.4l10 20h-20z"/>
<path d="M434.8 2090.4l10 20h-20z"/>
<path d="M440.9 2089.6l10 20h-20z"/>
<path d="M446.9 2092.1l10 20h-20z"/>
<path d="M453 2092.4l10 20h-20z"/>
<path d="M459.1 2093.8l10 20h-20z"/>
<path d="M465.1 2091.6l10 20h-20z"/>
<path d="M471.2 2089.9l10 20h-20z"/>
<path d="M477.3 2090.9l10 20h-20z"/>
<path d="M483.4 2091.9l10 20h-20z"/>
<path d="M489.5 2091.6l10 20h-20z"/>
<path d="M495.5 2091.4l10 20h-20z"/>
<path d="M501.6 2092.5l10 20h-20z"/>
<path d="M507.7 2091.8l10 20h-20z"/>
<path d="M513.8 2089.9l10 20h-20z"/>
<path d="M519.8 2089.1l10 20h-20z"/>
<path d="M525.9 2092.8l10 20h-20z"/>
<path d="M532 2094.8l10 20h-20z"/>
<path d="M538 2091.3l10 20h-20z"/>
<path d="M544.1 2091.6l10 20h-20z"/>
<path d="M550.2 2091.4l10 20h-20z"/>
<path d="M556.3 2092.3l10 20h-20z"/>
<path d="M562.4 2093.7l10 20h-20z"/>
<path d="M568.4 2092.6l10 20h-20z"/>
<path d="M574.5 2092.2l10 20h-20z"/>
<path d="M580.6 2092.1l10 20h-20z"/>
<path d="M586.7 2095.1l10 20h-20z"/>
<path d="M592.7 2093.3l10 20h-20z"/>
<path d="M598.8 2094.7l10 20h-20z"/>
<path d="M604.9 2095.2l10 20h-20z"/>
<path d="M611 2094.5l10 20h-20z"/>
<path d="M617 2095.3l10 20h-20z"/>
<path d="M623.1 2092.1l10 20h-20z"/>
<path d="M629.2 2093.5l10 20h-20z"/>
<path d="M635.2 2094.4l10 20h-20z"/>
<path d="M641.3 2095.4l10 20h-20z"/>
<path d="M647.4 2095.2l10 20h-20z"/>
<path d="M653.5 2095.8l10 20h-20z"/>
<path d="M659.5 2095l10 20h-20z"/>
<path d="M665.6 2094.5l10 20h-20z"/>
<path d="M671.7 2094.5l10 20h-20z"/>
<path d="M677.8 2097.3l10 20h-20z"/>
<path d="M683.9 2097l10 20h-20z"/>
<path d="M689.9 2096.5l10 20h-20z"/>
<path d="M696 2098.1l10 20h-20z"/>
<path d="M702.1 2096.6l10 20h-20z"/>
<path d="M708.2 2096.9l10 20h-20z"/>
<path d="M714.2 2096.8l10 20h-20z"/>
<path d="M720.3 2096.4l10 20h-20z"/>
<path d="M726.4 2097.7l10 20h-20z"/>
<path d="M732.5 2095.2l10 20h-20z"/>
<path d="M738.5 2095.2l10 20h-20z"/>
<path d="M744.6 2097.4l10 20h-20z"/>
<path d="M750.7 2096.8l10 20h-20z"/>
<path d="M756.8 2096.3l10 20h-20z"/>
<path d="M762.8 2098.2l10 20h-20z"/>
<path d="M768.9 2098.3l10 20h-20z"/>
<path d="M775 2097l10 20h-20z"/>
<path d="M781 2101.1l10 20h-20z"/>
<path d="M787.1 2100.7l10 20h-20z"/>
<path d="M793.2 2098.4l10 20h-20z"/>
<path d="M799.3 2097.4l10 20h-20z"/>
<path d="M805.4 2099.2l10 20h-20z"/>
<path d="M811.4 2097.4l10 20h-20z"/>
<path d="M817.5 2095.1l10 20h-20z"/>
<path d="M823.6 2097.2l10 20h-20z"/>
<path d="M829.7 2098.2l10 20h-20z"/>
<path d="M835.7 2098.4l10 20h-20z"/>
<path d="M841.8 2100l10 20h-20z"/>
<path d="M847.9 2098.4l10 20h-20z"/>
<path d="M854 2098.5l10 20h-20z"/>
<path d="M860 2097.7l10 20h-20z"/>
<path d="M866.1 2096.6l10 20h-20z"/>
<path d="M872.2 2098.2l10 20h-20z"/>
<path d="M878.2 2098.5l10 20h-20z"/>
<path d="M884.3 2098.4l10 20h-20z"/>
<path d="M890.4 2096.5l10 20h-20z"/>
<path d="M896.5 2100.3l10 20h-20z"/>
<path d="M902.5 2099.5l10 20h-20z"/>
<path d="M908.6 2100.1l10 20h-20z"/>
<path d="M914.7 2099.3l10 20h-20z"/>
<path d="M920.8 2098.1l10 20h-20z"/>
<path d="M926.9 2098.8l10 20h-20z"/>
<path d="M932.9 2098.2l10 20h-20z"/>
<path d="M939 2098.7l10 20h-20z"/>
<path d="M945.1 2100.1l10 20h-20z"/>
<path d="M951.2 2100.5l10 20h-20z"/>
<path d="M957.2 2101.6l10 20h-20z"/>
<path d="M963.3 2099.8l10 20h-20z"/>
<path d="M969.4 2100.1l10 20h-20z"/>
<path d="M975.5 2098.6l10 20h-20z"/>
<path d="M981.5 2098l10 20h-20z"/>
<path d="M987.6 2100.3l10 20h-20z"/>
<path d="M993.7 2101.3l10 20h-20z"/>
<path d="M999.8 2099.4l10 20h-20z"/>
<path d="M1005.8 2100.8l10 20h-20z"/>
<path d="M1011.9 2099.8l10 20h-20z"/>
<path d="M1018 2099l10 20h-20z"/>
<path d="M1024 2100.1l10 20h-20z"/>
<path d="M1030.1 2097.6l10 20h-20z"/>
<path d="M1036.2 2100.3l10 20h-20z"/>
<path d="M1042.3 2099.5l10 20h-20z"/>
<path d="M1048.4 2100.4l10 20h-20z"/>
<path d="M1054.4 2104l10 20h-20z"/>
<path d="M1060.5 2101.5l10 20h-20z"/>
<path d="M1066.6 2100.7l10 20h-20z"/>
<path d="M1072.7 2099.6l10 20h-20z"/>
<path d="M1078.7 2100.2l10 20h-20z"/>
<path d="M1084.8 2101.2l10 20h-20z"/>
<path d="M1090.9 2101.2l10 20h-20z"/>
<path d="M1097 2101l10 20h-20z"/>
<path d="M1103 2099.5l10 20h-20z"/>
<path d="M1109.1 2100.5l10 20h-20z"/>
<path d="M1115.2 2098.8l10 20h-20z"/>
<path d="M1121.2 2098.8l10 20h-20z"/>
<path d="M1127.3 2101l10 20h-20z"/>
<path d="M1133.4 2099.3l10 20h-20z"/>
<path d="M1139.5 2103.2l10 20h-20z"/>
<path d="M1145.5 2101.3l10 20h-20z"/>
<path d="M1151.6 2102.1l10 20h-20z"/>
<path d="M1157.7 2101.2l10 20h-20z"/>
<path d="M1163.8 2099.3l10 20h-20z"/>
<path d="M1169.9 2100.2l10 20h-20z"/>
<path d="M1175.9 2100.8l10 20h-20z"/>
<path d="M1182 2099l10 20h-20z"/>
<path d="M1188.1 2101.2l10 20h-20z"/>
<path d="M1194.2 2102l10 20h-20z"/>
<path d="M1200.2 2099.8l10 20h-20z"/>
<path d="M1206.3 2099.7l10 20h-20z"/>
<path d="M1212.4 2102.4l10 20h-20z"/>
<path d="M1218.5 2101.1l10 20h-20z"/>
<path d="M1224.5 2099.9l10 20h-20z"/>
<path d="M1230.6 2100.8l10 20h-20z"/>
<path d="M1236.7 2101.4l10 20h-20z"/>
<path d="M1242.8 2100.9l10 20h-20z"/>
<path d="M1248.8 2100.6l10 20h-20z"/>
<path d="M1254.9 2101.8l10 20h-20z"/>
<path d="M1261 2100.1l10 20h-20z"/>
<path d="M1267 2102.8l10 20h-20z"/>
<path d="M1273.1 2101.6l10 20h-20z"/>
<path d="M1279.2 2098.3l10 20h-20z"/>
<path d="M1285.3 2101.6l10 20h-20z"/>
<path d="M1291.3 2101.3l10 20h-20z"/>
<path d="M1297.4 2104.2l10 20h-20z"/>
<path d="M1303.5 2103.1l10 20h-20z"/>
<path d="M1309.6 2103.2l10 20h-20z"/>
<path d="M1315.7 2101.7l10 20h-20z"/>
<path d="M1321.7 2102l10 20h-20z"/>
<path d="M1327.8 2098.9l10 20h-20z"/>
<path d="M1333.9 2101.7l10 20h-20z"/>
<path d="M1340 2101.4l10 20h-20z"/>
<path d="M1346 2101l10 20h-20z"/>
<path d="M1352.1 2100.3l10 20h-20z"/>
<path d="M1358.2 2099.8l10 20h-20z"/>
<path d="M1364.2 2102.9l10 20h-20z"/>
<path d="M1370.3 2098.8l10 20h-20z"/>
<path d="M1376.4 2101l10 20h-20z"/>
<path d="M1382.5 2102.2l10 20h-20z"/>
<path d="M1388.5 2103.8l10 20h-20z"/>
<path d="M1394.6 2102.7l10 20h-20z"/>
<path d="M1400.7 2104.1l10 20h-20z"/>
<path d="M1406.8 2102l10 20h-20z"/>
<path d="M1412.8 2102.4l10 20h-20z"/>
<path d="M1418.9 2101.3l10 20h-20z"/>
<path d="M1425 2102.5l10 20h-20z"/>
<path d="M1431.1 2101.7l10 20h-20z"/>
<path d="M1437.2 2098.6l10 20h-20z"/>
<path d="M1443.2 2099.1l10 20h-20z"/>
<path d="M1449.3 2100.6l10 20h-20z"/>
</g>
</g>
<rect x="234.3" y="1248" width="1215" height="884" fill="none" stroke="#000" stroke-width="2.6"/>
<text transform="translate(216.5 2146) scale(1 1.05)" text-anchor="end" style="font-family:'Liberation Sans',Arial,Helvetica,sans-serif;font-weight:bold;font-size:44px;letter-spacing:1px">0</text>
<text transform="translate(216.5 1960) scale(1 1.05)" text-anchor="end" style="font-family:'Liberation Sans',Arial,Helvetica,sans-serif;font-weight:bold;font-size:44px;letter-spacing:1px">200</text>
<text transform="translate(216.5 1773.9) scale(1 1.05)" text-anchor="end" style="font-family:'Liberation Sans',Arial,Helvetica,sans-serif;font-weight:bold;font-size:44px;letter-spacing:1px">400</text>
<text transform="translate(216.5 1587.8) scale(1 1.05)" text-anchor="end" style="font-family:'Liberation Sans',Arial,Helvetica,sans-serif;font-weight:bold;font-size:44px;letter-spacing:1px">600</text>
<text transform="translate(216.5 1401.8) scale(1 1.05)" text-anchor="end" style="font-family:'Liberation Sans',Arial,Helvetica,sans-serif;font-weight:bold;font-size:44px;letter-spacing:1px">800</text>
<text transform="translate(234.3 2188.5) scale(1 1.05)" text-anchor="middle" style="font-family:'Liberation Sans',Arial,Helvetica,sans-serif;font-weight:bold;font-size:44px">0</text>
<text transform="translate(386.2 2188.5) scale(1 1.05)" text-anchor="middle" style="font-family:'Liberation Sans',Arial,Helvetica,sans-serif;font-weight:bold;font-size:44px">25</text>
<text transform="translate(538 2188.5) scale(1 1.05)" text-anchor="middle" style="font-family:'Liberation Sans',Arial,Helvetica,sans-serif;font-weight:bold;font-size:44px">50</text>
<text transform="translate(689.9 2188.5) scale(1 1.05)" text-anchor="middle" style="font-family:'Liberation Sans',Arial,Helvetica,sans-serif;font-weight:bold;font-size:44px">75</text>
<text transform="translate(841.8 2188.5) scale(1 1.05)" text-anchor="middle" style="font-family:'Liberation Sans',Arial,Helvetica,sans-serif;font-weight:bold;font-size:44px">100</text>
<text transform="translate(993.7 2188.5) scale(1 1.05)" text-anchor="middle" style="font-family:'Liberation Sans',Arial,Helvetica,sans-serif;font-weight:bold;font-size:44px">125</text>
<text transform="translate(1145.5 2188.5) scale(1 1.05)" text-anchor="middle" style="font-family:'Liberation Sans',Arial,Helvetica,sans-serif;font-weight:bold;font-size:44px">150</text>
<text transform="translate(1297.4 2188.5) scale(1 1.05)" text-anchor="middle" style="font-family:'Liberation Sans',Arial,Helvetica,sans-serif;font-weight:bold;font-size:44px">175</text>
<text transform="translate(1449.3 2188.5) scale(1 1.05)" text-anchor="middle" style="font-family:'Liberation Sans',Arial,Helvetica,sans-serif;font-weight:bold;font-size:44px">200</text>
<text transform="translate(857.3 2285.5) scale(1 1.05)" text-anchor="middle" style="font-family:'Liberation Sans',Arial,Helvetica,sans-serif;font-weight:bold;font-size:55.6px">Cycle number</text>
<text transform="translate(100.8 1660) rotate(-90) scale(1 1.05)" text-anchor="middle" style="font-family:'Liberation Sans',Arial,Helvetica,sans-serif;font-weight:bold;font-size:55px">Specific capacity (mAhg<tspan dy="-31" style="font-size:34px;font-weight:normal">-1</tspan><tspan dy="31" style="font-weight:normal">)</tspan></text>
<rect x="1069.5" y="1280.5" width="359" height="425.5" fill="#000"/>
<rect x="1056.5" y="1266.5" width="359" height="425.5" fill="#fff"/>
<path d="M1056.5 1266.5V1692H1415.5" fill="none" stroke="#000" stroke-width="2.4"/>
<path d="M1092.8 1305.3h20.5v20.5h-20.5z" fill="#000" stroke="#000" stroke-width="2"/>
<text transform="translate(1149.8 1326) scale(1 1.09)" style="font-family:'Liberation Sans',Arial,Helvetica,sans-serif;font-size:32px">CMB-Ni discharge</text>
<path d="M1066.5 1355.4H1139.2" stroke="#444" stroke-width="2.2"/>
<path d="M1092.8 1345.2h20.5v20.5h-20.5z" fill="#fff" stroke="#222" stroke-width="2"/>
<text transform="translate(1149.8 1365.8) scale(1 1.09)" style="font-family:'Liberation Sans',Arial,Helvetica,sans-serif;font-size:32px">CMB-Ni charge</text>
<path d="M1066.5 1395.2H1139.2" stroke="#66ee66" stroke-width="2.5"/>
<path d="M1103 1381.7l13.5 13.5l-13.5 13.5l-13.5 -13.5z" fill="#11ee11" stroke="#11ee11" stroke-width="2"/>
<text transform="translate(1149.8 1405.6) scale(1 1.09)" style="font-family:'Liberation Sans',Arial,Helvetica,sans-serif;font-size:32px">B800 discharge</text>
<path d="M1066.5 1435.1H1139.2" stroke="#eefaee" stroke-width="2.5"/>
<path d="M1103 1421.6l13.5 13.5l-13.5 13.5l-13.5 -13.5z" fill="#fff" stroke="#22ee22" stroke-width="2"/>
<text transform="translate(1149.8 1445.5) scale(1 1.09)" style="font-family:'Liberation Sans',Arial,Helvetica,sans-serif;font-size:32px">B800 charge</text>
<path d="M1066.5 1474.9H1139.2" stroke="#0000cc" stroke-width="3.2"/>
<path d="M1090.5 1474.9a12.5 12.5 0 1 0 25 0a12.5 12.5 0 1 0 -25 0" fill="#0000ee" stroke="#0000ee" stroke-width="2"/>
<text transform="translate(1149.8 1485.3) scale(1 1.09)" style="font-family:'Liberation Sans',Arial,Helvetica,sans-serif;font-size:32px">B600 discharge</text>
<path d="M1066.5 1514.7H1139.2" stroke="#9999dd" stroke-width="4.2"/>
<path d="M1090.5 1514.7a12.5 12.5 0 1 0 25 0a12.5 12.5 0 1 0 -25 0" fill="#fff" stroke="#2222ff" stroke-width="2"/>
<text transform="translate(1149.8 1525.1) scale(1 1.09)" style="font-family:'Liberation Sans',Arial,Helvetica,sans-serif;font-size:32px">B600 charge</text>
<path d="M1066.5 1554.5H1139.2" stroke="#22dddd" stroke-width="3"/>
<path d="M1103 1542L1106.7 1549.5L1114.9 1550.7L1108.9 1556.5L1110.3 1564.6L1103 1560.8L1095.7 1564.6L1097.1 1556.5L1091.1 1550.7L1099.3 1549.5z" fill="#00eeee" stroke="#00eeee" stroke-width="2"/>
<text transform="translate(1149.8 1564.9) scale(1 1.09)" style="font-family:'Liberation Sans',Arial,Helvetica,sans-serif;font-size:32px">B400 discharge</text>
<path d="M1066.5 1594.3H1139.2" stroke="#33dddd" stroke-width="3"/>
<path d="M1103 1582.3L1106.5 1589.5L1114.4 1590.6L1108.7 1596.2L1110.1 1604L1103 1600.3L1095.9 1604L1097.3 1596.2L1091.6 1590.6L1099.5 1589.5z" fill="#fff" stroke="#11eeee" stroke-width="2"/>
<text transform="translate(1149.8 1604.7) scale(1 1.09)" style="font-family:'Liberation Sans',Arial,Helvetica,sans-serif;font-size:32px">B400 charge</text>
<path d="M1066.5 1634.2H1139.2" stroke="#dd88dd" stroke-width="4"/>
<path d="M1103 1646.2l12 -24h-24z" fill="#ff00ff" stroke="#ff00ff" stroke-width="2"/>
<text transform="translate(1149.8 1644.6) scale(1 1.09)" style="font-family:'Liberation Sans',Arial,Helvetica,sans-serif;font-size:32px">BMB discharge</text>
<path d="M1066.5 1674H1139.2" stroke="#ee99ee" stroke-width="3"/>
<path d="M1103 1662l12 24h-24z" fill="#fff" stroke="#ff22ff" stroke-width="2"/>
<text transform="translate(1149.8 1684.4) scale(1 1.09)" style="font-family:'Liberation Sans',Arial,Helvetica,sans-serif;font-size:32px">BMB charge</text>
</svg>
</body></html>
